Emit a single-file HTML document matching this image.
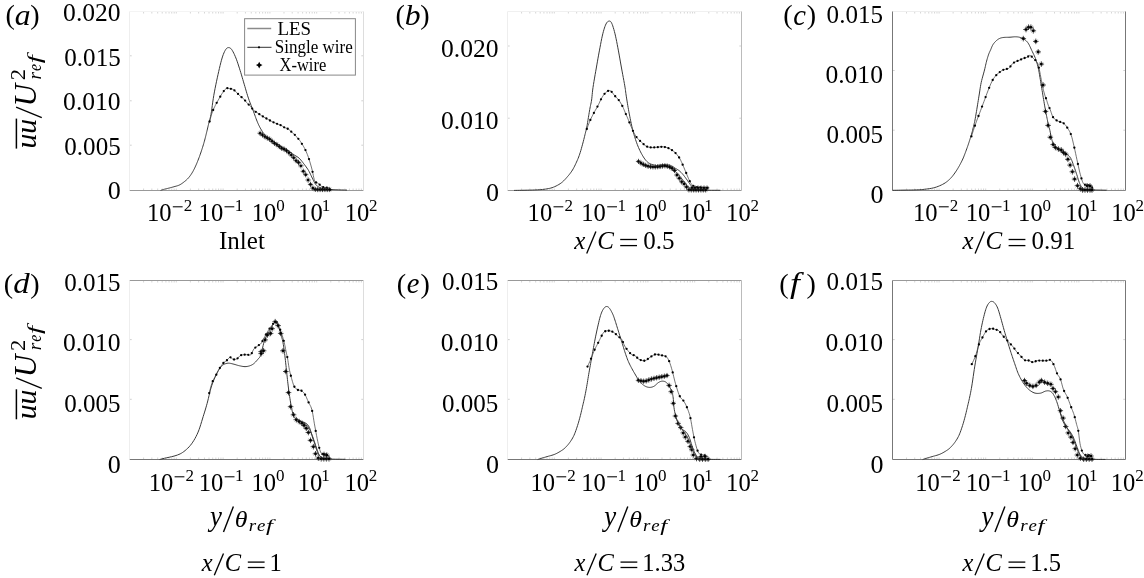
<!DOCTYPE html>
<html><head><meta charset="utf-8"><style>
html,body{margin:0;padding:0;background:#fff;width:1144px;height:578px;overflow:hidden}
svg{display:block;will-change:transform}
text{font-family:"Liberation Serif",serif;fill:#000}
</style></head><body>
<svg width="1144" height="578" viewBox="0 0 1144 578">
<line x1="129.50" y1="11.50" x2="363.50" y2="11.50" stroke="#f4f4f4" stroke-width="1.0" />
<line x1="129.50" y1="190.50" x2="363.50" y2="190.50" stroke="#999" stroke-width="1.0" />
<line x1="129.50" y1="11.50" x2="129.50" y2="190.50" stroke="#eee" stroke-width="1.0" />
<line x1="363.50" y1="11.50" x2="363.50" y2="190.50" stroke="#ddd" stroke-width="1.0" />
<line x1="143.59" y1="12.00" x2="143.59" y2="13.50" stroke="#ccc" stroke-width="0.8" />
<line x1="143.59" y1="190.00" x2="143.59" y2="188.50" stroke="#ccc" stroke-width="0.8" />
<line x1="151.83" y1="12.00" x2="151.83" y2="13.50" stroke="#ccc" stroke-width="0.8" />
<line x1="151.83" y1="190.00" x2="151.83" y2="188.50" stroke="#ccc" stroke-width="0.8" />
<line x1="157.68" y1="12.00" x2="157.68" y2="13.50" stroke="#ccc" stroke-width="0.8" />
<line x1="157.68" y1="190.00" x2="157.68" y2="188.50" stroke="#ccc" stroke-width="0.8" />
<line x1="162.21" y1="12.00" x2="162.21" y2="13.50" stroke="#ccc" stroke-width="0.8" />
<line x1="162.21" y1="190.00" x2="162.21" y2="188.50" stroke="#ccc" stroke-width="0.8" />
<line x1="165.92" y1="12.00" x2="165.92" y2="13.50" stroke="#ccc" stroke-width="0.8" />
<line x1="165.92" y1="190.00" x2="165.92" y2="188.50" stroke="#ccc" stroke-width="0.8" />
<line x1="169.05" y1="12.00" x2="169.05" y2="13.50" stroke="#ccc" stroke-width="0.8" />
<line x1="169.05" y1="190.00" x2="169.05" y2="188.50" stroke="#ccc" stroke-width="0.8" />
<line x1="171.76" y1="12.00" x2="171.76" y2="13.50" stroke="#ccc" stroke-width="0.8" />
<line x1="171.76" y1="190.00" x2="171.76" y2="188.50" stroke="#ccc" stroke-width="0.8" />
<line x1="174.16" y1="12.00" x2="174.16" y2="13.50" stroke="#ccc" stroke-width="0.8" />
<line x1="174.16" y1="190.00" x2="174.16" y2="188.50" stroke="#ccc" stroke-width="0.8" />
<line x1="176.30" y1="12.00" x2="176.30" y2="13.50" stroke="#ccc" stroke-width="0.8" />
<line x1="176.30" y1="190.00" x2="176.30" y2="188.50" stroke="#ccc" stroke-width="0.8" />
<line x1="190.39" y1="12.00" x2="190.39" y2="13.50" stroke="#ccc" stroke-width="0.8" />
<line x1="190.39" y1="190.00" x2="190.39" y2="188.50" stroke="#ccc" stroke-width="0.8" />
<line x1="198.63" y1="12.00" x2="198.63" y2="13.50" stroke="#ccc" stroke-width="0.8" />
<line x1="198.63" y1="190.00" x2="198.63" y2="188.50" stroke="#ccc" stroke-width="0.8" />
<line x1="204.48" y1="12.00" x2="204.48" y2="13.50" stroke="#ccc" stroke-width="0.8" />
<line x1="204.48" y1="190.00" x2="204.48" y2="188.50" stroke="#ccc" stroke-width="0.8" />
<line x1="209.01" y1="12.00" x2="209.01" y2="13.50" stroke="#ccc" stroke-width="0.8" />
<line x1="209.01" y1="190.00" x2="209.01" y2="188.50" stroke="#ccc" stroke-width="0.8" />
<line x1="212.72" y1="12.00" x2="212.72" y2="13.50" stroke="#ccc" stroke-width="0.8" />
<line x1="212.72" y1="190.00" x2="212.72" y2="188.50" stroke="#ccc" stroke-width="0.8" />
<line x1="215.85" y1="12.00" x2="215.85" y2="13.50" stroke="#ccc" stroke-width="0.8" />
<line x1="215.85" y1="190.00" x2="215.85" y2="188.50" stroke="#ccc" stroke-width="0.8" />
<line x1="218.56" y1="12.00" x2="218.56" y2="13.50" stroke="#ccc" stroke-width="0.8" />
<line x1="218.56" y1="190.00" x2="218.56" y2="188.50" stroke="#ccc" stroke-width="0.8" />
<line x1="220.96" y1="12.00" x2="220.96" y2="13.50" stroke="#ccc" stroke-width="0.8" />
<line x1="220.96" y1="190.00" x2="220.96" y2="188.50" stroke="#ccc" stroke-width="0.8" />
<line x1="223.10" y1="12.00" x2="223.10" y2="13.50" stroke="#ccc" stroke-width="0.8" />
<line x1="223.10" y1="190.00" x2="223.10" y2="188.50" stroke="#ccc" stroke-width="0.8" />
<line x1="237.19" y1="12.00" x2="237.19" y2="13.50" stroke="#ccc" stroke-width="0.8" />
<line x1="237.19" y1="190.00" x2="237.19" y2="188.50" stroke="#ccc" stroke-width="0.8" />
<line x1="245.43" y1="12.00" x2="245.43" y2="13.50" stroke="#ccc" stroke-width="0.8" />
<line x1="245.43" y1="190.00" x2="245.43" y2="188.50" stroke="#ccc" stroke-width="0.8" />
<line x1="251.28" y1="12.00" x2="251.28" y2="13.50" stroke="#ccc" stroke-width="0.8" />
<line x1="251.28" y1="190.00" x2="251.28" y2="188.50" stroke="#ccc" stroke-width="0.8" />
<line x1="255.81" y1="12.00" x2="255.81" y2="13.50" stroke="#ccc" stroke-width="0.8" />
<line x1="255.81" y1="190.00" x2="255.81" y2="188.50" stroke="#ccc" stroke-width="0.8" />
<line x1="259.52" y1="12.00" x2="259.52" y2="13.50" stroke="#ccc" stroke-width="0.8" />
<line x1="259.52" y1="190.00" x2="259.52" y2="188.50" stroke="#ccc" stroke-width="0.8" />
<line x1="262.65" y1="12.00" x2="262.65" y2="13.50" stroke="#ccc" stroke-width="0.8" />
<line x1="262.65" y1="190.00" x2="262.65" y2="188.50" stroke="#ccc" stroke-width="0.8" />
<line x1="265.36" y1="12.00" x2="265.36" y2="13.50" stroke="#ccc" stroke-width="0.8" />
<line x1="265.36" y1="190.00" x2="265.36" y2="188.50" stroke="#ccc" stroke-width="0.8" />
<line x1="267.76" y1="12.00" x2="267.76" y2="13.50" stroke="#ccc" stroke-width="0.8" />
<line x1="267.76" y1="190.00" x2="267.76" y2="188.50" stroke="#ccc" stroke-width="0.8" />
<line x1="269.90" y1="12.00" x2="269.90" y2="13.50" stroke="#ccc" stroke-width="0.8" />
<line x1="269.90" y1="190.00" x2="269.90" y2="188.50" stroke="#ccc" stroke-width="0.8" />
<line x1="283.99" y1="12.00" x2="283.99" y2="13.50" stroke="#ccc" stroke-width="0.8" />
<line x1="283.99" y1="190.00" x2="283.99" y2="188.50" stroke="#ccc" stroke-width="0.8" />
<line x1="292.23" y1="12.00" x2="292.23" y2="13.50" stroke="#ccc" stroke-width="0.8" />
<line x1="292.23" y1="190.00" x2="292.23" y2="188.50" stroke="#ccc" stroke-width="0.8" />
<line x1="298.08" y1="12.00" x2="298.08" y2="13.50" stroke="#ccc" stroke-width="0.8" />
<line x1="298.08" y1="190.00" x2="298.08" y2="188.50" stroke="#ccc" stroke-width="0.8" />
<line x1="302.61" y1="12.00" x2="302.61" y2="13.50" stroke="#ccc" stroke-width="0.8" />
<line x1="302.61" y1="190.00" x2="302.61" y2="188.50" stroke="#ccc" stroke-width="0.8" />
<line x1="306.32" y1="12.00" x2="306.32" y2="13.50" stroke="#ccc" stroke-width="0.8" />
<line x1="306.32" y1="190.00" x2="306.32" y2="188.50" stroke="#ccc" stroke-width="0.8" />
<line x1="309.45" y1="12.00" x2="309.45" y2="13.50" stroke="#ccc" stroke-width="0.8" />
<line x1="309.45" y1="190.00" x2="309.45" y2="188.50" stroke="#ccc" stroke-width="0.8" />
<line x1="312.16" y1="12.00" x2="312.16" y2="13.50" stroke="#ccc" stroke-width="0.8" />
<line x1="312.16" y1="190.00" x2="312.16" y2="188.50" stroke="#ccc" stroke-width="0.8" />
<line x1="314.56" y1="12.00" x2="314.56" y2="13.50" stroke="#ccc" stroke-width="0.8" />
<line x1="314.56" y1="190.00" x2="314.56" y2="188.50" stroke="#ccc" stroke-width="0.8" />
<line x1="316.70" y1="12.00" x2="316.70" y2="13.50" stroke="#ccc" stroke-width="0.8" />
<line x1="316.70" y1="190.00" x2="316.70" y2="188.50" stroke="#ccc" stroke-width="0.8" />
<line x1="330.79" y1="12.00" x2="330.79" y2="13.50" stroke="#ccc" stroke-width="0.8" />
<line x1="330.79" y1="190.00" x2="330.79" y2="188.50" stroke="#ccc" stroke-width="0.8" />
<line x1="339.03" y1="12.00" x2="339.03" y2="13.50" stroke="#ccc" stroke-width="0.8" />
<line x1="339.03" y1="190.00" x2="339.03" y2="188.50" stroke="#ccc" stroke-width="0.8" />
<line x1="344.88" y1="12.00" x2="344.88" y2="13.50" stroke="#ccc" stroke-width="0.8" />
<line x1="344.88" y1="190.00" x2="344.88" y2="188.50" stroke="#ccc" stroke-width="0.8" />
<line x1="349.41" y1="12.00" x2="349.41" y2="13.50" stroke="#ccc" stroke-width="0.8" />
<line x1="349.41" y1="190.00" x2="349.41" y2="188.50" stroke="#ccc" stroke-width="0.8" />
<line x1="353.12" y1="12.00" x2="353.12" y2="13.50" stroke="#ccc" stroke-width="0.8" />
<line x1="353.12" y1="190.00" x2="353.12" y2="188.50" stroke="#ccc" stroke-width="0.8" />
<line x1="356.25" y1="12.00" x2="356.25" y2="13.50" stroke="#ccc" stroke-width="0.8" />
<line x1="356.25" y1="190.00" x2="356.25" y2="188.50" stroke="#ccc" stroke-width="0.8" />
<line x1="358.96" y1="12.00" x2="358.96" y2="13.50" stroke="#ccc" stroke-width="0.8" />
<line x1="358.96" y1="190.00" x2="358.96" y2="188.50" stroke="#ccc" stroke-width="0.8" />
<line x1="361.36" y1="12.00" x2="361.36" y2="13.50" stroke="#ccc" stroke-width="0.8" />
<line x1="361.36" y1="190.00" x2="361.36" y2="188.50" stroke="#ccc" stroke-width="0.8" />
<line x1="130.00" y1="145.20" x2="131.70" y2="145.20" stroke="#ccc" stroke-width="0.9" />
<line x1="363.00" y1="145.20" x2="361.30" y2="145.20" stroke="#ccc" stroke-width="0.9" />
<line x1="130.00" y1="100.80" x2="131.70" y2="100.80" stroke="#ccc" stroke-width="0.9" />
<line x1="363.00" y1="100.80" x2="361.30" y2="100.80" stroke="#ccc" stroke-width="0.9" />
<line x1="130.00" y1="55.80" x2="131.70" y2="55.80" stroke="#ccc" stroke-width="0.9" />
<line x1="363.00" y1="55.80" x2="361.30" y2="55.80" stroke="#ccc" stroke-width="0.9" />
<line x1="507.50" y1="11.50" x2="741.50" y2="11.50" stroke="#f0f0f0" stroke-width="1.0" />
<line x1="507.50" y1="190.50" x2="741.50" y2="190.50" stroke="#999" stroke-width="1.0" />
<line x1="507.50" y1="11.50" x2="507.50" y2="190.50" stroke="#eee" stroke-width="1.0" />
<line x1="741.50" y1="11.50" x2="741.50" y2="190.50" stroke="#bbb" stroke-width="1.0" />
<line x1="521.59" y1="12.00" x2="521.59" y2="13.50" stroke="#ccc" stroke-width="0.8" />
<line x1="521.59" y1="190.00" x2="521.59" y2="188.50" stroke="#ccc" stroke-width="0.8" />
<line x1="529.83" y1="12.00" x2="529.83" y2="13.50" stroke="#ccc" stroke-width="0.8" />
<line x1="529.83" y1="190.00" x2="529.83" y2="188.50" stroke="#ccc" stroke-width="0.8" />
<line x1="535.68" y1="12.00" x2="535.68" y2="13.50" stroke="#ccc" stroke-width="0.8" />
<line x1="535.68" y1="190.00" x2="535.68" y2="188.50" stroke="#ccc" stroke-width="0.8" />
<line x1="540.21" y1="12.00" x2="540.21" y2="13.50" stroke="#ccc" stroke-width="0.8" />
<line x1="540.21" y1="190.00" x2="540.21" y2="188.50" stroke="#ccc" stroke-width="0.8" />
<line x1="543.92" y1="12.00" x2="543.92" y2="13.50" stroke="#ccc" stroke-width="0.8" />
<line x1="543.92" y1="190.00" x2="543.92" y2="188.50" stroke="#ccc" stroke-width="0.8" />
<line x1="547.05" y1="12.00" x2="547.05" y2="13.50" stroke="#ccc" stroke-width="0.8" />
<line x1="547.05" y1="190.00" x2="547.05" y2="188.50" stroke="#ccc" stroke-width="0.8" />
<line x1="549.76" y1="12.00" x2="549.76" y2="13.50" stroke="#ccc" stroke-width="0.8" />
<line x1="549.76" y1="190.00" x2="549.76" y2="188.50" stroke="#ccc" stroke-width="0.8" />
<line x1="552.16" y1="12.00" x2="552.16" y2="13.50" stroke="#ccc" stroke-width="0.8" />
<line x1="552.16" y1="190.00" x2="552.16" y2="188.50" stroke="#ccc" stroke-width="0.8" />
<line x1="554.30" y1="12.00" x2="554.30" y2="13.50" stroke="#ccc" stroke-width="0.8" />
<line x1="554.30" y1="190.00" x2="554.30" y2="188.50" stroke="#ccc" stroke-width="0.8" />
<line x1="568.39" y1="12.00" x2="568.39" y2="13.50" stroke="#ccc" stroke-width="0.8" />
<line x1="568.39" y1="190.00" x2="568.39" y2="188.50" stroke="#ccc" stroke-width="0.8" />
<line x1="576.63" y1="12.00" x2="576.63" y2="13.50" stroke="#ccc" stroke-width="0.8" />
<line x1="576.63" y1="190.00" x2="576.63" y2="188.50" stroke="#ccc" stroke-width="0.8" />
<line x1="582.48" y1="12.00" x2="582.48" y2="13.50" stroke="#ccc" stroke-width="0.8" />
<line x1="582.48" y1="190.00" x2="582.48" y2="188.50" stroke="#ccc" stroke-width="0.8" />
<line x1="587.01" y1="12.00" x2="587.01" y2="13.50" stroke="#ccc" stroke-width="0.8" />
<line x1="587.01" y1="190.00" x2="587.01" y2="188.50" stroke="#ccc" stroke-width="0.8" />
<line x1="590.72" y1="12.00" x2="590.72" y2="13.50" stroke="#ccc" stroke-width="0.8" />
<line x1="590.72" y1="190.00" x2="590.72" y2="188.50" stroke="#ccc" stroke-width="0.8" />
<line x1="593.85" y1="12.00" x2="593.85" y2="13.50" stroke="#ccc" stroke-width="0.8" />
<line x1="593.85" y1="190.00" x2="593.85" y2="188.50" stroke="#ccc" stroke-width="0.8" />
<line x1="596.56" y1="12.00" x2="596.56" y2="13.50" stroke="#ccc" stroke-width="0.8" />
<line x1="596.56" y1="190.00" x2="596.56" y2="188.50" stroke="#ccc" stroke-width="0.8" />
<line x1="598.96" y1="12.00" x2="598.96" y2="13.50" stroke="#ccc" stroke-width="0.8" />
<line x1="598.96" y1="190.00" x2="598.96" y2="188.50" stroke="#ccc" stroke-width="0.8" />
<line x1="601.10" y1="12.00" x2="601.10" y2="13.50" stroke="#ccc" stroke-width="0.8" />
<line x1="601.10" y1="190.00" x2="601.10" y2="188.50" stroke="#ccc" stroke-width="0.8" />
<line x1="615.19" y1="12.00" x2="615.19" y2="13.50" stroke="#ccc" stroke-width="0.8" />
<line x1="615.19" y1="190.00" x2="615.19" y2="188.50" stroke="#ccc" stroke-width="0.8" />
<line x1="623.43" y1="12.00" x2="623.43" y2="13.50" stroke="#ccc" stroke-width="0.8" />
<line x1="623.43" y1="190.00" x2="623.43" y2="188.50" stroke="#ccc" stroke-width="0.8" />
<line x1="629.28" y1="12.00" x2="629.28" y2="13.50" stroke="#ccc" stroke-width="0.8" />
<line x1="629.28" y1="190.00" x2="629.28" y2="188.50" stroke="#ccc" stroke-width="0.8" />
<line x1="633.81" y1="12.00" x2="633.81" y2="13.50" stroke="#ccc" stroke-width="0.8" />
<line x1="633.81" y1="190.00" x2="633.81" y2="188.50" stroke="#ccc" stroke-width="0.8" />
<line x1="637.52" y1="12.00" x2="637.52" y2="13.50" stroke="#ccc" stroke-width="0.8" />
<line x1="637.52" y1="190.00" x2="637.52" y2="188.50" stroke="#ccc" stroke-width="0.8" />
<line x1="640.65" y1="12.00" x2="640.65" y2="13.50" stroke="#ccc" stroke-width="0.8" />
<line x1="640.65" y1="190.00" x2="640.65" y2="188.50" stroke="#ccc" stroke-width="0.8" />
<line x1="643.36" y1="12.00" x2="643.36" y2="13.50" stroke="#ccc" stroke-width="0.8" />
<line x1="643.36" y1="190.00" x2="643.36" y2="188.50" stroke="#ccc" stroke-width="0.8" />
<line x1="645.76" y1="12.00" x2="645.76" y2="13.50" stroke="#ccc" stroke-width="0.8" />
<line x1="645.76" y1="190.00" x2="645.76" y2="188.50" stroke="#ccc" stroke-width="0.8" />
<line x1="647.90" y1="12.00" x2="647.90" y2="13.50" stroke="#ccc" stroke-width="0.8" />
<line x1="647.90" y1="190.00" x2="647.90" y2="188.50" stroke="#ccc" stroke-width="0.8" />
<line x1="661.99" y1="12.00" x2="661.99" y2="13.50" stroke="#ccc" stroke-width="0.8" />
<line x1="661.99" y1="190.00" x2="661.99" y2="188.50" stroke="#ccc" stroke-width="0.8" />
<line x1="670.23" y1="12.00" x2="670.23" y2="13.50" stroke="#ccc" stroke-width="0.8" />
<line x1="670.23" y1="190.00" x2="670.23" y2="188.50" stroke="#ccc" stroke-width="0.8" />
<line x1="676.08" y1="12.00" x2="676.08" y2="13.50" stroke="#ccc" stroke-width="0.8" />
<line x1="676.08" y1="190.00" x2="676.08" y2="188.50" stroke="#ccc" stroke-width="0.8" />
<line x1="680.61" y1="12.00" x2="680.61" y2="13.50" stroke="#ccc" stroke-width="0.8" />
<line x1="680.61" y1="190.00" x2="680.61" y2="188.50" stroke="#ccc" stroke-width="0.8" />
<line x1="684.32" y1="12.00" x2="684.32" y2="13.50" stroke="#ccc" stroke-width="0.8" />
<line x1="684.32" y1="190.00" x2="684.32" y2="188.50" stroke="#ccc" stroke-width="0.8" />
<line x1="687.45" y1="12.00" x2="687.45" y2="13.50" stroke="#ccc" stroke-width="0.8" />
<line x1="687.45" y1="190.00" x2="687.45" y2="188.50" stroke="#ccc" stroke-width="0.8" />
<line x1="690.16" y1="12.00" x2="690.16" y2="13.50" stroke="#ccc" stroke-width="0.8" />
<line x1="690.16" y1="190.00" x2="690.16" y2="188.50" stroke="#ccc" stroke-width="0.8" />
<line x1="692.56" y1="12.00" x2="692.56" y2="13.50" stroke="#ccc" stroke-width="0.8" />
<line x1="692.56" y1="190.00" x2="692.56" y2="188.50" stroke="#ccc" stroke-width="0.8" />
<line x1="694.70" y1="12.00" x2="694.70" y2="13.50" stroke="#ccc" stroke-width="0.8" />
<line x1="694.70" y1="190.00" x2="694.70" y2="188.50" stroke="#ccc" stroke-width="0.8" />
<line x1="708.79" y1="12.00" x2="708.79" y2="13.50" stroke="#ccc" stroke-width="0.8" />
<line x1="708.79" y1="190.00" x2="708.79" y2="188.50" stroke="#ccc" stroke-width="0.8" />
<line x1="717.03" y1="12.00" x2="717.03" y2="13.50" stroke="#ccc" stroke-width="0.8" />
<line x1="717.03" y1="190.00" x2="717.03" y2="188.50" stroke="#ccc" stroke-width="0.8" />
<line x1="722.88" y1="12.00" x2="722.88" y2="13.50" stroke="#ccc" stroke-width="0.8" />
<line x1="722.88" y1="190.00" x2="722.88" y2="188.50" stroke="#ccc" stroke-width="0.8" />
<line x1="727.41" y1="12.00" x2="727.41" y2="13.50" stroke="#ccc" stroke-width="0.8" />
<line x1="727.41" y1="190.00" x2="727.41" y2="188.50" stroke="#ccc" stroke-width="0.8" />
<line x1="731.12" y1="12.00" x2="731.12" y2="13.50" stroke="#ccc" stroke-width="0.8" />
<line x1="731.12" y1="190.00" x2="731.12" y2="188.50" stroke="#ccc" stroke-width="0.8" />
<line x1="734.25" y1="12.00" x2="734.25" y2="13.50" stroke="#ccc" stroke-width="0.8" />
<line x1="734.25" y1="190.00" x2="734.25" y2="188.50" stroke="#ccc" stroke-width="0.8" />
<line x1="736.96" y1="12.00" x2="736.96" y2="13.50" stroke="#ccc" stroke-width="0.8" />
<line x1="736.96" y1="190.00" x2="736.96" y2="188.50" stroke="#ccc" stroke-width="0.8" />
<line x1="739.36" y1="12.00" x2="739.36" y2="13.50" stroke="#ccc" stroke-width="0.8" />
<line x1="739.36" y1="190.00" x2="739.36" y2="188.50" stroke="#ccc" stroke-width="0.8" />
<line x1="508.00" y1="118.20" x2="509.70" y2="118.20" stroke="#ccc" stroke-width="0.9" />
<line x1="741.00" y1="118.20" x2="739.30" y2="118.20" stroke="#ccc" stroke-width="0.9" />
<line x1="508.00" y1="46.00" x2="509.70" y2="46.00" stroke="#ccc" stroke-width="0.9" />
<line x1="741.00" y1="46.00" x2="739.30" y2="46.00" stroke="#ccc" stroke-width="0.9" />
<line x1="892.50" y1="11.50" x2="1125.50" y2="11.50" stroke="#eee" stroke-width="1.0" />
<line x1="892.50" y1="190.50" x2="1125.50" y2="190.50" stroke="#888" stroke-width="1.0" />
<line x1="892.50" y1="11.50" x2="892.50" y2="190.50" stroke="#777" stroke-width="1.0" />
<line x1="1125.50" y1="11.50" x2="1125.50" y2="190.50" stroke="#777" stroke-width="1.0" />
<line x1="906.53" y1="12.00" x2="906.53" y2="13.50" stroke="#ccc" stroke-width="0.8" />
<line x1="906.53" y1="190.00" x2="906.53" y2="188.50" stroke="#ccc" stroke-width="0.8" />
<line x1="914.73" y1="12.00" x2="914.73" y2="13.50" stroke="#ccc" stroke-width="0.8" />
<line x1="914.73" y1="190.00" x2="914.73" y2="188.50" stroke="#ccc" stroke-width="0.8" />
<line x1="920.56" y1="12.00" x2="920.56" y2="13.50" stroke="#ccc" stroke-width="0.8" />
<line x1="920.56" y1="190.00" x2="920.56" y2="188.50" stroke="#ccc" stroke-width="0.8" />
<line x1="925.07" y1="12.00" x2="925.07" y2="13.50" stroke="#ccc" stroke-width="0.8" />
<line x1="925.07" y1="190.00" x2="925.07" y2="188.50" stroke="#ccc" stroke-width="0.8" />
<line x1="928.76" y1="12.00" x2="928.76" y2="13.50" stroke="#ccc" stroke-width="0.8" />
<line x1="928.76" y1="190.00" x2="928.76" y2="188.50" stroke="#ccc" stroke-width="0.8" />
<line x1="931.88" y1="12.00" x2="931.88" y2="13.50" stroke="#ccc" stroke-width="0.8" />
<line x1="931.88" y1="190.00" x2="931.88" y2="188.50" stroke="#ccc" stroke-width="0.8" />
<line x1="934.58" y1="12.00" x2="934.58" y2="13.50" stroke="#ccc" stroke-width="0.8" />
<line x1="934.58" y1="190.00" x2="934.58" y2="188.50" stroke="#ccc" stroke-width="0.8" />
<line x1="936.97" y1="12.00" x2="936.97" y2="13.50" stroke="#ccc" stroke-width="0.8" />
<line x1="936.97" y1="190.00" x2="936.97" y2="188.50" stroke="#ccc" stroke-width="0.8" />
<line x1="939.10" y1="12.00" x2="939.10" y2="13.50" stroke="#ccc" stroke-width="0.8" />
<line x1="939.10" y1="190.00" x2="939.10" y2="188.50" stroke="#ccc" stroke-width="0.8" />
<line x1="953.13" y1="12.00" x2="953.13" y2="13.50" stroke="#ccc" stroke-width="0.8" />
<line x1="953.13" y1="190.00" x2="953.13" y2="188.50" stroke="#ccc" stroke-width="0.8" />
<line x1="961.33" y1="12.00" x2="961.33" y2="13.50" stroke="#ccc" stroke-width="0.8" />
<line x1="961.33" y1="190.00" x2="961.33" y2="188.50" stroke="#ccc" stroke-width="0.8" />
<line x1="967.16" y1="12.00" x2="967.16" y2="13.50" stroke="#ccc" stroke-width="0.8" />
<line x1="967.16" y1="190.00" x2="967.16" y2="188.50" stroke="#ccc" stroke-width="0.8" />
<line x1="971.67" y1="12.00" x2="971.67" y2="13.50" stroke="#ccc" stroke-width="0.8" />
<line x1="971.67" y1="190.00" x2="971.67" y2="188.50" stroke="#ccc" stroke-width="0.8" />
<line x1="975.36" y1="12.00" x2="975.36" y2="13.50" stroke="#ccc" stroke-width="0.8" />
<line x1="975.36" y1="190.00" x2="975.36" y2="188.50" stroke="#ccc" stroke-width="0.8" />
<line x1="978.48" y1="12.00" x2="978.48" y2="13.50" stroke="#ccc" stroke-width="0.8" />
<line x1="978.48" y1="190.00" x2="978.48" y2="188.50" stroke="#ccc" stroke-width="0.8" />
<line x1="981.18" y1="12.00" x2="981.18" y2="13.50" stroke="#ccc" stroke-width="0.8" />
<line x1="981.18" y1="190.00" x2="981.18" y2="188.50" stroke="#ccc" stroke-width="0.8" />
<line x1="983.57" y1="12.00" x2="983.57" y2="13.50" stroke="#ccc" stroke-width="0.8" />
<line x1="983.57" y1="190.00" x2="983.57" y2="188.50" stroke="#ccc" stroke-width="0.8" />
<line x1="985.70" y1="12.00" x2="985.70" y2="13.50" stroke="#ccc" stroke-width="0.8" />
<line x1="985.70" y1="190.00" x2="985.70" y2="188.50" stroke="#ccc" stroke-width="0.8" />
<line x1="999.73" y1="12.00" x2="999.73" y2="13.50" stroke="#ccc" stroke-width="0.8" />
<line x1="999.73" y1="190.00" x2="999.73" y2="188.50" stroke="#ccc" stroke-width="0.8" />
<line x1="1007.93" y1="12.00" x2="1007.93" y2="13.50" stroke="#ccc" stroke-width="0.8" />
<line x1="1007.93" y1="190.00" x2="1007.93" y2="188.50" stroke="#ccc" stroke-width="0.8" />
<line x1="1013.76" y1="12.00" x2="1013.76" y2="13.50" stroke="#ccc" stroke-width="0.8" />
<line x1="1013.76" y1="190.00" x2="1013.76" y2="188.50" stroke="#ccc" stroke-width="0.8" />
<line x1="1018.27" y1="12.00" x2="1018.27" y2="13.50" stroke="#ccc" stroke-width="0.8" />
<line x1="1018.27" y1="190.00" x2="1018.27" y2="188.50" stroke="#ccc" stroke-width="0.8" />
<line x1="1021.96" y1="12.00" x2="1021.96" y2="13.50" stroke="#ccc" stroke-width="0.8" />
<line x1="1021.96" y1="190.00" x2="1021.96" y2="188.50" stroke="#ccc" stroke-width="0.8" />
<line x1="1025.08" y1="12.00" x2="1025.08" y2="13.50" stroke="#ccc" stroke-width="0.8" />
<line x1="1025.08" y1="190.00" x2="1025.08" y2="188.50" stroke="#ccc" stroke-width="0.8" />
<line x1="1027.78" y1="12.00" x2="1027.78" y2="13.50" stroke="#ccc" stroke-width="0.8" />
<line x1="1027.78" y1="190.00" x2="1027.78" y2="188.50" stroke="#ccc" stroke-width="0.8" />
<line x1="1030.17" y1="12.00" x2="1030.17" y2="13.50" stroke="#ccc" stroke-width="0.8" />
<line x1="1030.17" y1="190.00" x2="1030.17" y2="188.50" stroke="#ccc" stroke-width="0.8" />
<line x1="1032.30" y1="12.00" x2="1032.30" y2="13.50" stroke="#ccc" stroke-width="0.8" />
<line x1="1032.30" y1="190.00" x2="1032.30" y2="188.50" stroke="#ccc" stroke-width="0.8" />
<line x1="1046.33" y1="12.00" x2="1046.33" y2="13.50" stroke="#ccc" stroke-width="0.8" />
<line x1="1046.33" y1="190.00" x2="1046.33" y2="188.50" stroke="#ccc" stroke-width="0.8" />
<line x1="1054.53" y1="12.00" x2="1054.53" y2="13.50" stroke="#ccc" stroke-width="0.8" />
<line x1="1054.53" y1="190.00" x2="1054.53" y2="188.50" stroke="#ccc" stroke-width="0.8" />
<line x1="1060.36" y1="12.00" x2="1060.36" y2="13.50" stroke="#ccc" stroke-width="0.8" />
<line x1="1060.36" y1="190.00" x2="1060.36" y2="188.50" stroke="#ccc" stroke-width="0.8" />
<line x1="1064.87" y1="12.00" x2="1064.87" y2="13.50" stroke="#ccc" stroke-width="0.8" />
<line x1="1064.87" y1="190.00" x2="1064.87" y2="188.50" stroke="#ccc" stroke-width="0.8" />
<line x1="1068.56" y1="12.00" x2="1068.56" y2="13.50" stroke="#ccc" stroke-width="0.8" />
<line x1="1068.56" y1="190.00" x2="1068.56" y2="188.50" stroke="#ccc" stroke-width="0.8" />
<line x1="1071.68" y1="12.00" x2="1071.68" y2="13.50" stroke="#ccc" stroke-width="0.8" />
<line x1="1071.68" y1="190.00" x2="1071.68" y2="188.50" stroke="#ccc" stroke-width="0.8" />
<line x1="1074.38" y1="12.00" x2="1074.38" y2="13.50" stroke="#ccc" stroke-width="0.8" />
<line x1="1074.38" y1="190.00" x2="1074.38" y2="188.50" stroke="#ccc" stroke-width="0.8" />
<line x1="1076.77" y1="12.00" x2="1076.77" y2="13.50" stroke="#ccc" stroke-width="0.8" />
<line x1="1076.77" y1="190.00" x2="1076.77" y2="188.50" stroke="#ccc" stroke-width="0.8" />
<line x1="1078.90" y1="12.00" x2="1078.90" y2="13.50" stroke="#ccc" stroke-width="0.8" />
<line x1="1078.90" y1="190.00" x2="1078.90" y2="188.50" stroke="#ccc" stroke-width="0.8" />
<line x1="1092.93" y1="12.00" x2="1092.93" y2="13.50" stroke="#ccc" stroke-width="0.8" />
<line x1="1092.93" y1="190.00" x2="1092.93" y2="188.50" stroke="#ccc" stroke-width="0.8" />
<line x1="1101.13" y1="12.00" x2="1101.13" y2="13.50" stroke="#ccc" stroke-width="0.8" />
<line x1="1101.13" y1="190.00" x2="1101.13" y2="188.50" stroke="#ccc" stroke-width="0.8" />
<line x1="1106.96" y1="12.00" x2="1106.96" y2="13.50" stroke="#ccc" stroke-width="0.8" />
<line x1="1106.96" y1="190.00" x2="1106.96" y2="188.50" stroke="#ccc" stroke-width="0.8" />
<line x1="1111.47" y1="12.00" x2="1111.47" y2="13.50" stroke="#ccc" stroke-width="0.8" />
<line x1="1111.47" y1="190.00" x2="1111.47" y2="188.50" stroke="#ccc" stroke-width="0.8" />
<line x1="1115.16" y1="12.00" x2="1115.16" y2="13.50" stroke="#ccc" stroke-width="0.8" />
<line x1="1115.16" y1="190.00" x2="1115.16" y2="188.50" stroke="#ccc" stroke-width="0.8" />
<line x1="1118.28" y1="12.00" x2="1118.28" y2="13.50" stroke="#ccc" stroke-width="0.8" />
<line x1="1118.28" y1="190.00" x2="1118.28" y2="188.50" stroke="#ccc" stroke-width="0.8" />
<line x1="1120.98" y1="12.00" x2="1120.98" y2="13.50" stroke="#ccc" stroke-width="0.8" />
<line x1="1120.98" y1="190.00" x2="1120.98" y2="188.50" stroke="#ccc" stroke-width="0.8" />
<line x1="1123.37" y1="12.00" x2="1123.37" y2="13.50" stroke="#ccc" stroke-width="0.8" />
<line x1="1123.37" y1="190.00" x2="1123.37" y2="188.50" stroke="#ccc" stroke-width="0.8" />
<line x1="893.00" y1="130.20" x2="894.70" y2="130.20" stroke="#ccc" stroke-width="0.9" />
<line x1="1125.00" y1="130.20" x2="1123.30" y2="130.20" stroke="#ccc" stroke-width="0.9" />
<line x1="893.00" y1="70.50" x2="894.70" y2="70.50" stroke="#ccc" stroke-width="0.9" />
<line x1="1125.00" y1="70.50" x2="1123.30" y2="70.50" stroke="#ccc" stroke-width="0.9" />
<line x1="129.50" y1="280.50" x2="363.50" y2="280.50" stroke="#999" stroke-width="1.0" />
<line x1="129.50" y1="459.50" x2="363.50" y2="459.50" stroke="#777" stroke-width="1.0" />
<line x1="129.50" y1="280.50" x2="129.50" y2="459.50" stroke="#eee" stroke-width="1.0" />
<line x1="363.50" y1="280.50" x2="363.50" y2="459.50" stroke="#ddd" stroke-width="1.0" />
<line x1="143.59" y1="281.00" x2="143.59" y2="282.50" stroke="#ccc" stroke-width="0.8" />
<line x1="143.59" y1="459.00" x2="143.59" y2="457.50" stroke="#ccc" stroke-width="0.8" />
<line x1="151.83" y1="281.00" x2="151.83" y2="282.50" stroke="#ccc" stroke-width="0.8" />
<line x1="151.83" y1="459.00" x2="151.83" y2="457.50" stroke="#ccc" stroke-width="0.8" />
<line x1="157.68" y1="281.00" x2="157.68" y2="282.50" stroke="#ccc" stroke-width="0.8" />
<line x1="157.68" y1="459.00" x2="157.68" y2="457.50" stroke="#ccc" stroke-width="0.8" />
<line x1="162.21" y1="281.00" x2="162.21" y2="282.50" stroke="#ccc" stroke-width="0.8" />
<line x1="162.21" y1="459.00" x2="162.21" y2="457.50" stroke="#ccc" stroke-width="0.8" />
<line x1="165.92" y1="281.00" x2="165.92" y2="282.50" stroke="#ccc" stroke-width="0.8" />
<line x1="165.92" y1="459.00" x2="165.92" y2="457.50" stroke="#ccc" stroke-width="0.8" />
<line x1="169.05" y1="281.00" x2="169.05" y2="282.50" stroke="#ccc" stroke-width="0.8" />
<line x1="169.05" y1="459.00" x2="169.05" y2="457.50" stroke="#ccc" stroke-width="0.8" />
<line x1="171.76" y1="281.00" x2="171.76" y2="282.50" stroke="#ccc" stroke-width="0.8" />
<line x1="171.76" y1="459.00" x2="171.76" y2="457.50" stroke="#ccc" stroke-width="0.8" />
<line x1="174.16" y1="281.00" x2="174.16" y2="282.50" stroke="#ccc" stroke-width="0.8" />
<line x1="174.16" y1="459.00" x2="174.16" y2="457.50" stroke="#ccc" stroke-width="0.8" />
<line x1="176.30" y1="281.00" x2="176.30" y2="282.50" stroke="#ccc" stroke-width="0.8" />
<line x1="176.30" y1="459.00" x2="176.30" y2="457.50" stroke="#ccc" stroke-width="0.8" />
<line x1="190.39" y1="281.00" x2="190.39" y2="282.50" stroke="#ccc" stroke-width="0.8" />
<line x1="190.39" y1="459.00" x2="190.39" y2="457.50" stroke="#ccc" stroke-width="0.8" />
<line x1="198.63" y1="281.00" x2="198.63" y2="282.50" stroke="#ccc" stroke-width="0.8" />
<line x1="198.63" y1="459.00" x2="198.63" y2="457.50" stroke="#ccc" stroke-width="0.8" />
<line x1="204.48" y1="281.00" x2="204.48" y2="282.50" stroke="#ccc" stroke-width="0.8" />
<line x1="204.48" y1="459.00" x2="204.48" y2="457.50" stroke="#ccc" stroke-width="0.8" />
<line x1="209.01" y1="281.00" x2="209.01" y2="282.50" stroke="#ccc" stroke-width="0.8" />
<line x1="209.01" y1="459.00" x2="209.01" y2="457.50" stroke="#ccc" stroke-width="0.8" />
<line x1="212.72" y1="281.00" x2="212.72" y2="282.50" stroke="#ccc" stroke-width="0.8" />
<line x1="212.72" y1="459.00" x2="212.72" y2="457.50" stroke="#ccc" stroke-width="0.8" />
<line x1="215.85" y1="281.00" x2="215.85" y2="282.50" stroke="#ccc" stroke-width="0.8" />
<line x1="215.85" y1="459.00" x2="215.85" y2="457.50" stroke="#ccc" stroke-width="0.8" />
<line x1="218.56" y1="281.00" x2="218.56" y2="282.50" stroke="#ccc" stroke-width="0.8" />
<line x1="218.56" y1="459.00" x2="218.56" y2="457.50" stroke="#ccc" stroke-width="0.8" />
<line x1="220.96" y1="281.00" x2="220.96" y2="282.50" stroke="#ccc" stroke-width="0.8" />
<line x1="220.96" y1="459.00" x2="220.96" y2="457.50" stroke="#ccc" stroke-width="0.8" />
<line x1="223.10" y1="281.00" x2="223.10" y2="282.50" stroke="#ccc" stroke-width="0.8" />
<line x1="223.10" y1="459.00" x2="223.10" y2="457.50" stroke="#ccc" stroke-width="0.8" />
<line x1="237.19" y1="281.00" x2="237.19" y2="282.50" stroke="#ccc" stroke-width="0.8" />
<line x1="237.19" y1="459.00" x2="237.19" y2="457.50" stroke="#ccc" stroke-width="0.8" />
<line x1="245.43" y1="281.00" x2="245.43" y2="282.50" stroke="#ccc" stroke-width="0.8" />
<line x1="245.43" y1="459.00" x2="245.43" y2="457.50" stroke="#ccc" stroke-width="0.8" />
<line x1="251.28" y1="281.00" x2="251.28" y2="282.50" stroke="#ccc" stroke-width="0.8" />
<line x1="251.28" y1="459.00" x2="251.28" y2="457.50" stroke="#ccc" stroke-width="0.8" />
<line x1="255.81" y1="281.00" x2="255.81" y2="282.50" stroke="#ccc" stroke-width="0.8" />
<line x1="255.81" y1="459.00" x2="255.81" y2="457.50" stroke="#ccc" stroke-width="0.8" />
<line x1="259.52" y1="281.00" x2="259.52" y2="282.50" stroke="#ccc" stroke-width="0.8" />
<line x1="259.52" y1="459.00" x2="259.52" y2="457.50" stroke="#ccc" stroke-width="0.8" />
<line x1="262.65" y1="281.00" x2="262.65" y2="282.50" stroke="#ccc" stroke-width="0.8" />
<line x1="262.65" y1="459.00" x2="262.65" y2="457.50" stroke="#ccc" stroke-width="0.8" />
<line x1="265.36" y1="281.00" x2="265.36" y2="282.50" stroke="#ccc" stroke-width="0.8" />
<line x1="265.36" y1="459.00" x2="265.36" y2="457.50" stroke="#ccc" stroke-width="0.8" />
<line x1="267.76" y1="281.00" x2="267.76" y2="282.50" stroke="#ccc" stroke-width="0.8" />
<line x1="267.76" y1="459.00" x2="267.76" y2="457.50" stroke="#ccc" stroke-width="0.8" />
<line x1="269.90" y1="281.00" x2="269.90" y2="282.50" stroke="#ccc" stroke-width="0.8" />
<line x1="269.90" y1="459.00" x2="269.90" y2="457.50" stroke="#ccc" stroke-width="0.8" />
<line x1="283.99" y1="281.00" x2="283.99" y2="282.50" stroke="#ccc" stroke-width="0.8" />
<line x1="283.99" y1="459.00" x2="283.99" y2="457.50" stroke="#ccc" stroke-width="0.8" />
<line x1="292.23" y1="281.00" x2="292.23" y2="282.50" stroke="#ccc" stroke-width="0.8" />
<line x1="292.23" y1="459.00" x2="292.23" y2="457.50" stroke="#ccc" stroke-width="0.8" />
<line x1="298.08" y1="281.00" x2="298.08" y2="282.50" stroke="#ccc" stroke-width="0.8" />
<line x1="298.08" y1="459.00" x2="298.08" y2="457.50" stroke="#ccc" stroke-width="0.8" />
<line x1="302.61" y1="281.00" x2="302.61" y2="282.50" stroke="#ccc" stroke-width="0.8" />
<line x1="302.61" y1="459.00" x2="302.61" y2="457.50" stroke="#ccc" stroke-width="0.8" />
<line x1="306.32" y1="281.00" x2="306.32" y2="282.50" stroke="#ccc" stroke-width="0.8" />
<line x1="306.32" y1="459.00" x2="306.32" y2="457.50" stroke="#ccc" stroke-width="0.8" />
<line x1="309.45" y1="281.00" x2="309.45" y2="282.50" stroke="#ccc" stroke-width="0.8" />
<line x1="309.45" y1="459.00" x2="309.45" y2="457.50" stroke="#ccc" stroke-width="0.8" />
<line x1="312.16" y1="281.00" x2="312.16" y2="282.50" stroke="#ccc" stroke-width="0.8" />
<line x1="312.16" y1="459.00" x2="312.16" y2="457.50" stroke="#ccc" stroke-width="0.8" />
<line x1="314.56" y1="281.00" x2="314.56" y2="282.50" stroke="#ccc" stroke-width="0.8" />
<line x1="314.56" y1="459.00" x2="314.56" y2="457.50" stroke="#ccc" stroke-width="0.8" />
<line x1="316.70" y1="281.00" x2="316.70" y2="282.50" stroke="#ccc" stroke-width="0.8" />
<line x1="316.70" y1="459.00" x2="316.70" y2="457.50" stroke="#ccc" stroke-width="0.8" />
<line x1="330.79" y1="281.00" x2="330.79" y2="282.50" stroke="#ccc" stroke-width="0.8" />
<line x1="330.79" y1="459.00" x2="330.79" y2="457.50" stroke="#ccc" stroke-width="0.8" />
<line x1="339.03" y1="281.00" x2="339.03" y2="282.50" stroke="#ccc" stroke-width="0.8" />
<line x1="339.03" y1="459.00" x2="339.03" y2="457.50" stroke="#ccc" stroke-width="0.8" />
<line x1="344.88" y1="281.00" x2="344.88" y2="282.50" stroke="#ccc" stroke-width="0.8" />
<line x1="344.88" y1="459.00" x2="344.88" y2="457.50" stroke="#ccc" stroke-width="0.8" />
<line x1="349.41" y1="281.00" x2="349.41" y2="282.50" stroke="#ccc" stroke-width="0.8" />
<line x1="349.41" y1="459.00" x2="349.41" y2="457.50" stroke="#ccc" stroke-width="0.8" />
<line x1="353.12" y1="281.00" x2="353.12" y2="282.50" stroke="#ccc" stroke-width="0.8" />
<line x1="353.12" y1="459.00" x2="353.12" y2="457.50" stroke="#ccc" stroke-width="0.8" />
<line x1="356.25" y1="281.00" x2="356.25" y2="282.50" stroke="#ccc" stroke-width="0.8" />
<line x1="356.25" y1="459.00" x2="356.25" y2="457.50" stroke="#ccc" stroke-width="0.8" />
<line x1="358.96" y1="281.00" x2="358.96" y2="282.50" stroke="#ccc" stroke-width="0.8" />
<line x1="358.96" y1="459.00" x2="358.96" y2="457.50" stroke="#ccc" stroke-width="0.8" />
<line x1="361.36" y1="281.00" x2="361.36" y2="282.50" stroke="#ccc" stroke-width="0.8" />
<line x1="361.36" y1="459.00" x2="361.36" y2="457.50" stroke="#ccc" stroke-width="0.8" />
<line x1="130.00" y1="399.30" x2="131.70" y2="399.30" stroke="#ccc" stroke-width="0.9" />
<line x1="363.00" y1="399.30" x2="361.30" y2="399.30" stroke="#ccc" stroke-width="0.9" />
<line x1="130.00" y1="339.60" x2="131.70" y2="339.60" stroke="#ccc" stroke-width="0.9" />
<line x1="363.00" y1="339.60" x2="361.30" y2="339.60" stroke="#ccc" stroke-width="0.9" />
<line x1="507.50" y1="280.50" x2="741.50" y2="280.50" stroke="#999" stroke-width="1.0" />
<line x1="507.50" y1="459.50" x2="741.50" y2="459.50" stroke="#777" stroke-width="1.0" />
<line x1="507.50" y1="280.50" x2="507.50" y2="459.50" stroke="#eee" stroke-width="1.0" />
<line x1="741.50" y1="280.50" x2="741.50" y2="459.50" stroke="#bbb" stroke-width="1.0" />
<line x1="521.59" y1="281.00" x2="521.59" y2="282.50" stroke="#ccc" stroke-width="0.8" />
<line x1="521.59" y1="459.00" x2="521.59" y2="457.50" stroke="#ccc" stroke-width="0.8" />
<line x1="529.83" y1="281.00" x2="529.83" y2="282.50" stroke="#ccc" stroke-width="0.8" />
<line x1="529.83" y1="459.00" x2="529.83" y2="457.50" stroke="#ccc" stroke-width="0.8" />
<line x1="535.68" y1="281.00" x2="535.68" y2="282.50" stroke="#ccc" stroke-width="0.8" />
<line x1="535.68" y1="459.00" x2="535.68" y2="457.50" stroke="#ccc" stroke-width="0.8" />
<line x1="540.21" y1="281.00" x2="540.21" y2="282.50" stroke="#ccc" stroke-width="0.8" />
<line x1="540.21" y1="459.00" x2="540.21" y2="457.50" stroke="#ccc" stroke-width="0.8" />
<line x1="543.92" y1="281.00" x2="543.92" y2="282.50" stroke="#ccc" stroke-width="0.8" />
<line x1="543.92" y1="459.00" x2="543.92" y2="457.50" stroke="#ccc" stroke-width="0.8" />
<line x1="547.05" y1="281.00" x2="547.05" y2="282.50" stroke="#ccc" stroke-width="0.8" />
<line x1="547.05" y1="459.00" x2="547.05" y2="457.50" stroke="#ccc" stroke-width="0.8" />
<line x1="549.76" y1="281.00" x2="549.76" y2="282.50" stroke="#ccc" stroke-width="0.8" />
<line x1="549.76" y1="459.00" x2="549.76" y2="457.50" stroke="#ccc" stroke-width="0.8" />
<line x1="552.16" y1="281.00" x2="552.16" y2="282.50" stroke="#ccc" stroke-width="0.8" />
<line x1="552.16" y1="459.00" x2="552.16" y2="457.50" stroke="#ccc" stroke-width="0.8" />
<line x1="554.30" y1="281.00" x2="554.30" y2="282.50" stroke="#ccc" stroke-width="0.8" />
<line x1="554.30" y1="459.00" x2="554.30" y2="457.50" stroke="#ccc" stroke-width="0.8" />
<line x1="568.39" y1="281.00" x2="568.39" y2="282.50" stroke="#ccc" stroke-width="0.8" />
<line x1="568.39" y1="459.00" x2="568.39" y2="457.50" stroke="#ccc" stroke-width="0.8" />
<line x1="576.63" y1="281.00" x2="576.63" y2="282.50" stroke="#ccc" stroke-width="0.8" />
<line x1="576.63" y1="459.00" x2="576.63" y2="457.50" stroke="#ccc" stroke-width="0.8" />
<line x1="582.48" y1="281.00" x2="582.48" y2="282.50" stroke="#ccc" stroke-width="0.8" />
<line x1="582.48" y1="459.00" x2="582.48" y2="457.50" stroke="#ccc" stroke-width="0.8" />
<line x1="587.01" y1="281.00" x2="587.01" y2="282.50" stroke="#ccc" stroke-width="0.8" />
<line x1="587.01" y1="459.00" x2="587.01" y2="457.50" stroke="#ccc" stroke-width="0.8" />
<line x1="590.72" y1="281.00" x2="590.72" y2="282.50" stroke="#ccc" stroke-width="0.8" />
<line x1="590.72" y1="459.00" x2="590.72" y2="457.50" stroke="#ccc" stroke-width="0.8" />
<line x1="593.85" y1="281.00" x2="593.85" y2="282.50" stroke="#ccc" stroke-width="0.8" />
<line x1="593.85" y1="459.00" x2="593.85" y2="457.50" stroke="#ccc" stroke-width="0.8" />
<line x1="596.56" y1="281.00" x2="596.56" y2="282.50" stroke="#ccc" stroke-width="0.8" />
<line x1="596.56" y1="459.00" x2="596.56" y2="457.50" stroke="#ccc" stroke-width="0.8" />
<line x1="598.96" y1="281.00" x2="598.96" y2="282.50" stroke="#ccc" stroke-width="0.8" />
<line x1="598.96" y1="459.00" x2="598.96" y2="457.50" stroke="#ccc" stroke-width="0.8" />
<line x1="601.10" y1="281.00" x2="601.10" y2="282.50" stroke="#ccc" stroke-width="0.8" />
<line x1="601.10" y1="459.00" x2="601.10" y2="457.50" stroke="#ccc" stroke-width="0.8" />
<line x1="615.19" y1="281.00" x2="615.19" y2="282.50" stroke="#ccc" stroke-width="0.8" />
<line x1="615.19" y1="459.00" x2="615.19" y2="457.50" stroke="#ccc" stroke-width="0.8" />
<line x1="623.43" y1="281.00" x2="623.43" y2="282.50" stroke="#ccc" stroke-width="0.8" />
<line x1="623.43" y1="459.00" x2="623.43" y2="457.50" stroke="#ccc" stroke-width="0.8" />
<line x1="629.28" y1="281.00" x2="629.28" y2="282.50" stroke="#ccc" stroke-width="0.8" />
<line x1="629.28" y1="459.00" x2="629.28" y2="457.50" stroke="#ccc" stroke-width="0.8" />
<line x1="633.81" y1="281.00" x2="633.81" y2="282.50" stroke="#ccc" stroke-width="0.8" />
<line x1="633.81" y1="459.00" x2="633.81" y2="457.50" stroke="#ccc" stroke-width="0.8" />
<line x1="637.52" y1="281.00" x2="637.52" y2="282.50" stroke="#ccc" stroke-width="0.8" />
<line x1="637.52" y1="459.00" x2="637.52" y2="457.50" stroke="#ccc" stroke-width="0.8" />
<line x1="640.65" y1="281.00" x2="640.65" y2="282.50" stroke="#ccc" stroke-width="0.8" />
<line x1="640.65" y1="459.00" x2="640.65" y2="457.50" stroke="#ccc" stroke-width="0.8" />
<line x1="643.36" y1="281.00" x2="643.36" y2="282.50" stroke="#ccc" stroke-width="0.8" />
<line x1="643.36" y1="459.00" x2="643.36" y2="457.50" stroke="#ccc" stroke-width="0.8" />
<line x1="645.76" y1="281.00" x2="645.76" y2="282.50" stroke="#ccc" stroke-width="0.8" />
<line x1="645.76" y1="459.00" x2="645.76" y2="457.50" stroke="#ccc" stroke-width="0.8" />
<line x1="647.90" y1="281.00" x2="647.90" y2="282.50" stroke="#ccc" stroke-width="0.8" />
<line x1="647.90" y1="459.00" x2="647.90" y2="457.50" stroke="#ccc" stroke-width="0.8" />
<line x1="661.99" y1="281.00" x2="661.99" y2="282.50" stroke="#ccc" stroke-width="0.8" />
<line x1="661.99" y1="459.00" x2="661.99" y2="457.50" stroke="#ccc" stroke-width="0.8" />
<line x1="670.23" y1="281.00" x2="670.23" y2="282.50" stroke="#ccc" stroke-width="0.8" />
<line x1="670.23" y1="459.00" x2="670.23" y2="457.50" stroke="#ccc" stroke-width="0.8" />
<line x1="676.08" y1="281.00" x2="676.08" y2="282.50" stroke="#ccc" stroke-width="0.8" />
<line x1="676.08" y1="459.00" x2="676.08" y2="457.50" stroke="#ccc" stroke-width="0.8" />
<line x1="680.61" y1="281.00" x2="680.61" y2="282.50" stroke="#ccc" stroke-width="0.8" />
<line x1="680.61" y1="459.00" x2="680.61" y2="457.50" stroke="#ccc" stroke-width="0.8" />
<line x1="684.32" y1="281.00" x2="684.32" y2="282.50" stroke="#ccc" stroke-width="0.8" />
<line x1="684.32" y1="459.00" x2="684.32" y2="457.50" stroke="#ccc" stroke-width="0.8" />
<line x1="687.45" y1="281.00" x2="687.45" y2="282.50" stroke="#ccc" stroke-width="0.8" />
<line x1="687.45" y1="459.00" x2="687.45" y2="457.50" stroke="#ccc" stroke-width="0.8" />
<line x1="690.16" y1="281.00" x2="690.16" y2="282.50" stroke="#ccc" stroke-width="0.8" />
<line x1="690.16" y1="459.00" x2="690.16" y2="457.50" stroke="#ccc" stroke-width="0.8" />
<line x1="692.56" y1="281.00" x2="692.56" y2="282.50" stroke="#ccc" stroke-width="0.8" />
<line x1="692.56" y1="459.00" x2="692.56" y2="457.50" stroke="#ccc" stroke-width="0.8" />
<line x1="694.70" y1="281.00" x2="694.70" y2="282.50" stroke="#ccc" stroke-width="0.8" />
<line x1="694.70" y1="459.00" x2="694.70" y2="457.50" stroke="#ccc" stroke-width="0.8" />
<line x1="708.79" y1="281.00" x2="708.79" y2="282.50" stroke="#ccc" stroke-width="0.8" />
<line x1="708.79" y1="459.00" x2="708.79" y2="457.50" stroke="#ccc" stroke-width="0.8" />
<line x1="717.03" y1="281.00" x2="717.03" y2="282.50" stroke="#ccc" stroke-width="0.8" />
<line x1="717.03" y1="459.00" x2="717.03" y2="457.50" stroke="#ccc" stroke-width="0.8" />
<line x1="722.88" y1="281.00" x2="722.88" y2="282.50" stroke="#ccc" stroke-width="0.8" />
<line x1="722.88" y1="459.00" x2="722.88" y2="457.50" stroke="#ccc" stroke-width="0.8" />
<line x1="727.41" y1="281.00" x2="727.41" y2="282.50" stroke="#ccc" stroke-width="0.8" />
<line x1="727.41" y1="459.00" x2="727.41" y2="457.50" stroke="#ccc" stroke-width="0.8" />
<line x1="731.12" y1="281.00" x2="731.12" y2="282.50" stroke="#ccc" stroke-width="0.8" />
<line x1="731.12" y1="459.00" x2="731.12" y2="457.50" stroke="#ccc" stroke-width="0.8" />
<line x1="734.25" y1="281.00" x2="734.25" y2="282.50" stroke="#ccc" stroke-width="0.8" />
<line x1="734.25" y1="459.00" x2="734.25" y2="457.50" stroke="#ccc" stroke-width="0.8" />
<line x1="736.96" y1="281.00" x2="736.96" y2="282.50" stroke="#ccc" stroke-width="0.8" />
<line x1="736.96" y1="459.00" x2="736.96" y2="457.50" stroke="#ccc" stroke-width="0.8" />
<line x1="739.36" y1="281.00" x2="739.36" y2="282.50" stroke="#ccc" stroke-width="0.8" />
<line x1="739.36" y1="459.00" x2="739.36" y2="457.50" stroke="#ccc" stroke-width="0.8" />
<line x1="508.00" y1="399.30" x2="509.70" y2="399.30" stroke="#ccc" stroke-width="0.9" />
<line x1="741.00" y1="399.30" x2="739.30" y2="399.30" stroke="#ccc" stroke-width="0.9" />
<line x1="508.00" y1="339.60" x2="509.70" y2="339.60" stroke="#ccc" stroke-width="0.9" />
<line x1="741.00" y1="339.60" x2="739.30" y2="339.60" stroke="#ccc" stroke-width="0.9" />
<line x1="892.50" y1="280.50" x2="1125.50" y2="280.50" stroke="#999" stroke-width="1.0" />
<line x1="892.50" y1="459.50" x2="1125.50" y2="459.50" stroke="#777" stroke-width="1.0" />
<line x1="892.50" y1="280.50" x2="892.50" y2="459.50" stroke="#777" stroke-width="1.0" />
<line x1="1125.50" y1="280.50" x2="1125.50" y2="459.50" stroke="#777" stroke-width="1.0" />
<line x1="906.53" y1="281.00" x2="906.53" y2="282.50" stroke="#ccc" stroke-width="0.8" />
<line x1="906.53" y1="459.00" x2="906.53" y2="457.50" stroke="#ccc" stroke-width="0.8" />
<line x1="914.73" y1="281.00" x2="914.73" y2="282.50" stroke="#ccc" stroke-width="0.8" />
<line x1="914.73" y1="459.00" x2="914.73" y2="457.50" stroke="#ccc" stroke-width="0.8" />
<line x1="920.56" y1="281.00" x2="920.56" y2="282.50" stroke="#ccc" stroke-width="0.8" />
<line x1="920.56" y1="459.00" x2="920.56" y2="457.50" stroke="#ccc" stroke-width="0.8" />
<line x1="925.07" y1="281.00" x2="925.07" y2="282.50" stroke="#ccc" stroke-width="0.8" />
<line x1="925.07" y1="459.00" x2="925.07" y2="457.50" stroke="#ccc" stroke-width="0.8" />
<line x1="928.76" y1="281.00" x2="928.76" y2="282.50" stroke="#ccc" stroke-width="0.8" />
<line x1="928.76" y1="459.00" x2="928.76" y2="457.50" stroke="#ccc" stroke-width="0.8" />
<line x1="931.88" y1="281.00" x2="931.88" y2="282.50" stroke="#ccc" stroke-width="0.8" />
<line x1="931.88" y1="459.00" x2="931.88" y2="457.50" stroke="#ccc" stroke-width="0.8" />
<line x1="934.58" y1="281.00" x2="934.58" y2="282.50" stroke="#ccc" stroke-width="0.8" />
<line x1="934.58" y1="459.00" x2="934.58" y2="457.50" stroke="#ccc" stroke-width="0.8" />
<line x1="936.97" y1="281.00" x2="936.97" y2="282.50" stroke="#ccc" stroke-width="0.8" />
<line x1="936.97" y1="459.00" x2="936.97" y2="457.50" stroke="#ccc" stroke-width="0.8" />
<line x1="939.10" y1="281.00" x2="939.10" y2="282.50" stroke="#ccc" stroke-width="0.8" />
<line x1="939.10" y1="459.00" x2="939.10" y2="457.50" stroke="#ccc" stroke-width="0.8" />
<line x1="953.13" y1="281.00" x2="953.13" y2="282.50" stroke="#ccc" stroke-width="0.8" />
<line x1="953.13" y1="459.00" x2="953.13" y2="457.50" stroke="#ccc" stroke-width="0.8" />
<line x1="961.33" y1="281.00" x2="961.33" y2="282.50" stroke="#ccc" stroke-width="0.8" />
<line x1="961.33" y1="459.00" x2="961.33" y2="457.50" stroke="#ccc" stroke-width="0.8" />
<line x1="967.16" y1="281.00" x2="967.16" y2="282.50" stroke="#ccc" stroke-width="0.8" />
<line x1="967.16" y1="459.00" x2="967.16" y2="457.50" stroke="#ccc" stroke-width="0.8" />
<line x1="971.67" y1="281.00" x2="971.67" y2="282.50" stroke="#ccc" stroke-width="0.8" />
<line x1="971.67" y1="459.00" x2="971.67" y2="457.50" stroke="#ccc" stroke-width="0.8" />
<line x1="975.36" y1="281.00" x2="975.36" y2="282.50" stroke="#ccc" stroke-width="0.8" />
<line x1="975.36" y1="459.00" x2="975.36" y2="457.50" stroke="#ccc" stroke-width="0.8" />
<line x1="978.48" y1="281.00" x2="978.48" y2="282.50" stroke="#ccc" stroke-width="0.8" />
<line x1="978.48" y1="459.00" x2="978.48" y2="457.50" stroke="#ccc" stroke-width="0.8" />
<line x1="981.18" y1="281.00" x2="981.18" y2="282.50" stroke="#ccc" stroke-width="0.8" />
<line x1="981.18" y1="459.00" x2="981.18" y2="457.50" stroke="#ccc" stroke-width="0.8" />
<line x1="983.57" y1="281.00" x2="983.57" y2="282.50" stroke="#ccc" stroke-width="0.8" />
<line x1="983.57" y1="459.00" x2="983.57" y2="457.50" stroke="#ccc" stroke-width="0.8" />
<line x1="985.70" y1="281.00" x2="985.70" y2="282.50" stroke="#ccc" stroke-width="0.8" />
<line x1="985.70" y1="459.00" x2="985.70" y2="457.50" stroke="#ccc" stroke-width="0.8" />
<line x1="999.73" y1="281.00" x2="999.73" y2="282.50" stroke="#ccc" stroke-width="0.8" />
<line x1="999.73" y1="459.00" x2="999.73" y2="457.50" stroke="#ccc" stroke-width="0.8" />
<line x1="1007.93" y1="281.00" x2="1007.93" y2="282.50" stroke="#ccc" stroke-width="0.8" />
<line x1="1007.93" y1="459.00" x2="1007.93" y2="457.50" stroke="#ccc" stroke-width="0.8" />
<line x1="1013.76" y1="281.00" x2="1013.76" y2="282.50" stroke="#ccc" stroke-width="0.8" />
<line x1="1013.76" y1="459.00" x2="1013.76" y2="457.50" stroke="#ccc" stroke-width="0.8" />
<line x1="1018.27" y1="281.00" x2="1018.27" y2="282.50" stroke="#ccc" stroke-width="0.8" />
<line x1="1018.27" y1="459.00" x2="1018.27" y2="457.50" stroke="#ccc" stroke-width="0.8" />
<line x1="1021.96" y1="281.00" x2="1021.96" y2="282.50" stroke="#ccc" stroke-width="0.8" />
<line x1="1021.96" y1="459.00" x2="1021.96" y2="457.50" stroke="#ccc" stroke-width="0.8" />
<line x1="1025.08" y1="281.00" x2="1025.08" y2="282.50" stroke="#ccc" stroke-width="0.8" />
<line x1="1025.08" y1="459.00" x2="1025.08" y2="457.50" stroke="#ccc" stroke-width="0.8" />
<line x1="1027.78" y1="281.00" x2="1027.78" y2="282.50" stroke="#ccc" stroke-width="0.8" />
<line x1="1027.78" y1="459.00" x2="1027.78" y2="457.50" stroke="#ccc" stroke-width="0.8" />
<line x1="1030.17" y1="281.00" x2="1030.17" y2="282.50" stroke="#ccc" stroke-width="0.8" />
<line x1="1030.17" y1="459.00" x2="1030.17" y2="457.50" stroke="#ccc" stroke-width="0.8" />
<line x1="1032.30" y1="281.00" x2="1032.30" y2="282.50" stroke="#ccc" stroke-width="0.8" />
<line x1="1032.30" y1="459.00" x2="1032.30" y2="457.50" stroke="#ccc" stroke-width="0.8" />
<line x1="1046.33" y1="281.00" x2="1046.33" y2="282.50" stroke="#ccc" stroke-width="0.8" />
<line x1="1046.33" y1="459.00" x2="1046.33" y2="457.50" stroke="#ccc" stroke-width="0.8" />
<line x1="1054.53" y1="281.00" x2="1054.53" y2="282.50" stroke="#ccc" stroke-width="0.8" />
<line x1="1054.53" y1="459.00" x2="1054.53" y2="457.50" stroke="#ccc" stroke-width="0.8" />
<line x1="1060.36" y1="281.00" x2="1060.36" y2="282.50" stroke="#ccc" stroke-width="0.8" />
<line x1="1060.36" y1="459.00" x2="1060.36" y2="457.50" stroke="#ccc" stroke-width="0.8" />
<line x1="1064.87" y1="281.00" x2="1064.87" y2="282.50" stroke="#ccc" stroke-width="0.8" />
<line x1="1064.87" y1="459.00" x2="1064.87" y2="457.50" stroke="#ccc" stroke-width="0.8" />
<line x1="1068.56" y1="281.00" x2="1068.56" y2="282.50" stroke="#ccc" stroke-width="0.8" />
<line x1="1068.56" y1="459.00" x2="1068.56" y2="457.50" stroke="#ccc" stroke-width="0.8" />
<line x1="1071.68" y1="281.00" x2="1071.68" y2="282.50" stroke="#ccc" stroke-width="0.8" />
<line x1="1071.68" y1="459.00" x2="1071.68" y2="457.50" stroke="#ccc" stroke-width="0.8" />
<line x1="1074.38" y1="281.00" x2="1074.38" y2="282.50" stroke="#ccc" stroke-width="0.8" />
<line x1="1074.38" y1="459.00" x2="1074.38" y2="457.50" stroke="#ccc" stroke-width="0.8" />
<line x1="1076.77" y1="281.00" x2="1076.77" y2="282.50" stroke="#ccc" stroke-width="0.8" />
<line x1="1076.77" y1="459.00" x2="1076.77" y2="457.50" stroke="#ccc" stroke-width="0.8" />
<line x1="1078.90" y1="281.00" x2="1078.90" y2="282.50" stroke="#ccc" stroke-width="0.8" />
<line x1="1078.90" y1="459.00" x2="1078.90" y2="457.50" stroke="#ccc" stroke-width="0.8" />
<line x1="1092.93" y1="281.00" x2="1092.93" y2="282.50" stroke="#ccc" stroke-width="0.8" />
<line x1="1092.93" y1="459.00" x2="1092.93" y2="457.50" stroke="#ccc" stroke-width="0.8" />
<line x1="1101.13" y1="281.00" x2="1101.13" y2="282.50" stroke="#ccc" stroke-width="0.8" />
<line x1="1101.13" y1="459.00" x2="1101.13" y2="457.50" stroke="#ccc" stroke-width="0.8" />
<line x1="1106.96" y1="281.00" x2="1106.96" y2="282.50" stroke="#ccc" stroke-width="0.8" />
<line x1="1106.96" y1="459.00" x2="1106.96" y2="457.50" stroke="#ccc" stroke-width="0.8" />
<line x1="1111.47" y1="281.00" x2="1111.47" y2="282.50" stroke="#ccc" stroke-width="0.8" />
<line x1="1111.47" y1="459.00" x2="1111.47" y2="457.50" stroke="#ccc" stroke-width="0.8" />
<line x1="1115.16" y1="281.00" x2="1115.16" y2="282.50" stroke="#ccc" stroke-width="0.8" />
<line x1="1115.16" y1="459.00" x2="1115.16" y2="457.50" stroke="#ccc" stroke-width="0.8" />
<line x1="1118.28" y1="281.00" x2="1118.28" y2="282.50" stroke="#ccc" stroke-width="0.8" />
<line x1="1118.28" y1="459.00" x2="1118.28" y2="457.50" stroke="#ccc" stroke-width="0.8" />
<line x1="1120.98" y1="281.00" x2="1120.98" y2="282.50" stroke="#ccc" stroke-width="0.8" />
<line x1="1120.98" y1="459.00" x2="1120.98" y2="457.50" stroke="#ccc" stroke-width="0.8" />
<line x1="1123.37" y1="281.00" x2="1123.37" y2="282.50" stroke="#ccc" stroke-width="0.8" />
<line x1="1123.37" y1="459.00" x2="1123.37" y2="457.50" stroke="#ccc" stroke-width="0.8" />
<line x1="893.00" y1="399.30" x2="894.70" y2="399.30" stroke="#ccc" stroke-width="0.9" />
<line x1="1125.00" y1="399.30" x2="1123.30" y2="399.30" stroke="#ccc" stroke-width="0.9" />
<line x1="893.00" y1="339.60" x2="894.70" y2="339.60" stroke="#ccc" stroke-width="0.9" />
<line x1="1125.00" y1="339.60" x2="1123.30" y2="339.60" stroke="#ccc" stroke-width="0.9" />
<text x="146.92" y="220.60" font-size="26.00" textLength="24.57" lengthAdjust="spacingAndGlyphs" >10</text>
<line x1="172.80" y1="206.80" x2="182.60" y2="206.80" stroke="#000" stroke-width="1.05" />
<text x="183.74" y="211.00" font-size="17.00" >2</text>
<text x="198.62" y="220.60" font-size="26.00" textLength="24.57" lengthAdjust="spacingAndGlyphs" >10</text>
<line x1="224.50" y1="206.80" x2="234.30" y2="206.80" stroke="#000" stroke-width="1.05" />
<text x="234.71" y="211.00" font-size="17.00" >1</text>
<text x="251.72" y="220.60" font-size="26.00" textLength="24.57" lengthAdjust="spacingAndGlyphs" >10</text>
<text x="276.16" y="211.00" font-size="17.00" >0</text>
<text x="298.12" y="220.60" font-size="26.00" textLength="24.57" lengthAdjust="spacingAndGlyphs" >10</text>
<text x="321.71" y="211.00" font-size="17.00" >1</text>
<text x="344.73" y="220.60" font-size="26.00" textLength="24.57" lengthAdjust="spacingAndGlyphs" >10</text>
<text x="369.04" y="211.00" font-size="17.00" >2</text>
<text x="527.62" y="220.60" font-size="26.00" textLength="24.57" lengthAdjust="spacingAndGlyphs" >10</text>
<line x1="553.50" y1="206.80" x2="563.30" y2="206.80" stroke="#000" stroke-width="1.05" />
<text x="564.43" y="211.00" font-size="17.00" >2</text>
<text x="581.33" y="220.60" font-size="26.00" textLength="24.57" lengthAdjust="spacingAndGlyphs" >10</text>
<line x1="607.20" y1="206.80" x2="617.00" y2="206.80" stroke="#000" stroke-width="1.05" />
<text x="617.41" y="211.00" font-size="17.00" >1</text>
<text x="633.62" y="220.60" font-size="26.00" textLength="24.57" lengthAdjust="spacingAndGlyphs" >10</text>
<text x="658.06" y="211.00" font-size="17.00" >0</text>
<text x="680.73" y="220.60" font-size="26.00" textLength="24.57" lengthAdjust="spacingAndGlyphs" >10</text>
<text x="704.31" y="211.00" font-size="17.00" >1</text>
<text x="726.12" y="220.60" font-size="26.00" textLength="24.57" lengthAdjust="spacingAndGlyphs" >10</text>
<text x="750.43" y="211.00" font-size="17.00" >2</text>
<text x="913.02" y="220.60" font-size="26.00" textLength="24.57" lengthAdjust="spacingAndGlyphs" >10</text>
<line x1="938.90" y1="206.80" x2="948.70" y2="206.80" stroke="#000" stroke-width="1.05" />
<text x="949.83" y="211.00" font-size="17.00" >2</text>
<text x="965.83" y="220.60" font-size="26.00" textLength="24.57" lengthAdjust="spacingAndGlyphs" >10</text>
<line x1="991.70" y1="206.80" x2="1001.50" y2="206.80" stroke="#000" stroke-width="1.05" />
<text x="1001.91" y="211.00" font-size="17.00" >1</text>
<text x="1018.12" y="220.60" font-size="26.00" textLength="24.57" lengthAdjust="spacingAndGlyphs" >10</text>
<text x="1042.56" y="211.00" font-size="17.00" >0</text>
<text x="1065.32" y="220.60" font-size="26.00" textLength="24.57" lengthAdjust="spacingAndGlyphs" >10</text>
<text x="1088.91" y="211.00" font-size="17.00" >1</text>
<text x="1111.22" y="220.60" font-size="26.00" textLength="24.57" lengthAdjust="spacingAndGlyphs" >10</text>
<text x="1135.53" y="211.00" font-size="17.00" >2</text>
<text x="148.72" y="490.60" font-size="26.00" textLength="24.57" lengthAdjust="spacingAndGlyphs" >10</text>
<line x1="174.60" y1="476.80" x2="184.40" y2="476.80" stroke="#000" stroke-width="1.05" />
<text x="185.54" y="481.00" font-size="17.00" >2</text>
<text x="198.82" y="490.60" font-size="26.00" textLength="24.57" lengthAdjust="spacingAndGlyphs" >10</text>
<line x1="224.70" y1="476.80" x2="234.50" y2="476.80" stroke="#000" stroke-width="1.05" />
<text x="234.91" y="481.00" font-size="17.00" >1</text>
<text x="251.53" y="490.60" font-size="26.00" textLength="24.57" lengthAdjust="spacingAndGlyphs" >10</text>
<text x="275.96" y="481.00" font-size="17.00" >0</text>
<text x="297.73" y="490.60" font-size="26.00" textLength="24.57" lengthAdjust="spacingAndGlyphs" >10</text>
<text x="321.31" y="481.00" font-size="17.00" >1</text>
<text x="344.43" y="490.60" font-size="26.00" textLength="24.57" lengthAdjust="spacingAndGlyphs" >10</text>
<text x="368.74" y="481.00" font-size="17.00" >2</text>
<text x="530.52" y="490.60" font-size="26.00" textLength="24.57" lengthAdjust="spacingAndGlyphs" >10</text>
<line x1="556.40" y1="476.80" x2="566.20" y2="476.80" stroke="#000" stroke-width="1.05" />
<text x="567.33" y="481.00" font-size="17.00" >2</text>
<text x="581.33" y="490.60" font-size="26.00" textLength="24.57" lengthAdjust="spacingAndGlyphs" >10</text>
<line x1="607.20" y1="476.80" x2="617.00" y2="476.80" stroke="#000" stroke-width="1.05" />
<text x="617.41" y="481.00" font-size="17.00" >1</text>
<text x="633.62" y="490.60" font-size="26.00" textLength="24.57" lengthAdjust="spacingAndGlyphs" >10</text>
<text x="658.06" y="481.00" font-size="17.00" >0</text>
<text x="680.73" y="490.60" font-size="26.00" textLength="24.57" lengthAdjust="spacingAndGlyphs" >10</text>
<text x="704.31" y="481.00" font-size="17.00" >1</text>
<text x="726.12" y="490.60" font-size="26.00" textLength="24.57" lengthAdjust="spacingAndGlyphs" >10</text>
<text x="750.43" y="481.00" font-size="17.00" >2</text>
<text x="915.33" y="490.60" font-size="26.00" textLength="24.57" lengthAdjust="spacingAndGlyphs" >10</text>
<line x1="941.20" y1="476.80" x2="951.00" y2="476.80" stroke="#000" stroke-width="1.05" />
<text x="952.13" y="481.00" font-size="17.00" >2</text>
<text x="965.83" y="490.60" font-size="26.00" textLength="24.57" lengthAdjust="spacingAndGlyphs" >10</text>
<line x1="991.70" y1="476.80" x2="1001.50" y2="476.80" stroke="#000" stroke-width="1.05" />
<text x="1001.91" y="481.00" font-size="17.00" >1</text>
<text x="1018.12" y="490.60" font-size="26.00" textLength="24.57" lengthAdjust="spacingAndGlyphs" >10</text>
<text x="1042.56" y="481.00" font-size="17.00" >0</text>
<text x="1065.32" y="490.60" font-size="26.00" textLength="24.57" lengthAdjust="spacingAndGlyphs" >10</text>
<text x="1088.91" y="481.00" font-size="17.00" >1</text>
<text x="1110.82" y="490.60" font-size="26.00" textLength="24.57" lengthAdjust="spacingAndGlyphs" >10</text>
<text x="1135.13" y="481.00" font-size="17.00" >2</text>
<text x="63.12" y="20.65" font-size="26.00" textLength="57.52" lengthAdjust="spacingAndGlyphs" >0.020</text>
<text x="64.33" y="66.05" font-size="26.00" textLength="56.34" lengthAdjust="spacingAndGlyphs" >0.015</text>
<text x="63.12" y="109.75" font-size="26.00" textLength="57.52" lengthAdjust="spacingAndGlyphs" >0.010</text>
<text x="64.33" y="155.05" font-size="26.00" textLength="56.34" lengthAdjust="spacingAndGlyphs" >0.005</text>
<text x="107.78" y="199.02" font-size="26.00" >0</text>
<text x="441.02" y="56.85" font-size="26.00" textLength="57.52" lengthAdjust="spacingAndGlyphs" >0.020</text>
<text x="441.02" y="129.15" font-size="26.00" textLength="57.52" lengthAdjust="spacingAndGlyphs" >0.010</text>
<text x="486.07" y="200.62" font-size="26.00" >0</text>
<text x="826.62" y="22.85" font-size="26.00" textLength="56.34" lengthAdjust="spacingAndGlyphs" >0.015</text>
<text x="825.42" y="82.95" font-size="26.00" textLength="57.52" lengthAdjust="spacingAndGlyphs" >0.010</text>
<text x="826.62" y="142.75" font-size="26.00" textLength="56.34" lengthAdjust="spacingAndGlyphs" >0.005</text>
<text x="870.58" y="202.62" font-size="26.00" >0</text>
<text x="64.22" y="290.55" font-size="26.00" textLength="56.34" lengthAdjust="spacingAndGlyphs" >0.015</text>
<text x="63.02" y="351.45" font-size="26.00" textLength="57.52" lengthAdjust="spacingAndGlyphs" >0.010</text>
<text x="64.22" y="412.45" font-size="26.00" textLength="56.34" lengthAdjust="spacingAndGlyphs" >0.005</text>
<text x="107.78" y="472.71" font-size="26.00" >0</text>
<text x="442.02" y="290.45" font-size="26.00" textLength="56.34" lengthAdjust="spacingAndGlyphs" >0.015</text>
<text x="440.82" y="351.45" font-size="26.00" textLength="57.52" lengthAdjust="spacingAndGlyphs" >0.010</text>
<text x="442.02" y="412.45" font-size="26.00" textLength="56.34" lengthAdjust="spacingAndGlyphs" >0.005</text>
<text x="485.97" y="472.71" font-size="26.00" >0</text>
<text x="826.62" y="290.45" font-size="26.00" textLength="56.34" lengthAdjust="spacingAndGlyphs" >0.015</text>
<text x="825.42" y="351.45" font-size="26.00" textLength="57.52" lengthAdjust="spacingAndGlyphs" >0.010</text>
<text x="826.62" y="412.45" font-size="26.00" textLength="56.34" lengthAdjust="spacingAndGlyphs" >0.005</text>
<text x="870.58" y="472.71" font-size="26.00" >0</text>
<text x="5.44" y="24.30" font-size="28.10" >(</text>
<text x="14.81" y="24.60" font-size="29.50" font-style="italic" textLength="15.84" lengthAdjust="spacingAndGlyphs" >a</text>
<text x="30.29" y="24.30" font-size="28.10" >)</text>
<text x="395.44" y="24.30" font-size="28.10" >(</text>
<text x="404.89" y="24.60" font-size="29.50" font-style="italic" textLength="15.84" lengthAdjust="spacingAndGlyphs" >b</text>
<text x="420.29" y="24.30" font-size="28.10" >)</text>
<text x="783.14" y="24.30" font-size="28.10" >(</text>
<text x="793.22" y="24.60" font-size="29.50" font-style="italic" textLength="12.68" lengthAdjust="spacingAndGlyphs" >c</text>
<text x="806.79" y="24.30" font-size="28.10" >)</text>
<text x="3.84" y="292.60" font-size="28.10" >(</text>
<text x="13.31" y="292.90" font-size="29.50" font-style="italic" textLength="16.40" lengthAdjust="spacingAndGlyphs" >d</text>
<text x="30.29" y="292.60" font-size="28.10" >)</text>
<text x="396.74" y="292.60" font-size="28.10" >(</text>
<text x="406.81" y="292.90" font-size="29.50" font-style="italic" textLength="12.67" lengthAdjust="spacingAndGlyphs" >e</text>
<text x="420.39" y="292.60" font-size="28.10" >)</text>
<text x="779.34" y="292.60" font-size="28.10" >(</text>
<text x="790.13" y="292.90" font-size="29.50" font-style="italic" textLength="9.87" lengthAdjust="spacingAndGlyphs" >f</text>
<text x="806.59" y="292.60" font-size="28.10" >)</text>
<g transform="translate(36.10,149.00) rotate(-90)">
<text x="0.47" y="0.00" font-size="28.60" font-style="italic" textLength="29.70" lengthAdjust="spacingAndGlyphs">uu</text>
<line x1="0.4" y1="-19.7" x2="30.4" y2="-19.7" stroke="#000" stroke-width="1.5"/>
<line x1="31.4" y1="5.7" x2="41.9" y2="-20" stroke="#000" stroke-width="1.3"/>
<text x="42.53" y="0.00" font-size="31.00" font-style="italic" textLength="22.64" lengthAdjust="spacingAndGlyphs">U</text>
<text x="68.78" y="-11.20" font-size="20.40" textLength="11.25" lengthAdjust="spacingAndGlyphs">2</text>
<text x="69.42" y="4.60" font-size="19.50" font-style="italic" textLength="7.51" lengthAdjust="spacingAndGlyphs">r</text>
<text x="77.92" y="4.60" font-size="19.50" font-style="italic" textLength="7.01" lengthAdjust="spacingAndGlyphs">e</text>
<text x="85.76" y="4.60" font-size="19.50" font-style="italic" textLength="8.04" lengthAdjust="spacingAndGlyphs">f</text>
</g>
<g transform="translate(36.10,419.70) rotate(-90)">
<text x="0.47" y="0.00" font-size="28.60" font-style="italic" textLength="29.70" lengthAdjust="spacingAndGlyphs">uu</text>
<line x1="0.4" y1="-19.7" x2="30.4" y2="-19.7" stroke="#000" stroke-width="1.5"/>
<line x1="31.4" y1="5.7" x2="41.9" y2="-20" stroke="#000" stroke-width="1.3"/>
<text x="42.53" y="0.00" font-size="31.00" font-style="italic" textLength="22.64" lengthAdjust="spacingAndGlyphs">U</text>
<text x="68.78" y="-11.20" font-size="20.40" textLength="11.25" lengthAdjust="spacingAndGlyphs">2</text>
<text x="69.42" y="4.60" font-size="19.50" font-style="italic" textLength="7.51" lengthAdjust="spacingAndGlyphs">r</text>
<text x="77.92" y="4.60" font-size="19.50" font-style="italic" textLength="7.01" lengthAdjust="spacingAndGlyphs">e</text>
<text x="85.76" y="4.60" font-size="19.50" font-style="italic" textLength="8.04" lengthAdjust="spacingAndGlyphs">f</text>
</g>
<text x="219.03" y="248.50" font-size="25.00" >Inlet</text>
<text x="574.21" y="248.80" font-size="25.00" font-style="italic" >x</text>
<line x1="586.70" y1="253.40" x2="595.90" y2="231.60" stroke="#000" stroke-width="1.35" />
<text x="597.22" y="248.80" font-size="25.00" font-style="italic" >C</text>
<line x1="620.20" y1="239.50" x2="637.00" y2="239.50" stroke="#000" stroke-width="1.3" />
<line x1="620.20" y1="245.60" x2="637.00" y2="245.60" stroke="#000" stroke-width="1.3" />
<text x="643.16" y="248.80" font-size="25.00" >0.5</text>
<text x="962.61" y="248.80" font-size="25.00" font-style="italic" >x</text>
<line x1="975.10" y1="253.40" x2="984.30" y2="231.60" stroke="#000" stroke-width="1.35" />
<text x="985.62" y="248.80" font-size="25.00" font-style="italic" >C</text>
<line x1="1008.60" y1="239.50" x2="1025.40" y2="239.50" stroke="#000" stroke-width="1.3" />
<line x1="1008.60" y1="245.60" x2="1025.40" y2="245.60" stroke="#000" stroke-width="1.3" />
<text x="1031.56" y="248.80" font-size="25.00" >0.91</text>
<text x="201.81" y="570.70" font-size="24.50" font-style="italic" >x</text>
<line x1="214.30" y1="575.30" x2="223.50" y2="553.50" stroke="#000" stroke-width="1.35" />
<text x="224.85" y="570.70" font-size="24.50" font-style="italic" >C</text>
<line x1="247.80" y1="562.10" x2="264.60" y2="562.10" stroke="#000" stroke-width="1.3" />
<line x1="247.80" y1="567.50" x2="264.60" y2="567.50" stroke="#000" stroke-width="1.3" />
<text x="269.56" y="570.70" font-size="24.50" >1</text>
<text x="574.51" y="570.70" font-size="24.50" font-style="italic" >x</text>
<line x1="587.00" y1="575.30" x2="596.20" y2="553.50" stroke="#000" stroke-width="1.35" />
<text x="597.55" y="570.70" font-size="24.50" font-style="italic" >C</text>
<line x1="620.50" y1="562.10" x2="637.30" y2="562.10" stroke="#000" stroke-width="1.3" />
<line x1="620.50" y1="567.50" x2="637.30" y2="567.50" stroke="#000" stroke-width="1.3" />
<text x="642.26" y="570.70" font-size="24.50" >1.33</text>
<text x="962.51" y="570.70" font-size="24.50" font-style="italic" >x</text>
<line x1="975.00" y1="575.30" x2="984.20" y2="553.50" stroke="#000" stroke-width="1.35" />
<text x="985.55" y="570.70" font-size="24.50" font-style="italic" >C</text>
<line x1="1008.50" y1="562.10" x2="1025.30" y2="562.10" stroke="#000" stroke-width="1.3" />
<line x1="1008.50" y1="567.50" x2="1025.30" y2="567.50" stroke="#000" stroke-width="1.3" />
<text x="1030.26" y="570.70" font-size="24.50" >1.5</text>
<text x="209.89" y="526.30" font-size="29.00" font-style="italic" textLength="11.95" lengthAdjust="spacingAndGlyphs" >y</text>
<line x1="223.50" y1="532.10" x2="233.40" y2="506.50" stroke="#000" stroke-width="1.4" />
<text x="234.76" y="526.90" font-size="22.80" font-style="italic" textLength="12.71" lengthAdjust="spacingAndGlyphs" >θ</text>
<text x="248.70" y="530.80" font-size="17.50" font-style="italic" textLength="7.40" lengthAdjust="spacingAndGlyphs" >r</text>
<text x="256.98" y="530.80" font-size="17.50" font-style="italic" textLength="8.37" lengthAdjust="spacingAndGlyphs" >e</text>
<text x="265.98" y="530.80" font-size="17.50" font-style="italic" textLength="6.95" lengthAdjust="spacingAndGlyphs" >f</text>
<text x="604.29" y="526.30" font-size="29.00" font-style="italic" textLength="11.95" lengthAdjust="spacingAndGlyphs" >y</text>
<line x1="617.90" y1="532.10" x2="627.80" y2="506.50" stroke="#000" stroke-width="1.4" />
<text x="629.16" y="526.90" font-size="22.80" font-style="italic" textLength="12.71" lengthAdjust="spacingAndGlyphs" >θ</text>
<text x="643.10" y="530.80" font-size="17.50" font-style="italic" textLength="7.40" lengthAdjust="spacingAndGlyphs" >r</text>
<text x="651.38" y="530.80" font-size="17.50" font-style="italic" textLength="8.37" lengthAdjust="spacingAndGlyphs" >e</text>
<text x="660.38" y="530.80" font-size="17.50" font-style="italic" textLength="6.95" lengthAdjust="spacingAndGlyphs" >f</text>
<text x="981.39" y="526.30" font-size="29.00" font-style="italic" textLength="11.95" lengthAdjust="spacingAndGlyphs" >y</text>
<line x1="995.00" y1="532.10" x2="1004.90" y2="506.50" stroke="#000" stroke-width="1.4" />
<text x="1006.26" y="526.90" font-size="22.80" font-style="italic" textLength="12.71" lengthAdjust="spacingAndGlyphs" >θ</text>
<text x="1020.20" y="530.80" font-size="17.50" font-style="italic" textLength="7.40" lengthAdjust="spacingAndGlyphs" >r</text>
<text x="1028.47" y="530.80" font-size="17.50" font-style="italic" textLength="8.37" lengthAdjust="spacingAndGlyphs" >e</text>
<text x="1037.48" y="530.80" font-size="17.50" font-style="italic" textLength="6.95" lengthAdjust="spacingAndGlyphs" >f</text>
<rect x="244.60" y="18.70" width="110.80" height="56.40" fill="none"/>
<rect x="244.6" y="18.7" width="110.8" height="56.4" fill="#fff" stroke="#888" stroke-width="1"/>
<line x1="247.30" y1="28.50" x2="271.20" y2="28.50" stroke="#8a8a8a" stroke-width="1.5" />
<text x="277.53" y="34.80" font-size="19.00" textLength="33.61" lengthAdjust="spacingAndGlyphs" >LES</text>
<line x1="247.30" y1="47.30" x2="271.50" y2="47.30" stroke="#333" stroke-width="1.0" />
<circle cx="259" cy="47.3" r="1.1" fill="#000"/>
<text x="274.72" y="52.60" font-size="19.00" textLength="78.00" lengthAdjust="spacingAndGlyphs" >Single wire</text>
<text x="279.57" y="70.50" font-size="19.00" textLength="46.64" lengthAdjust="spacingAndGlyphs" >X-wire</text>
<polyline points="161.00,190.30 161.16,190.23 161.36,190.14 161.60,190.04 161.92,189.91 162.35,189.77 162.90,189.60 163.62,189.41 164.49,189.19 165.47,188.95 166.50,188.70 167.52,188.45 168.50,188.20 169.44,187.96 170.39,187.71 171.33,187.46 172.27,187.21 173.20,186.96 174.10,186.70 174.99,186.45 175.86,186.22 176.72,185.99 177.56,185.73 178.39,185.44 179.20,185.10 179.99,184.70 180.75,184.27 181.49,183.79 182.23,183.29 182.96,182.76 183.70,182.20 184.45,181.61 185.21,181.00 185.97,180.35 186.71,179.68 187.43,179.00 188.10,178.30 188.73,177.59 189.33,176.86 189.90,176.12 190.45,175.36 190.98,174.59 191.50,173.80 192.00,173.01 192.48,172.21 192.94,171.41 193.39,170.57 193.84,169.71 194.30,168.80 194.77,167.85 195.23,166.86 195.70,165.84 196.17,164.79 196.63,163.71 197.10,162.60 197.57,161.44 198.05,160.23 198.53,158.99 199.00,157.74 199.46,156.50 199.90,155.30 200.31,154.14 200.71,153.01 201.09,151.90 201.46,150.79 201.83,149.66 202.20,148.50 202.58,147.31 202.96,146.08 203.34,144.84 203.71,143.61 204.06,142.39 204.40,141.20 204.72,140.02 205.03,138.84 205.32,137.67 205.60,136.55 205.86,135.48 206.10,134.50 206.31,133.65 206.49,132.92 206.66,132.26 206.82,131.59 206.99,130.86 207.20,130.00 207.43,129.02 207.67,127.98 207.93,126.87 208.20,125.70 208.49,124.48 208.80,123.20 209.12,121.97 209.47,120.80 209.82,119.57 210.20,118.17 210.59,116.49 211.00,114.40 211.42,111.83 211.84,108.86 212.28,105.59 212.74,102.17 213.25,98.70 213.80,95.30 214.42,91.90 215.10,88.37 215.82,84.79 216.56,81.26 217.29,77.83 218.00,74.60 218.70,71.50 219.40,68.46 220.09,65.52 220.78,62.77 221.45,60.24 222.10,58.00 222.72,56.06 223.33,54.39 223.92,52.94 224.49,51.70 225.05,50.63 225.60,49.70 226.13,48.94 226.63,48.39 227.12,48.00 227.60,47.76 228.09,47.64 228.60,47.60 229.11,47.64 229.62,47.76 230.13,48.00 230.66,48.39 231.21,48.94 231.80,49.70 232.43,50.68 233.10,51.86 233.79,53.21 234.49,54.70 235.20,56.31 235.90,58.00 236.60,59.81 237.30,61.78 238.00,63.86 238.70,66.01 239.40,68.20 240.10,70.40 240.79,72.62 241.47,74.89 242.15,77.21 242.83,79.54 243.51,81.88 244.20,84.20 244.88,86.51 245.56,88.83 246.23,91.16 246.92,93.48 247.64,95.79 248.40,98.10 249.23,100.46 250.14,102.89 251.07,105.31 251.99,107.65 252.85,109.84 253.60,111.80 254.23,113.51 254.77,115.01 255.26,116.37 255.70,117.62 256.14,118.81 256.60,120.00 257.06,121.16 257.50,122.24 257.94,123.27 258.37,124.26 258.82,125.23 259.30,126.20 259.81,127.18 260.33,128.14 260.88,129.09 261.42,130.01 261.97,130.88 262.50,131.70 263.01,132.45 263.49,133.14 263.96,133.78 264.46,134.40 265.00,135.00 265.60,135.60 266.25,136.18 266.93,136.71 267.65,137.23 268.43,137.77 269.27,138.35 270.20,139.00 271.23,139.75 272.36,140.56 273.56,141.42 274.80,142.30 276.05,143.17 277.30,144.00 278.55,144.78 279.83,145.54 281.13,146.29 282.43,147.04 283.73,147.80 285.00,148.60 286.26,149.44 287.52,150.32 288.77,151.22 290.00,152.11 291.22,152.98 292.40,153.80 293.57,154.55 294.73,155.25 295.86,155.92 296.96,156.60 298.01,157.31 299.00,158.10 299.91,158.96 300.74,159.86 301.52,160.81 302.27,161.78 303.03,162.78 303.80,163.80 304.60,164.84 305.41,165.89 306.21,166.97 307.00,168.09 307.77,169.23 308.50,170.40 309.20,171.64 309.87,172.96 310.51,174.31 311.13,175.64 311.73,176.92 312.30,178.10 312.84,179.20 313.33,180.26 313.81,181.26 314.27,182.19 314.73,183.04 315.20,183.80 315.66,184.44 316.10,184.98 316.54,185.44 317.00,185.84 317.51,186.22 318.10,186.60 318.76,186.98 319.46,187.33 320.21,187.66 321.02,187.97 321.88,188.25 322.80,188.50 323.68,188.72 324.50,188.91 325.38,189.08 326.42,189.23 327.76,189.37 329.50,189.50 331.95,189.63 335.06,189.75 338.47,189.86 341.78,189.96 344.62,190.04 346.60,190.10" fill="none" stroke="#383838" stroke-width="1.0" stroke-linejoin="round" stroke-linecap="round"/>
<polyline points="209.60,121.50 209.90,120.43 210.30,118.94 210.78,117.17 211.31,115.31 211.86,113.50 212.40,111.90 212.94,110.50 213.51,109.17 214.11,107.89 214.71,106.66 215.31,105.46 215.90,104.30 216.48,103.18 217.07,102.11 217.66,101.08 218.24,100.07 218.82,99.08 219.40,98.10 219.97,97.11 220.54,96.13 221.10,95.17 221.66,94.23 222.23,93.34 222.80,92.50 223.38,91.68 223.96,90.86 224.55,90.08 225.14,89.39 225.72,88.81 226.30,88.40 226.87,88.19 227.44,88.16 228.00,88.24 228.56,88.40 229.13,88.57 229.70,88.70 230.28,88.78 230.86,88.85 231.45,88.93 232.04,89.05 232.62,89.23 233.20,89.50 233.77,89.87 234.34,90.32 234.90,90.83 235.46,91.38 236.03,91.95 236.60,92.50 237.18,93.06 237.76,93.66 238.34,94.26 238.93,94.87 239.52,95.45 240.10,96.00 240.68,96.49 241.27,96.94 241.86,97.36 242.44,97.80 243.02,98.27 243.60,98.80 244.17,99.42 244.74,100.09 245.30,100.81 245.86,101.53 246.43,102.24 247.00,102.90 247.58,103.51 248.16,104.09 248.75,104.65 249.34,105.21 249.92,105.79 250.50,106.40 251.06,107.06 251.61,107.77 252.16,108.49 252.71,109.21 253.29,109.88 253.90,110.50 254.56,111.04 255.25,111.53 255.96,111.99 256.69,112.42 257.40,112.85 258.10,113.30 258.75,113.75 259.37,114.18 259.98,114.61 260.62,115.04 261.31,115.50 262.10,116.00 263.01,116.55 264.01,117.13 265.07,117.74 266.16,118.36 267.21,118.95 268.20,119.50 269.13,120.02 270.05,120.53 270.94,121.02 271.80,121.48 272.62,121.91 273.40,122.30 274.13,122.64 274.80,122.92 275.43,123.18 276.05,123.41 276.67,123.65 277.30,123.90 277.96,124.16 278.63,124.42 279.30,124.68 279.96,124.94 280.60,125.22 281.20,125.50 281.75,125.80 282.26,126.12 282.75,126.45 283.24,126.78 283.75,127.10 284.30,127.40 284.91,127.67 285.57,127.91 286.25,128.15 286.93,128.40 287.59,128.67 288.20,129.00 288.76,129.39 289.29,129.82 289.80,130.28 290.30,130.76 290.79,131.24 291.30,131.70 291.82,132.14 292.33,132.57 292.85,133.00 293.37,133.44 293.88,133.90 294.40,134.40 294.93,134.95 295.46,135.54 296.00,136.15 296.53,136.76 297.03,137.35 297.50,137.90 297.93,138.39 298.33,138.84 298.71,139.27 299.08,139.69 299.44,140.13 299.80,140.60 300.15,141.08 300.47,141.54 300.79,142.01 301.12,142.53 301.48,143.12 301.90,143.80 302.38,144.58 302.91,145.43 303.48,146.34 304.06,147.33 304.64,148.38 305.20,149.50 305.75,150.67 306.30,151.90 306.84,153.19 307.39,154.57 307.94,156.03 308.50,157.60 309.07,159.30 309.65,161.14 310.23,163.06 310.81,165.04 311.37,167.03 311.90,169.00 312.39,171.06 312.86,173.28 313.30,175.51 313.74,177.62 314.21,179.46 314.70,180.90 315.23,181.84 315.77,182.37 316.34,182.64 316.91,182.79 317.50,182.96 318.10,183.30 318.71,183.82 319.34,184.42 319.98,185.04 320.62,185.64 321.26,186.17 321.90,186.60 322.54,186.91 323.20,187.14 323.86,187.31 324.51,187.43 325.12,187.52 325.70,187.60 326.23,187.63 326.74,187.59 327.22,187.51 327.67,187.46 328.10,187.47 328.50,187.60 328.89,187.89 329.27,188.31 329.62,188.80 329.94,189.29 330.20,189.71 330.40,190.00" fill="none" stroke="#444" stroke-width="0.75" stroke-linejoin="round" stroke-linecap="round"/>
<circle cx="209.60" cy="121.50" r="1.15" fill="#000"/>
<circle cx="213.15" cy="110.02" r="1.15" fill="#000"/>
<circle cx="216.70" cy="102.78" r="1.15" fill="#000"/>
<circle cx="220.25" cy="96.63" r="1.15" fill="#000"/>
<circle cx="223.80" cy="91.09" r="1.15" fill="#000"/>
<circle cx="227.35" cy="88.16" r="1.15" fill="#000"/>
<circle cx="230.90" cy="88.85" r="1.15" fill="#000"/>
<circle cx="234.45" cy="90.42" r="1.15" fill="#000"/>
<circle cx="238.00" cy="93.91" r="1.15" fill="#000"/>
<circle cx="241.55" cy="97.14" r="1.15" fill="#000"/>
<circle cx="245.10" cy="100.55" r="1.15" fill="#000"/>
<circle cx="248.65" cy="104.55" r="1.15" fill="#000"/>
<circle cx="252.20" cy="108.55" r="1.15" fill="#000"/>
<circle cx="255.75" cy="111.85" r="1.15" fill="#000"/>
<circle cx="259.30" cy="114.13" r="1.15" fill="#000"/>
<circle cx="262.85" cy="116.45" r="1.15" fill="#000"/>
<circle cx="266.40" cy="118.49" r="1.15" fill="#000"/>
<circle cx="269.95" cy="120.48" r="1.15" fill="#000"/>
<circle cx="273.50" cy="122.35" r="1.15" fill="#000"/>
<circle cx="277.05" cy="123.80" r="1.15" fill="#000"/>
<circle cx="280.60" cy="125.22" r="1.15" fill="#000"/>
<circle cx="284.15" cy="127.32" r="1.15" fill="#000"/>
<circle cx="287.70" cy="128.73" r="1.15" fill="#000"/>
<circle cx="291.25" cy="131.65" r="1.15" fill="#000"/>
<circle cx="294.80" cy="134.82" r="1.15" fill="#000"/>
<circle cx="298.35" cy="138.86" r="1.15" fill="#000"/>
<circle cx="301.90" cy="143.80" r="1.15" fill="#000"/>
<circle cx="305.45" cy="150.03" r="1.15" fill="#000"/>
<circle cx="309.00" cy="159.10" r="1.15" fill="#000"/>
<circle cx="312.55" cy="171.81" r="1.15" fill="#000"/>
<circle cx="316.10" cy="182.52" r="1.15" fill="#000"/>
<circle cx="319.65" cy="184.72" r="1.15" fill="#000"/>
<circle cx="323.20" cy="187.14" r="1.15" fill="#000"/>
<circle cx="326.75" cy="187.58" r="1.15" fill="#000"/>
<circle cx="330.30" cy="189.85" r="1.15" fill="#000"/>
<path d="M257.50 133.20H262.70M260.10 130.60V135.80" stroke="#222" stroke-width="0.8" fill="none"/>
<path d="M258.54 131.64L261.66 134.76M258.54 134.76L261.66 131.64" stroke="#444" stroke-width="0.6" fill="none"/>
<circle cx="260.10" cy="133.20" r="1.22" fill="#000"/>
<path d="M259.90 134.95H265.10M262.50 132.35V137.55" stroke="#222" stroke-width="0.8" fill="none"/>
<path d="M260.94 133.39L264.06 136.51M260.94 136.51L264.06 133.39" stroke="#444" stroke-width="0.6" fill="none"/>
<circle cx="262.50" cy="134.95" r="1.22" fill="#000"/>
<path d="M262.30 136.64H267.50M264.90 134.04V139.24" stroke="#222" stroke-width="0.8" fill="none"/>
<path d="M263.34 135.08L266.46 138.20M263.34 138.20L266.46 135.08" stroke="#444" stroke-width="0.6" fill="none"/>
<circle cx="264.90" cy="136.64" r="1.22" fill="#000"/>
<path d="M264.70 138.01H269.90M267.30 135.41V140.61" stroke="#222" stroke-width="0.8" fill="none"/>
<path d="M265.74 136.45L268.86 139.57M265.74 139.57L268.86 136.45" stroke="#444" stroke-width="0.6" fill="none"/>
<circle cx="267.30" cy="138.01" r="1.22" fill="#000"/>
<path d="M267.10 139.19H272.30M269.70 136.59V141.79" stroke="#222" stroke-width="0.8" fill="none"/>
<path d="M268.14 137.63L271.26 140.75M268.14 140.75L271.26 137.63" stroke="#444" stroke-width="0.6" fill="none"/>
<circle cx="269.70" cy="139.19" r="1.22" fill="#000"/>
<path d="M269.50 141.34H274.70M272.10 138.74V143.94" stroke="#222" stroke-width="0.8" fill="none"/>
<path d="M270.54 139.78L273.66 142.90M270.54 142.90L273.66 139.78" stroke="#444" stroke-width="0.6" fill="none"/>
<circle cx="272.10" cy="141.34" r="1.22" fill="#000"/>
<path d="M271.90 143.31H277.10M274.50 140.71V145.91" stroke="#222" stroke-width="0.8" fill="none"/>
<path d="M272.94 141.75L276.06 144.87M272.94 144.87L276.06 141.75" stroke="#444" stroke-width="0.6" fill="none"/>
<circle cx="274.50" cy="143.31" r="1.22" fill="#000"/>
<path d="M274.30 144.64H279.50M276.90 142.04V147.24" stroke="#222" stroke-width="0.8" fill="none"/>
<path d="M275.34 143.08L278.46 146.20M275.34 146.20L278.46 143.08" stroke="#444" stroke-width="0.6" fill="none"/>
<circle cx="276.90" cy="144.64" r="1.22" fill="#000"/>
<path d="M276.70 146.53H281.90M279.30 143.93V149.13" stroke="#222" stroke-width="0.8" fill="none"/>
<path d="M277.74 144.97L280.86 148.09M277.74 148.09L280.86 144.97" stroke="#444" stroke-width="0.6" fill="none"/>
<circle cx="279.30" cy="146.53" r="1.22" fill="#000"/>
<path d="M279.10 148.26H284.30M281.70 145.66V150.86" stroke="#222" stroke-width="0.8" fill="none"/>
<path d="M280.14 146.70L283.26 149.82M280.14 149.82L283.26 146.70" stroke="#444" stroke-width="0.6" fill="none"/>
<circle cx="281.70" cy="148.26" r="1.22" fill="#000"/>
<path d="M281.50 149.16H286.70M284.10 146.56V151.76" stroke="#222" stroke-width="0.8" fill="none"/>
<path d="M282.54 147.60L285.66 150.72M282.54 150.72L285.66 147.60" stroke="#444" stroke-width="0.6" fill="none"/>
<circle cx="284.10" cy="149.16" r="1.22" fill="#000"/>
<path d="M283.90 150.66H289.10M286.50 148.06V153.26" stroke="#222" stroke-width="0.8" fill="none"/>
<path d="M284.94 149.10L288.06 152.22M284.94 152.22L288.06 149.10" stroke="#444" stroke-width="0.6" fill="none"/>
<circle cx="286.50" cy="150.66" r="1.22" fill="#000"/>
<path d="M286.30 152.70H291.50M288.90 150.10V155.30" stroke="#222" stroke-width="0.8" fill="none"/>
<path d="M287.34 151.14L290.46 154.26M287.34 154.26L290.46 151.14" stroke="#444" stroke-width="0.6" fill="none"/>
<circle cx="288.90" cy="152.70" r="1.22" fill="#000"/>
<path d="M288.70 155.01H293.90M291.30 152.41V157.61" stroke="#222" stroke-width="0.8" fill="none"/>
<path d="M289.74 153.45L292.86 156.57M289.74 156.57L292.86 153.45" stroke="#444" stroke-width="0.6" fill="none"/>
<circle cx="291.30" cy="155.01" r="1.22" fill="#000"/>
<path d="M291.10 157.66H296.30M293.70 155.06V160.26" stroke="#222" stroke-width="0.8" fill="none"/>
<path d="M292.14 156.10L295.26 159.22M292.14 159.22L295.26 156.10" stroke="#444" stroke-width="0.6" fill="none"/>
<circle cx="293.70" cy="157.66" r="1.22" fill="#000"/>
<path d="M293.50 160.65H298.70M296.10 158.05V163.25" stroke="#222" stroke-width="0.8" fill="none"/>
<path d="M294.54 159.09L297.66 162.21M294.54 162.21L297.66 159.09" stroke="#444" stroke-width="0.6" fill="none"/>
<circle cx="296.10" cy="160.65" r="1.22" fill="#000"/>
<path d="M295.90 162.42H301.10M298.50 159.82V165.02" stroke="#222" stroke-width="0.8" fill="none"/>
<path d="M296.94 160.86L300.06 163.98M296.94 163.98L300.06 160.86" stroke="#444" stroke-width="0.6" fill="none"/>
<circle cx="298.50" cy="162.42" r="1.22" fill="#000"/>
<path d="M298.30 165.85H303.50M300.90 163.25V168.45" stroke="#222" stroke-width="0.8" fill="none"/>
<path d="M299.34 164.29L302.46 167.41M299.34 167.41L302.46 164.29" stroke="#444" stroke-width="0.6" fill="none"/>
<circle cx="300.90" cy="165.85" r="1.22" fill="#000"/>
<path d="M300.70 171.26H305.90M303.30 168.66V173.86" stroke="#222" stroke-width="0.8" fill="none"/>
<path d="M301.74 169.70L304.86 172.82M301.74 172.82L304.86 169.70" stroke="#444" stroke-width="0.6" fill="none"/>
<circle cx="303.30" cy="171.26" r="1.22" fill="#000"/>
<path d="M303.10 174.70H308.30M305.70 172.10V177.30" stroke="#222" stroke-width="0.8" fill="none"/>
<path d="M304.14 173.14L307.26 176.26M304.14 176.26L307.26 173.14" stroke="#444" stroke-width="0.6" fill="none"/>
<circle cx="305.70" cy="174.70" r="1.22" fill="#000"/>
<path d="M305.50 180.00H310.70M308.10 177.40V182.60" stroke="#222" stroke-width="0.8" fill="none"/>
<path d="M306.54 178.44L309.66 181.56M306.54 181.56L309.66 178.44" stroke="#444" stroke-width="0.6" fill="none"/>
<circle cx="308.10" cy="180.00" r="1.22" fill="#000"/>
<path d="M307.90 184.37H313.10M310.50 181.77V186.97" stroke="#222" stroke-width="0.8" fill="none"/>
<path d="M308.94 182.81L312.06 185.93M308.94 185.93L312.06 182.81" stroke="#444" stroke-width="0.6" fill="none"/>
<circle cx="310.50" cy="184.37" r="1.22" fill="#000"/>
<path d="M310.30 188.06H315.50M312.90 185.46V190.66" stroke="#222" stroke-width="0.8" fill="none"/>
<path d="M311.34 186.50L314.46 189.62M311.34 189.62L314.46 186.50" stroke="#444" stroke-width="0.6" fill="none"/>
<circle cx="312.90" cy="188.06" r="1.22" fill="#000"/>
<path d="M312.70 189.39H317.90M315.30 186.79V191.99" stroke="#222" stroke-width="0.8" fill="none"/>
<path d="M313.74 187.83L316.86 190.95M313.74 190.95L316.86 187.83" stroke="#444" stroke-width="0.6" fill="none"/>
<circle cx="315.30" cy="189.39" r="1.22" fill="#000"/>
<path d="M315.10 189.55H320.30M317.70 186.95V192.15" stroke="#222" stroke-width="0.8" fill="none"/>
<path d="M316.14 187.99L319.26 191.11M316.14 191.11L319.26 187.99" stroke="#444" stroke-width="0.6" fill="none"/>
<circle cx="317.70" cy="189.55" r="1.22" fill="#000"/>
<path d="M317.50 189.50H322.70M320.10 186.90V192.10" stroke="#222" stroke-width="0.8" fill="none"/>
<path d="M318.54 187.94L321.66 191.06M318.54 191.06L321.66 187.94" stroke="#444" stroke-width="0.6" fill="none"/>
<circle cx="320.10" cy="189.50" r="1.22" fill="#000"/>
<path d="M319.90 189.50H325.10M322.50 186.90V192.10" stroke="#222" stroke-width="0.8" fill="none"/>
<path d="M320.94 187.94L324.06 191.06M320.94 191.06L324.06 187.94" stroke="#444" stroke-width="0.6" fill="none"/>
<circle cx="322.50" cy="189.50" r="1.22" fill="#000"/>
<path d="M322.30 189.50H327.50M324.90 186.90V192.10" stroke="#222" stroke-width="0.8" fill="none"/>
<path d="M323.34 187.94L326.46 191.06M323.34 191.06L326.46 187.94" stroke="#444" stroke-width="0.6" fill="none"/>
<circle cx="324.90" cy="189.50" r="1.22" fill="#000"/>
<path d="M324.70 189.50H329.90M327.30 186.90V192.10" stroke="#222" stroke-width="0.8" fill="none"/>
<path d="M325.74 187.94L328.86 191.06M325.74 191.06L328.86 187.94" stroke="#444" stroke-width="0.6" fill="none"/>
<circle cx="327.30" cy="189.50" r="1.22" fill="#000"/>
<path d="M327.10 189.50H332.30M329.70 186.90V192.10" stroke="#222" stroke-width="0.8" fill="none"/>
<path d="M328.14 187.94L331.26 191.06M328.14 191.06L331.26 187.94" stroke="#444" stroke-width="0.6" fill="none"/>
<circle cx="329.70" cy="189.50" r="1.22" fill="#000"/>
<polyline points="514.50,190.40 515.77,190.38 517.54,190.35 519.63,190.32 521.86,190.28 524.04,190.24 526.00,190.20 527.75,190.16 529.43,190.13 531.07,190.09 532.68,190.04 534.29,189.98 535.90,189.90 537.54,189.81 539.19,189.71 540.83,189.60 542.44,189.47 544.00,189.30 545.50,189.10 546.91,188.88 548.26,188.64 549.55,188.37 550.82,188.06 552.10,187.67 553.40,187.20 554.75,186.63 556.12,185.99 557.50,185.28 558.86,184.51 560.16,183.68 561.40,182.80 562.57,181.85 563.68,180.81 564.75,179.73 565.77,178.61 566.76,177.49 567.70,176.40 568.60,175.35 569.44,174.32 570.24,173.29 571.01,172.24 571.76,171.15 572.50,170.00 573.22,168.77 573.92,167.48 574.60,166.15 575.26,164.80 575.89,163.44 576.50,162.10 577.08,160.81 577.63,159.56 578.15,158.30 578.66,157.00 579.18,155.61 579.70,154.10 580.24,152.41 580.80,150.57 581.35,148.65 581.89,146.70 582.41,144.80 582.90,143.00 583.36,141.28 583.79,139.57 584.21,137.90 584.60,136.30 584.96,134.79 585.30,133.40 585.60,132.20 585.86,131.18 586.10,130.25 586.33,129.32 586.55,128.30 586.80,127.10 587.06,125.69 587.33,124.14 587.59,122.50 587.86,120.81 588.13,119.13 588.40,117.50 588.67,115.89 588.93,114.27 589.20,112.65 589.47,111.05 589.73,109.50 590.00,108.00 590.27,106.63 590.54,105.39 590.81,104.19 591.08,102.94 591.34,101.58 591.60,100.00 591.82,98.26 592.01,96.43 592.19,94.47 592.40,92.35 592.66,90.04 593.00,87.50 593.44,84.64 593.96,81.46 594.54,78.09 595.14,74.64 595.73,71.24 596.30,68.00 596.84,64.91 597.37,61.86 597.90,58.85 598.43,55.89 598.96,52.97 599.50,50.10 600.05,47.22 600.60,44.31 601.15,41.44 601.70,38.69 602.25,36.12 602.80,33.80 603.34,31.71 603.88,29.80 604.42,28.06 604.95,26.51 605.48,25.16 606.00,24.00 606.52,23.06 607.03,22.34 607.53,21.81 608.03,21.44 608.52,21.21 609.00,21.10 609.46,21.06 609.90,21.11 610.33,21.31 610.77,21.69 611.22,22.30 611.70,23.20 612.22,24.41 612.76,25.89 613.31,27.61 613.88,29.53 614.44,31.61 615.00,33.80 615.55,36.17 616.10,38.75 616.66,41.49 617.21,44.34 617.76,47.22 618.30,50.10 618.84,52.99 619.37,55.95 619.90,58.95 620.43,61.97 620.96,65.00 621.50,68.00 622.07,71.09 622.67,74.29 623.27,77.50 623.84,80.59 624.36,83.43 624.80,85.90 625.12,87.89 625.36,89.46 625.53,90.79 625.69,92.05 625.87,93.39 626.10,95.00 626.39,96.89 626.71,98.94 627.05,101.08 627.40,103.24 627.75,105.37 628.10,107.40 628.44,109.34 628.79,111.25 629.14,113.12 629.50,114.95 629.85,116.75 630.20,118.50 630.54,120.20 630.88,121.84 631.21,123.44 631.56,125.02 631.92,126.60 632.30,128.20 632.71,129.82 633.13,131.44 633.56,133.06 634.02,134.67 634.50,136.29 635.00,137.90 635.53,139.52 636.08,141.16 636.66,142.79 637.25,144.40 637.87,145.98 638.50,147.50 639.16,148.99 639.85,150.46 640.56,151.90 641.28,153.28 642.00,154.59 642.70,155.80 643.39,156.92 644.07,157.97 644.75,158.95 645.43,159.85 646.11,160.67 646.80,161.40 647.48,162.03 648.14,162.56 648.81,163.01 649.50,163.40 650.22,163.76 651.00,164.10 651.84,164.43 652.74,164.74 653.67,165.01 654.62,165.24 655.57,165.40 656.50,165.50 657.42,165.50 658.33,165.40 659.25,165.24 660.17,165.06 661.08,164.90 662.00,164.80 662.93,164.74 663.88,164.70 664.83,164.67 665.76,164.67 666.66,164.71 667.50,164.80 668.29,164.95 669.03,165.14 669.74,165.38 670.41,165.64 671.07,165.92 671.70,166.20 672.29,166.48 672.83,166.77 673.35,167.07 673.87,167.40 674.41,167.74 675.00,168.10 675.65,168.48 676.36,168.88 677.08,169.29 677.81,169.73 678.52,170.20 679.20,170.70 679.83,171.23 680.44,171.79 681.04,172.37 681.62,172.98 682.21,173.62 682.80,174.30 683.40,175.01 684.00,175.77 684.60,176.55 685.20,177.36 685.80,178.18 686.40,179.00 687.01,179.86 687.64,180.77 688.26,181.70 688.87,182.60 689.46,183.45 690.00,184.20 690.48,184.85 690.91,185.42 691.31,185.93 691.71,186.40 692.13,186.85 692.60,187.30 693.09,187.75 693.58,188.19 694.09,188.61 694.64,188.99 695.27,189.32 696.00,189.60 696.71,189.80 697.36,189.94 698.09,190.04 699.01,190.10 700.28,190.15 702.00,190.20 704.51,190.25 707.78,190.27 711.38,190.29 714.89,190.29 717.90,190.29 720.00,190.30" fill="none" stroke="#383838" stroke-width="1.0" stroke-linejoin="round" stroke-linecap="round"/>
<polyline points="666.00,166.50 666.56,166.70 667.33,166.96 668.25,167.28 669.22,167.63 670.17,168.01 671.00,168.40 671.72,168.80 672.41,169.22 673.06,169.66 673.70,170.14 674.34,170.65 675.00,171.20 675.67,171.81 676.35,172.46 677.03,173.16 677.70,173.87 678.36,174.59 679.00,175.30 679.61,176.00 680.20,176.70 680.78,177.41 681.35,178.13 681.92,178.86 682.50,179.60 683.09,180.38 683.69,181.19 684.28,182.01 684.87,182.82 685.45,183.59 686.00,184.30 686.53,184.95 687.04,185.55 687.53,186.12 688.02,186.65 688.51,187.14 689.00,187.60 689.49,188.02 689.96,188.41 690.44,188.77 690.93,189.09 691.44,189.36 692.00,189.60 692.66,189.79 693.41,189.93 694.19,190.03 694.93,190.10 695.55,190.15 696.00,190.20" fill="none" stroke="#383838" stroke-width="1.0" stroke-linejoin="round" stroke-linecap="round"/>
<polyline points="586.80,129.00 587.14,128.09 587.60,126.84 588.15,125.35 588.76,123.75 589.38,122.16 590.00,120.70 590.62,119.34 591.27,117.98 591.95,116.62 592.64,115.29 593.32,113.98 594.00,112.70 594.68,111.46 595.36,110.25 596.05,109.07 596.73,107.90 597.38,106.75 598.00,105.60 598.58,104.44 599.13,103.27 599.65,102.11 600.16,100.99 600.68,99.91 601.20,98.90 601.73,97.96 602.26,97.06 602.79,96.21 603.33,95.42 603.86,94.68 604.40,94.00 604.95,93.37 605.50,92.78 606.05,92.24 606.60,91.78 607.15,91.39 607.70,91.10 608.23,90.88 608.76,90.72 609.28,90.64 609.80,90.66 610.34,90.81 610.90,91.10 611.48,91.59 612.08,92.27 612.69,93.07 613.32,93.94 613.95,94.80 614.60,95.60 615.26,96.32 615.95,97.00 616.64,97.69 617.34,98.40 618.03,99.16 618.70,100.00 619.36,100.94 620.02,101.94 620.68,103.01 621.31,104.10 621.92,105.20 622.50,106.30 623.04,107.40 623.54,108.52 624.02,109.66 624.48,110.79 624.94,111.91 625.40,113.00 625.86,114.05 626.31,115.08 626.76,116.09 627.20,117.10 627.65,118.13 628.10,119.20 628.56,120.32 629.03,121.47 629.49,122.65 629.96,123.83 630.43,124.98 630.90,126.10 631.36,127.18 631.81,128.24 632.26,129.28 632.72,130.30 633.20,131.31 633.70,132.30 634.22,133.29 634.76,134.27 635.31,135.23 635.89,136.17 636.48,137.06 637.10,137.90 637.75,138.67 638.42,139.37 639.11,140.04 639.83,140.68 640.56,141.33 641.30,142.00 642.06,142.73 642.85,143.50 643.66,144.27 644.47,145.01 645.29,145.67 646.10,146.20 646.90,146.60 647.70,146.90 648.51,147.12 649.32,147.29 650.15,147.40 651.00,147.50 651.88,147.56 652.79,147.56 653.71,147.51 654.64,147.44 655.58,147.37 656.50,147.30 657.42,147.22 658.36,147.11 659.29,146.99 660.22,146.89 661.12,146.82 662.00,146.80 662.85,146.83 663.67,146.89 664.48,146.99 665.27,147.12 666.04,147.29 666.80,147.50 667.54,147.76 668.25,148.07 668.95,148.41 669.64,148.79 670.32,149.19 671.00,149.60 671.67,150.01 672.33,150.41 672.98,150.83 673.64,151.30 674.31,151.85 675.00,152.50 675.73,153.26 676.51,154.12 677.29,155.05 678.07,156.04 678.81,157.06 679.50,158.10 680.12,159.16 680.69,160.26 681.22,161.40 681.74,162.57 682.26,163.77 682.80,165.00 683.37,166.30 683.97,167.68 684.56,169.09 685.14,170.48 685.70,171.80 686.20,173.00 686.66,174.09 687.08,175.11 687.47,176.06 687.83,176.94 688.18,177.75 688.50,178.50 688.80,179.16 689.06,179.73 689.29,180.23 689.52,180.69 689.75,181.14 690.00,181.60 690.26,182.07 690.52,182.53 690.78,182.98 691.05,183.41 691.32,183.82 691.60,184.20 691.88,184.56 692.14,184.89 692.42,185.20 692.71,185.49 693.03,185.76 693.40,186.00 693.81,186.22 694.26,186.42 694.74,186.59 695.24,186.75 695.76,186.88 696.30,187.00 696.86,187.09 697.45,187.14 698.06,187.18 698.67,187.21 699.29,187.25 699.90,187.30 700.49,187.38 701.08,187.47 701.67,187.56 702.26,187.66 702.87,187.74 703.50,187.80 704.20,187.84 704.98,187.87 705.77,187.88 706.52,187.89 707.15,187.89 707.60,187.90" fill="none" stroke="#444" stroke-width="0.75" stroke-linejoin="round" stroke-linecap="round"/>
<circle cx="586.80" cy="129.00" r="1.15" fill="#000"/>
<circle cx="590.35" cy="119.93" r="1.15" fill="#000"/>
<circle cx="593.90" cy="112.89" r="1.15" fill="#000"/>
<circle cx="597.45" cy="106.62" r="1.15" fill="#000"/>
<circle cx="601.00" cy="99.28" r="1.15" fill="#000"/>
<circle cx="604.55" cy="93.83" r="1.15" fill="#000"/>
<circle cx="608.10" cy="90.94" r="1.15" fill="#000"/>
<circle cx="611.65" cy="91.78" r="1.15" fill="#000"/>
<circle cx="615.20" cy="96.25" r="1.15" fill="#000"/>
<circle cx="618.75" cy="100.07" r="1.15" fill="#000"/>
<circle cx="622.30" cy="105.92" r="1.15" fill="#000"/>
<circle cx="625.85" cy="114.03" r="1.15" fill="#000"/>
<circle cx="629.40" cy="122.41" r="1.15" fill="#000"/>
<circle cx="632.95" cy="130.78" r="1.15" fill="#000"/>
<circle cx="636.50" cy="137.09" r="1.15" fill="#000"/>
<circle cx="640.05" cy="140.88" r="1.15" fill="#000"/>
<circle cx="643.60" cy="144.22" r="1.15" fill="#000"/>
<circle cx="647.15" cy="146.69" r="1.15" fill="#000"/>
<circle cx="650.70" cy="147.47" r="1.15" fill="#000"/>
<circle cx="654.25" cy="147.47" r="1.15" fill="#000"/>
<circle cx="657.80" cy="147.18" r="1.15" fill="#000"/>
<circle cx="661.35" cy="146.81" r="1.15" fill="#000"/>
<circle cx="664.90" cy="147.06" r="1.15" fill="#000"/>
<circle cx="668.45" cy="148.16" r="1.15" fill="#000"/>
<circle cx="672.00" cy="150.21" r="1.15" fill="#000"/>
<circle cx="675.55" cy="153.07" r="1.15" fill="#000"/>
<circle cx="679.10" cy="157.49" r="1.15" fill="#000"/>
<circle cx="682.65" cy="164.66" r="1.15" fill="#000"/>
<circle cx="686.20" cy="173.00" r="1.15" fill="#000"/>
<circle cx="689.75" cy="181.13" r="1.15" fill="#000"/>
<circle cx="693.30" cy="185.93" r="1.15" fill="#000"/>
<circle cx="696.85" cy="187.09" r="1.15" fill="#000"/>
<circle cx="700.40" cy="187.36" r="1.15" fill="#000"/>
<circle cx="703.95" cy="187.83" r="1.15" fill="#000"/>
<circle cx="707.50" cy="187.90" r="1.15" fill="#000"/>
<path d="M635.90 161.40H641.10M638.50 158.80V164.00" stroke="#222" stroke-width="0.8" fill="none"/>
<path d="M636.94 159.84L640.06 162.96M636.94 162.96L640.06 159.84" stroke="#444" stroke-width="0.6" fill="none"/>
<circle cx="638.50" cy="161.40" r="1.22" fill="#000"/>
<path d="M638.30 163.05H643.50M640.90 160.45V165.65" stroke="#222" stroke-width="0.8" fill="none"/>
<path d="M639.34 161.49L642.46 164.61M639.34 164.61L642.46 161.49" stroke="#444" stroke-width="0.6" fill="none"/>
<circle cx="640.90" cy="163.05" r="1.22" fill="#000"/>
<path d="M640.70 164.39H645.90M643.30 161.79V166.99" stroke="#222" stroke-width="0.8" fill="none"/>
<path d="M641.74 162.83L644.86 165.95M641.74 165.95L644.86 162.83" stroke="#444" stroke-width="0.6" fill="none"/>
<circle cx="643.30" cy="164.39" r="1.22" fill="#000"/>
<path d="M643.10 165.40H648.30M645.70 162.80V168.00" stroke="#222" stroke-width="0.8" fill="none"/>
<path d="M644.14 163.84L647.26 166.96M644.14 166.96L647.26 163.84" stroke="#444" stroke-width="0.6" fill="none"/>
<circle cx="645.70" cy="165.40" r="1.22" fill="#000"/>
<path d="M645.50 166.17H650.70M648.10 163.57V168.77" stroke="#222" stroke-width="0.8" fill="none"/>
<path d="M646.54 164.61L649.66 167.73M646.54 167.73L649.66 164.61" stroke="#444" stroke-width="0.6" fill="none"/>
<circle cx="648.10" cy="166.17" r="1.22" fill="#000"/>
<path d="M647.90 166.64H653.10M650.50 164.04V169.24" stroke="#222" stroke-width="0.8" fill="none"/>
<path d="M648.94 165.08L652.06 168.20M648.94 168.20L652.06 165.08" stroke="#444" stroke-width="0.6" fill="none"/>
<circle cx="650.50" cy="166.64" r="1.22" fill="#000"/>
<path d="M650.30 166.86H655.50M652.90 164.26V169.46" stroke="#222" stroke-width="0.8" fill="none"/>
<path d="M651.34 165.30L654.46 168.42M651.34 168.42L654.46 165.30" stroke="#444" stroke-width="0.6" fill="none"/>
<circle cx="652.90" cy="166.86" r="1.22" fill="#000"/>
<path d="M652.70 166.90H657.90M655.30 164.30V169.50" stroke="#222" stroke-width="0.8" fill="none"/>
<path d="M653.74 165.34L656.86 168.46M653.74 168.46L656.86 165.34" stroke="#444" stroke-width="0.6" fill="none"/>
<circle cx="655.30" cy="166.90" r="1.22" fill="#000"/>
<path d="M655.10 166.74H660.30M657.70 164.14V169.34" stroke="#222" stroke-width="0.8" fill="none"/>
<path d="M656.14 165.18L659.26 168.30M656.14 168.30L659.26 165.18" stroke="#444" stroke-width="0.6" fill="none"/>
<circle cx="657.70" cy="166.74" r="1.22" fill="#000"/>
<path d="M657.50 166.47H662.70M660.10 163.87V169.07" stroke="#222" stroke-width="0.8" fill="none"/>
<path d="M658.54 164.91L661.66 168.03M658.54 168.03L661.66 164.91" stroke="#444" stroke-width="0.6" fill="none"/>
<circle cx="660.10" cy="166.47" r="1.22" fill="#000"/>
<path d="M659.90 166.00H665.10M662.50 163.40V168.60" stroke="#222" stroke-width="0.8" fill="none"/>
<path d="M660.94 164.44L664.06 167.56M660.94 167.56L664.06 164.44" stroke="#444" stroke-width="0.6" fill="none"/>
<circle cx="662.50" cy="166.00" r="1.22" fill="#000"/>
<path d="M662.30 165.81H667.50M664.90 163.21V168.41" stroke="#222" stroke-width="0.8" fill="none"/>
<path d="M663.34 164.25L666.46 167.37M663.34 167.37L666.46 164.25" stroke="#444" stroke-width="0.6" fill="none"/>
<circle cx="664.90" cy="165.81" r="1.22" fill="#000"/>
<path d="M664.70 166.15H669.90M667.30 163.55V168.75" stroke="#222" stroke-width="0.8" fill="none"/>
<path d="M665.74 164.59L668.86 167.71M665.74 167.71L668.86 164.59" stroke="#444" stroke-width="0.6" fill="none"/>
<circle cx="667.30" cy="166.15" r="1.22" fill="#000"/>
<path d="M667.10 166.93H672.30M669.70 164.33V169.53" stroke="#222" stroke-width="0.8" fill="none"/>
<path d="M668.14 165.37L671.26 168.49M668.14 168.49L671.26 165.37" stroke="#444" stroke-width="0.6" fill="none"/>
<circle cx="669.70" cy="166.93" r="1.22" fill="#000"/>
<path d="M669.50 168.33H674.70M672.10 165.73V170.93" stroke="#222" stroke-width="0.8" fill="none"/>
<path d="M670.54 166.77L673.66 169.89M670.54 169.89L673.66 166.77" stroke="#444" stroke-width="0.6" fill="none"/>
<circle cx="672.10" cy="168.33" r="1.22" fill="#000"/>
<path d="M671.90 170.44H677.10M674.50 167.84V173.04" stroke="#222" stroke-width="0.8" fill="none"/>
<path d="M672.94 168.88L676.06 172.00M672.94 172.00L676.06 168.88" stroke="#444" stroke-width="0.6" fill="none"/>
<circle cx="674.50" cy="170.44" r="1.22" fill="#000"/>
<path d="M674.30 174.99H679.50M676.90 172.39V177.59" stroke="#222" stroke-width="0.8" fill="none"/>
<path d="M675.34 173.43L678.46 176.55M675.34 176.55L678.46 173.43" stroke="#444" stroke-width="0.6" fill="none"/>
<circle cx="676.90" cy="174.99" r="1.22" fill="#000"/>
<path d="M676.70 178.30H681.90M679.30 175.70V180.90" stroke="#222" stroke-width="0.8" fill="none"/>
<path d="M677.74 176.74L680.86 179.86M677.74 179.86L680.86 176.74" stroke="#444" stroke-width="0.6" fill="none"/>
<circle cx="679.30" cy="178.30" r="1.22" fill="#000"/>
<path d="M679.10 181.81H684.30M681.70 179.21V184.41" stroke="#222" stroke-width="0.8" fill="none"/>
<path d="M680.14 180.25L683.26 183.37M680.14 183.37L683.26 180.25" stroke="#444" stroke-width="0.6" fill="none"/>
<circle cx="681.70" cy="181.81" r="1.22" fill="#000"/>
<path d="M681.50 183.90H686.70M684.10 181.30V186.50" stroke="#222" stroke-width="0.8" fill="none"/>
<path d="M682.54 182.34L685.66 185.46M682.54 185.46L685.66 182.34" stroke="#444" stroke-width="0.6" fill="none"/>
<circle cx="684.10" cy="183.90" r="1.22" fill="#000"/>
<path d="M683.90 186.93H689.10M686.50 184.33V189.53" stroke="#222" stroke-width="0.8" fill="none"/>
<path d="M684.94 185.37L688.06 188.49M684.94 188.49L688.06 185.37" stroke="#444" stroke-width="0.6" fill="none"/>
<circle cx="686.50" cy="186.93" r="1.22" fill="#000"/>
<path d="M686.30 189.81H691.50M688.90 187.21V192.41" stroke="#222" stroke-width="0.8" fill="none"/>
<path d="M687.34 188.25L690.46 191.37M687.34 191.37L690.46 188.25" stroke="#444" stroke-width="0.6" fill="none"/>
<circle cx="688.90" cy="189.81" r="1.22" fill="#000"/>
<path d="M688.70 189.90H693.90M691.30 187.30V192.50" stroke="#222" stroke-width="0.8" fill="none"/>
<path d="M689.74 188.34L692.86 191.46M689.74 191.46L692.86 188.34" stroke="#444" stroke-width="0.6" fill="none"/>
<circle cx="691.30" cy="189.90" r="1.22" fill="#000"/>
<path d="M691.10 189.93H696.30M693.70 187.33V192.53" stroke="#222" stroke-width="0.8" fill="none"/>
<path d="M692.14 188.37L695.26 191.49M692.14 191.49L695.26 188.37" stroke="#444" stroke-width="0.6" fill="none"/>
<circle cx="693.70" cy="189.93" r="1.22" fill="#000"/>
<path d="M693.50 189.94H698.70M696.10 187.34V192.54" stroke="#222" stroke-width="0.8" fill="none"/>
<path d="M694.54 188.38L697.66 191.50M694.54 191.50L697.66 188.38" stroke="#444" stroke-width="0.6" fill="none"/>
<circle cx="696.10" cy="189.94" r="1.22" fill="#000"/>
<path d="M695.90 189.93H701.10M698.50 187.33V192.53" stroke="#222" stroke-width="0.8" fill="none"/>
<path d="M696.94 188.37L700.06 191.49M696.94 191.49L700.06 188.37" stroke="#444" stroke-width="0.6" fill="none"/>
<circle cx="698.50" cy="189.93" r="1.22" fill="#000"/>
<path d="M698.30 189.93H703.50M700.90 187.33V192.53" stroke="#222" stroke-width="0.8" fill="none"/>
<path d="M699.34 188.37L702.46 191.49M699.34 191.49L702.46 188.37" stroke="#444" stroke-width="0.6" fill="none"/>
<circle cx="700.90" cy="189.93" r="1.22" fill="#000"/>
<path d="M700.70 189.92H705.90M703.30 187.32V192.52" stroke="#222" stroke-width="0.8" fill="none"/>
<path d="M701.74 188.36L704.86 191.48M701.74 191.48L704.86 188.36" stroke="#444" stroke-width="0.6" fill="none"/>
<circle cx="703.30" cy="189.92" r="1.22" fill="#000"/>
<path d="M703.10 189.91H708.30M705.70 187.31V192.51" stroke="#222" stroke-width="0.8" fill="none"/>
<path d="M704.14 188.35L707.26 191.47M704.14 191.47L707.26 188.35" stroke="#444" stroke-width="0.6" fill="none"/>
<circle cx="705.70" cy="189.91" r="1.22" fill="#000"/>
<path d="M689.70 187.80H694.30M692.00 185.50V190.10" stroke="#222" stroke-width="0.8" fill="none"/>
<path d="M690.62 186.42L693.38 189.18M690.62 189.18L693.38 186.42" stroke="#444" stroke-width="0.6" fill="none"/>
<circle cx="692.00" cy="187.80" r="1.08" fill="#000"/>
<path d="M692.70 187.80H697.30M695.00 185.50V190.10" stroke="#222" stroke-width="0.8" fill="none"/>
<path d="M693.62 186.42L696.38 189.18M693.62 189.18L696.38 186.42" stroke="#444" stroke-width="0.6" fill="none"/>
<circle cx="695.00" cy="187.80" r="1.08" fill="#000"/>
<path d="M695.70 187.80H700.30M698.00 185.50V190.10" stroke="#222" stroke-width="0.8" fill="none"/>
<path d="M696.62 186.42L699.38 189.18M696.62 189.18L699.38 186.42" stroke="#444" stroke-width="0.6" fill="none"/>
<circle cx="698.00" cy="187.80" r="1.08" fill="#000"/>
<path d="M698.70 187.80H703.30M701.00 185.50V190.10" stroke="#222" stroke-width="0.8" fill="none"/>
<path d="M699.62 186.42L702.38 189.18M699.62 189.18L702.38 186.42" stroke="#444" stroke-width="0.6" fill="none"/>
<circle cx="701.00" cy="187.80" r="1.08" fill="#000"/>
<path d="M701.70 187.80H706.30M704.00 185.50V190.10" stroke="#222" stroke-width="0.8" fill="none"/>
<path d="M702.62 186.42L705.38 189.18M702.62 189.18L705.38 186.42" stroke="#444" stroke-width="0.6" fill="none"/>
<circle cx="704.00" cy="187.80" r="1.08" fill="#000"/>
<path d="M704.70 187.80H709.30M707.00 185.50V190.10" stroke="#222" stroke-width="0.8" fill="none"/>
<path d="M705.62 186.42L708.38 189.18M705.62 189.18L708.38 186.42" stroke="#444" stroke-width="0.6" fill="none"/>
<circle cx="707.00" cy="187.80" r="1.08" fill="#000"/>
<polyline points="893.00,190.30 894.33,190.28 896.19,190.25 898.38,190.21 900.70,190.17 902.98,190.14 905.00,190.10 906.79,190.07 908.50,190.05 910.16,190.03 911.78,190.00 913.39,189.96 915.00,189.90 916.60,189.84 918.17,189.77 919.73,189.70 921.29,189.60 922.87,189.47 924.50,189.30 926.20,189.09 927.95,188.87 929.72,188.61 931.50,188.30 933.23,187.94 934.90,187.50 936.52,186.99 938.13,186.40 939.69,185.76 941.21,185.07 942.65,184.35 944.00,183.60 945.25,182.82 946.41,182.01 947.50,181.16 948.53,180.28 949.53,179.36 950.50,178.40 951.44,177.39 952.35,176.33 953.21,175.23 954.04,174.11 954.84,172.99 955.60,171.90 956.33,170.83 957.01,169.76 957.66,168.70 958.29,167.64 958.90,166.57 959.50,165.50 960.09,164.42 960.67,163.34 961.23,162.26 961.77,161.17 962.30,160.08 962.80,159.00 963.27,157.92 963.72,156.86 964.14,155.79 964.56,154.72 964.97,153.62 965.40,152.50 965.84,151.32 966.29,150.10 966.74,148.86 967.19,147.62 967.61,146.43 968.00,145.30 968.36,144.26 968.68,143.29 968.99,142.36 969.29,141.43 969.59,140.49 969.90,139.50 970.23,138.47 970.56,137.43 970.90,136.38 971.24,135.29 971.57,134.17 971.90,133.00 972.23,131.75 972.57,130.40 972.90,129.02 973.22,127.66 973.52,126.36 973.80,125.20 974.03,124.27 974.21,123.56 974.38,122.93 974.55,122.21 974.75,121.29 975.00,120.00 975.31,118.28 975.66,116.24 976.04,113.99 976.44,111.62 976.83,109.26 977.20,107.00 977.56,104.82 977.91,102.61 978.27,100.41 978.62,98.22 978.96,96.08 979.30,94.00 979.61,92.01 979.90,90.09 980.17,88.22 980.47,86.35 980.80,84.46 981.20,82.50 981.68,80.43 982.24,78.27 982.84,76.09 983.44,73.94 984.00,71.89 984.50,70.00 984.92,68.29 985.29,66.69 985.62,65.20 985.94,63.79 986.26,62.43 986.60,61.10 986.95,59.81 987.30,58.57 987.65,57.39 988.00,56.27 988.35,55.21 988.70,54.20 989.05,53.27 989.40,52.43 989.76,51.65 990.11,50.90 990.46,50.16 990.80,49.40 991.13,48.62 991.44,47.84 991.76,47.07 992.08,46.31 992.42,45.59 992.80,44.90 993.21,44.25 993.65,43.63 994.11,43.04 994.59,42.47 995.08,41.93 995.60,41.40 996.14,40.89 996.69,40.39 997.27,39.91 997.86,39.46 998.47,39.05 999.10,38.70 999.72,38.40 1000.32,38.16 1000.94,37.95 1001.61,37.78 1002.35,37.63 1003.20,37.50 1004.19,37.40 1005.31,37.34 1006.51,37.30 1007.73,37.27 1008.91,37.25 1010.00,37.20 1011.00,37.13 1011.97,37.04 1012.89,36.94 1013.79,36.86 1014.66,36.81 1015.50,36.80 1016.31,36.82 1017.07,36.87 1017.81,36.94 1018.54,37.05 1019.26,37.20 1020.00,37.40 1020.76,37.64 1021.53,37.93 1022.30,38.26 1023.06,38.63 1023.80,39.04 1024.50,39.50 1025.16,39.98 1025.80,40.48 1026.41,41.03 1027.00,41.64 1027.60,42.36 1028.20,43.20 1028.80,44.20 1029.40,45.34 1030.00,46.58 1030.60,47.87 1031.20,49.20 1031.80,50.50 1032.42,51.79 1033.06,53.10 1033.71,54.44 1034.34,55.80 1034.94,57.18 1035.50,58.60 1036.02,60.05 1036.51,61.53 1036.97,63.03 1037.40,64.56 1037.81,66.12 1038.20,67.70 1038.55,69.30 1038.87,70.93 1039.16,72.59 1039.43,74.27 1039.71,75.97 1040.00,77.70 1040.30,79.46 1040.60,81.27 1040.90,83.09 1041.20,84.93 1041.50,86.77 1041.80,88.60 1042.10,90.42 1042.40,92.23 1042.69,94.04 1042.99,95.86 1043.29,97.68 1043.60,99.50 1043.91,101.35 1044.23,103.23 1044.55,105.12 1044.87,106.98 1045.19,108.78 1045.50,110.50 1045.81,112.14 1046.13,113.74 1046.44,115.28 1046.74,116.76 1047.03,118.17 1047.30,119.50 1047.55,120.77 1047.78,121.98 1048.00,123.12 1048.21,124.18 1048.41,125.14 1048.60,126.00 1048.77,126.63 1048.91,127.02 1049.04,127.31 1049.19,127.66 1049.37,128.21 1049.60,129.10 1049.90,130.45 1050.24,132.16 1050.62,134.07 1051.02,136.03 1051.42,137.85 1051.80,139.40 1052.14,140.66 1052.45,141.75 1052.76,142.72 1053.10,143.61 1053.51,144.45 1054.00,145.30 1054.60,146.14 1055.28,146.93 1056.02,147.69 1056.80,148.40 1057.60,149.07 1058.40,149.70 1059.22,150.28 1060.07,150.80 1060.95,151.28 1061.83,151.73 1062.68,152.17 1063.50,152.60 1064.29,153.00 1065.07,153.36 1065.83,153.71 1066.56,154.06 1067.26,154.45 1067.90,154.90 1068.48,155.38 1069.01,155.86 1069.49,156.38 1069.96,156.97 1070.42,157.67 1070.90,158.50 1071.39,159.50 1071.87,160.63 1072.35,161.88 1072.83,163.19 1073.31,164.54 1073.80,165.90 1074.30,167.29 1074.80,168.73 1075.30,170.21 1075.80,171.71 1076.30,173.22 1076.80,174.70 1077.29,176.22 1077.77,177.80 1078.26,179.37 1078.74,180.89 1079.22,182.29 1079.70,183.50 1080.16,184.52 1080.61,185.39 1081.05,186.14 1081.51,186.79 1082.02,187.37 1082.60,187.90 1083.09,188.37 1083.44,188.74 1083.84,189.04 1084.46,189.29 1085.49,189.51 1087.10,189.70 1089.66,189.86 1093.09,189.98 1096.93,190.06 1100.71,190.12 1103.95,190.16 1106.20,190.20" fill="none" stroke="#383838" stroke-width="1.0" stroke-linejoin="round" stroke-linecap="round"/>
<polyline points="971.40,136.40 971.86,135.01 972.49,133.08 973.24,130.80 974.04,128.36 974.85,125.96 975.60,123.80 976.30,121.85 977.00,119.96 977.70,118.11 978.40,116.28 979.10,114.45 979.80,112.60 980.50,110.73 981.20,108.87 981.90,107.00 982.60,105.13 983.30,103.27 984.00,101.40 984.70,99.52 985.40,97.61 986.10,95.71 986.80,93.82 987.50,91.98 988.20,90.20 988.90,88.45 989.61,86.70 990.31,84.99 991.01,83.37 991.71,81.86 992.40,80.50 993.09,79.30 993.80,78.24 994.49,77.29 995.17,76.45 995.81,75.69 996.40,75.00 996.91,74.42 997.36,73.97 997.77,73.61 998.18,73.29 998.61,72.97 999.10,72.60 999.65,72.17 1000.23,71.72 1000.84,71.27 1001.46,70.83 1002.08,70.44 1002.70,70.10 1003.32,69.83 1003.96,69.62 1004.61,69.45 1005.24,69.30 1005.84,69.16 1006.40,69.00 1006.90,68.88 1007.34,68.82 1007.76,68.77 1008.17,68.67 1008.61,68.46 1009.10,68.10 1009.65,67.52 1010.23,66.75 1010.84,65.88 1011.46,64.99 1012.08,64.16 1012.70,63.50 1013.31,63.00 1013.93,62.59 1014.55,62.26 1015.17,61.96 1015.79,61.69 1016.40,61.40 1017.01,61.12 1017.61,60.86 1018.21,60.62 1018.80,60.39 1019.40,60.15 1020.00,59.90 1020.60,59.63 1021.20,59.36 1021.79,59.08 1022.39,58.80 1022.99,58.54 1023.60,58.30 1024.22,58.10 1024.86,57.92 1025.51,57.76 1026.14,57.60 1026.74,57.42 1027.30,57.20 1027.80,56.88 1028.24,56.47 1028.66,56.03 1029.07,55.66 1029.51,55.42 1030.00,55.40 1030.55,55.64 1031.14,56.08 1031.76,56.66 1032.39,57.31 1033.01,57.98 1033.60,58.60 1034.18,59.16 1034.76,59.70 1035.34,60.26 1035.89,60.86 1036.42,61.53 1036.90,62.30 1037.33,63.17 1037.73,64.10 1038.09,65.11 1038.44,66.20 1038.77,67.36 1039.10,68.60 1039.42,69.95 1039.73,71.43 1040.02,72.97 1040.31,74.56 1040.60,76.15 1040.90,77.70 1041.20,79.24 1041.50,80.80 1041.80,82.36 1042.10,83.90 1042.40,85.39 1042.70,86.80 1043.00,88.14 1043.30,89.44 1043.59,90.68 1043.89,91.87 1044.19,93.01 1044.50,94.10 1044.81,95.11 1045.13,96.04 1045.45,96.91 1045.77,97.76 1046.09,98.62 1046.40,99.50 1046.70,100.42 1047.00,101.34 1047.29,102.28 1047.58,103.20 1047.88,104.11 1048.20,105.00 1048.52,105.83 1048.85,106.61 1049.18,107.38 1049.53,108.17 1049.90,109.03 1050.30,110.00 1050.72,111.14 1051.15,112.43 1051.61,113.79 1052.09,115.13 1052.62,116.36 1053.20,117.40 1053.83,118.24 1054.50,118.93 1055.21,119.53 1055.97,120.04 1056.76,120.53 1057.60,121.00 1058.52,121.42 1059.54,121.76 1060.59,122.05 1061.64,122.36 1062.63,122.72 1063.50,123.20 1064.24,123.78 1064.90,124.42 1065.49,125.12 1066.05,125.88 1066.61,126.71 1067.20,127.60 1067.83,128.53 1068.46,129.50 1069.10,130.54 1069.73,131.66 1070.33,132.91 1070.90,134.30 1071.42,135.82 1071.90,137.43 1072.35,139.16 1072.80,141.04 1073.28,143.08 1073.80,145.30 1074.38,147.83 1075.00,150.66 1075.65,153.66 1076.30,156.67 1076.92,159.57 1077.50,162.20 1078.03,164.58 1078.52,166.83 1078.99,168.96 1079.46,170.97 1079.92,172.88 1080.40,174.70 1080.89,176.47 1081.37,178.18 1081.85,179.79 1082.34,181.24 1082.86,182.50 1083.40,183.50 1083.97,184.18 1084.56,184.57 1085.16,184.76 1085.79,184.83 1086.43,184.88 1087.10,185.00 1087.84,185.12 1088.65,185.16 1089.49,185.17 1090.28,185.22 1090.97,185.38 1091.50,185.70 1091.84,186.27 1092.03,187.06 1092.12,187.94 1092.16,188.82 1092.17,189.58 1092.20,190.10" fill="none" stroke="#444" stroke-width="0.75" stroke-linejoin="round" stroke-linecap="round"/>
<circle cx="971.40" cy="136.40" r="1.15" fill="#000"/>
<circle cx="974.95" cy="125.68" r="1.15" fill="#000"/>
<circle cx="978.50" cy="116.02" r="1.15" fill="#000"/>
<circle cx="982.05" cy="106.60" r="1.15" fill="#000"/>
<circle cx="985.60" cy="97.07" r="1.15" fill="#000"/>
<circle cx="989.15" cy="87.83" r="1.15" fill="#000"/>
<circle cx="992.70" cy="79.98" r="1.15" fill="#000"/>
<circle cx="996.25" cy="75.18" r="1.15" fill="#000"/>
<circle cx="999.80" cy="72.05" r="1.15" fill="#000"/>
<circle cx="1003.35" cy="69.82" r="1.15" fill="#000"/>
<circle cx="1006.90" cy="68.88" r="1.15" fill="#000"/>
<circle cx="1010.45" cy="66.43" r="1.15" fill="#000"/>
<circle cx="1014.00" cy="62.55" r="1.15" fill="#000"/>
<circle cx="1017.55" cy="60.88" r="1.15" fill="#000"/>
<circle cx="1021.10" cy="59.40" r="1.15" fill="#000"/>
<circle cx="1024.65" cy="57.98" r="1.15" fill="#000"/>
<circle cx="1028.20" cy="56.50" r="1.15" fill="#000"/>
<circle cx="1031.75" cy="56.64" r="1.15" fill="#000"/>
<circle cx="1035.30" cy="60.22" r="1.15" fill="#000"/>
<circle cx="1038.85" cy="67.66" r="1.15" fill="#000"/>
<circle cx="1042.40" cy="85.39" r="1.15" fill="#000"/>
<circle cx="1045.95" cy="98.25" r="1.15" fill="#000"/>
<circle cx="1049.50" cy="108.11" r="1.15" fill="#000"/>
<circle cx="1053.05" cy="117.13" r="1.15" fill="#000"/>
<circle cx="1056.60" cy="120.43" r="1.15" fill="#000"/>
<circle cx="1060.15" cy="121.93" r="1.15" fill="#000"/>
<circle cx="1063.70" cy="123.36" r="1.15" fill="#000"/>
<circle cx="1067.25" cy="127.67" r="1.15" fill="#000"/>
<circle cx="1070.80" cy="134.06" r="1.15" fill="#000"/>
<circle cx="1074.35" cy="147.70" r="1.15" fill="#000"/>
<circle cx="1077.90" cy="164.00" r="1.15" fill="#000"/>
<circle cx="1081.45" cy="178.46" r="1.15" fill="#000"/>
<circle cx="1085.00" cy="184.71" r="1.15" fill="#000"/>
<circle cx="1088.55" cy="185.15" r="1.15" fill="#000"/>
<circle cx="1092.10" cy="187.70" r="1.15" fill="#000"/>
<path d="M1023.20 29.50H1028.80M1026.00 26.70V32.30" stroke="#222" stroke-width="0.8" fill="none"/>
<path d="M1024.32 27.82L1027.68 31.18M1024.32 31.18L1027.68 27.82" stroke="#444" stroke-width="0.6" fill="none"/>
<circle cx="1026.00" cy="29.50" r="1.32" fill="#000"/>
<path d="M1025.70 27.20H1031.30M1028.50 24.40V30.00" stroke="#222" stroke-width="0.8" fill="none"/>
<path d="M1026.82 25.52L1030.18 28.88M1026.82 28.88L1030.18 25.52" stroke="#444" stroke-width="0.6" fill="none"/>
<circle cx="1028.50" cy="27.20" r="1.32" fill="#000"/>
<path d="M1028.10 27.20H1033.70M1030.90 24.40V30.00" stroke="#222" stroke-width="0.8" fill="none"/>
<path d="M1029.22 25.52L1032.58 28.88M1029.22 28.88L1032.58 25.52" stroke="#444" stroke-width="0.6" fill="none"/>
<circle cx="1030.90" cy="27.20" r="1.32" fill="#000"/>
<path d="M1030.50 30.80H1036.10M1033.30 28.00V33.60" stroke="#222" stroke-width="0.8" fill="none"/>
<path d="M1031.62 29.12L1034.98 32.48M1031.62 32.48L1034.98 29.12" stroke="#444" stroke-width="0.6" fill="none"/>
<circle cx="1033.30" cy="30.80" r="1.32" fill="#000"/>
<path d="M1020.50 38.60H1026.10M1023.30 35.80V41.40" stroke="#222" stroke-width="0.8" fill="none"/>
<path d="M1021.62 36.92L1024.98 40.28M1021.62 40.28L1024.98 36.92" stroke="#444" stroke-width="0.6" fill="none"/>
<circle cx="1023.30" cy="38.60" r="1.32" fill="#000"/>
<path d="M1033.00 41.40H1038.60M1035.80 38.60V44.20" stroke="#222" stroke-width="0.8" fill="none"/>
<path d="M1034.12 39.72L1037.48 43.08M1034.12 43.08L1037.48 39.72" stroke="#444" stroke-width="0.6" fill="none"/>
<circle cx="1035.80" cy="41.40" r="1.32" fill="#000"/>
<path d="M1035.40 51.90H1041.00M1038.20 49.10V54.70" stroke="#222" stroke-width="0.8" fill="none"/>
<path d="M1036.52 50.22L1039.88 53.58M1036.52 53.58L1039.88 50.22" stroke="#444" stroke-width="0.6" fill="none"/>
<circle cx="1038.20" cy="51.90" r="1.32" fill="#000"/>
<path d="M1038.50 64.10H1044.10M1041.30 61.30V66.90" stroke="#222" stroke-width="0.8" fill="none"/>
<path d="M1039.62 62.42L1042.98 65.78M1039.62 65.78L1042.98 62.42" stroke="#444" stroke-width="0.6" fill="none"/>
<circle cx="1041.30" cy="64.10" r="1.32" fill="#000"/>
<path d="M1040.30 85.00H1045.90M1043.10 82.20V87.80" stroke="#222" stroke-width="0.8" fill="none"/>
<path d="M1041.42 83.32L1044.78 86.68M1041.42 86.68L1044.78 83.32" stroke="#444" stroke-width="0.6" fill="none"/>
<circle cx="1043.10" cy="85.00" r="1.32" fill="#000"/>
<path d="M1042.70 111.40H1048.30M1045.50 108.60V114.20" stroke="#222" stroke-width="0.8" fill="none"/>
<path d="M1043.82 109.72L1047.18 113.08M1043.82 113.08L1047.18 109.72" stroke="#444" stroke-width="0.6" fill="none"/>
<circle cx="1045.50" cy="111.40" r="1.32" fill="#000"/>
<path d="M1045.30 125.40H1050.90M1048.10 122.60V128.20" stroke="#222" stroke-width="0.8" fill="none"/>
<path d="M1046.42 123.72L1049.78 127.08M1046.42 127.08L1049.78 123.72" stroke="#444" stroke-width="0.6" fill="none"/>
<circle cx="1048.10" cy="125.40" r="1.32" fill="#000"/>
<path d="M1047.50 137.20H1053.10M1050.30 134.40V140.00" stroke="#222" stroke-width="0.8" fill="none"/>
<path d="M1048.62 135.52L1051.98 138.88M1048.62 138.88L1051.98 135.52" stroke="#444" stroke-width="0.6" fill="none"/>
<circle cx="1050.30" cy="137.20" r="1.32" fill="#000"/>
<path d="M1050.40 144.60H1056.00M1053.20 141.80V147.40" stroke="#222" stroke-width="0.8" fill="none"/>
<path d="M1051.52 142.92L1054.88 146.28M1051.52 146.28L1054.88 142.92" stroke="#444" stroke-width="0.6" fill="none"/>
<circle cx="1053.20" cy="144.60" r="1.32" fill="#000"/>
<path d="M1052.60 147.50H1058.20M1055.40 144.70V150.30" stroke="#222" stroke-width="0.8" fill="none"/>
<path d="M1053.72 145.82L1057.08 149.18M1053.72 149.18L1057.08 145.82" stroke="#444" stroke-width="0.6" fill="none"/>
<circle cx="1055.40" cy="147.50" r="1.32" fill="#000"/>
<path d="M1055.60 149.00H1061.20M1058.40 146.20V151.80" stroke="#222" stroke-width="0.8" fill="none"/>
<path d="M1056.72 147.32L1060.08 150.68M1056.72 150.68L1060.08 147.32" stroke="#444" stroke-width="0.6" fill="none"/>
<circle cx="1058.40" cy="149.00" r="1.32" fill="#000"/>
<path d="M1058.50 150.00H1064.10M1061.30 147.20V152.80" stroke="#222" stroke-width="0.8" fill="none"/>
<path d="M1059.62 148.32L1062.98 151.68M1059.62 151.68L1062.98 148.32" stroke="#444" stroke-width="0.6" fill="none"/>
<circle cx="1061.30" cy="150.00" r="1.32" fill="#000"/>
<path d="M1060.70 152.60H1066.30M1063.50 149.80V155.40" stroke="#222" stroke-width="0.8" fill="none"/>
<path d="M1061.82 150.92L1065.18 154.28M1061.82 154.28L1065.18 150.92" stroke="#444" stroke-width="0.6" fill="none"/>
<circle cx="1063.50" cy="152.60" r="1.32" fill="#000"/>
<path d="M1062.90 154.10H1068.50M1065.70 151.30V156.90" stroke="#222" stroke-width="0.8" fill="none"/>
<path d="M1064.02 152.42L1067.38 155.78M1064.02 155.78L1067.38 152.42" stroke="#444" stroke-width="0.6" fill="none"/>
<circle cx="1065.70" cy="154.10" r="1.32" fill="#000"/>
<path d="M1065.10 159.30H1070.70M1067.90 156.50V162.10" stroke="#222" stroke-width="0.8" fill="none"/>
<path d="M1066.22 157.62L1069.58 160.98M1066.22 160.98L1069.58 157.62" stroke="#444" stroke-width="0.6" fill="none"/>
<circle cx="1067.90" cy="159.30" r="1.32" fill="#000"/>
<path d="M1067.30 165.10H1072.90M1070.10 162.30V167.90" stroke="#222" stroke-width="0.8" fill="none"/>
<path d="M1068.42 163.42L1071.78 166.78M1068.42 166.78L1071.78 163.42" stroke="#444" stroke-width="0.6" fill="none"/>
<circle cx="1070.10" cy="165.10" r="1.32" fill="#000"/>
<path d="M1069.60 171.80H1075.20M1072.40 169.00V174.60" stroke="#222" stroke-width="0.8" fill="none"/>
<path d="M1070.72 170.12L1074.08 173.48M1070.72 173.48L1074.08 170.12" stroke="#444" stroke-width="0.6" fill="none"/>
<circle cx="1072.40" cy="171.80" r="1.32" fill="#000"/>
<path d="M1071.80 179.10H1077.40M1074.60 176.30V181.90" stroke="#222" stroke-width="0.8" fill="none"/>
<path d="M1072.92 177.42L1076.28 180.78M1072.92 180.78L1076.28 177.42" stroke="#444" stroke-width="0.6" fill="none"/>
<circle cx="1074.60" cy="179.10" r="1.32" fill="#000"/>
<path d="M1074.70 185.70H1080.30M1077.50 182.90V188.50" stroke="#222" stroke-width="0.8" fill="none"/>
<path d="M1075.82 184.02L1079.18 187.38M1075.82 187.38L1079.18 184.02" stroke="#444" stroke-width="0.6" fill="none"/>
<circle cx="1077.50" cy="185.70" r="1.32" fill="#000"/>
<path d="M1077.60 188.70H1083.20M1080.40 185.90V191.50" stroke="#222" stroke-width="0.8" fill="none"/>
<path d="M1078.72 187.02L1082.08 190.38M1078.72 190.38L1082.08 187.02" stroke="#444" stroke-width="0.6" fill="none"/>
<circle cx="1080.40" cy="188.70" r="1.32" fill="#000"/>
<path d="M1079.80 190.00H1085.40M1082.60 187.20V192.80" stroke="#222" stroke-width="0.8" fill="none"/>
<path d="M1080.92 188.32L1084.28 191.68M1080.92 191.68L1084.28 188.32" stroke="#444" stroke-width="0.6" fill="none"/>
<circle cx="1082.60" cy="190.00" r="1.32" fill="#000"/>
<path d="M1082.20 190.00H1087.80M1085.00 187.20V192.80" stroke="#222" stroke-width="0.8" fill="none"/>
<path d="M1083.32 188.32L1086.68 191.68M1083.32 191.68L1086.68 188.32" stroke="#444" stroke-width="0.6" fill="none"/>
<circle cx="1085.00" cy="190.00" r="1.32" fill="#000"/>
<path d="M1084.70 190.00H1090.30M1087.50 187.20V192.80" stroke="#222" stroke-width="0.8" fill="none"/>
<path d="M1085.82 188.32L1089.18 191.68M1085.82 191.68L1089.18 188.32" stroke="#444" stroke-width="0.6" fill="none"/>
<circle cx="1087.50" cy="190.00" r="1.32" fill="#000"/>
<path d="M1087.20 190.00H1092.80M1090.00 187.20V192.80" stroke="#222" stroke-width="0.8" fill="none"/>
<path d="M1088.32 188.32L1091.68 191.68M1088.32 191.68L1091.68 188.32" stroke="#444" stroke-width="0.6" fill="none"/>
<circle cx="1090.00" cy="190.00" r="1.32" fill="#000"/>
<path d="M1089.20 190.00H1094.80M1092.00 187.20V192.80" stroke="#222" stroke-width="0.8" fill="none"/>
<path d="M1090.32 188.32L1093.68 191.68M1090.32 191.68L1093.68 188.32" stroke="#444" stroke-width="0.6" fill="none"/>
<circle cx="1092.00" cy="190.00" r="1.32" fill="#000"/>
<path d="M1084.30 185.80H1089.90M1087.10 183.00V188.60" stroke="#222" stroke-width="0.8" fill="none"/>
<path d="M1085.42 184.12L1088.78 187.48M1085.42 187.48L1088.78 184.12" stroke="#444" stroke-width="0.6" fill="none"/>
<circle cx="1087.10" cy="185.80" r="1.32" fill="#000"/>
<path d="M1087.20 186.00H1092.80M1090.00 183.20V188.80" stroke="#222" stroke-width="0.8" fill="none"/>
<path d="M1088.32 184.32L1091.68 187.68M1088.32 187.68L1091.68 184.32" stroke="#444" stroke-width="0.6" fill="none"/>
<circle cx="1090.00" cy="186.00" r="1.32" fill="#000"/>
<polyline points="160.00,459.40 160.21,459.34 160.41,459.28 160.69,459.19 161.15,459.07 161.89,458.88 163.00,458.60 164.65,458.23 166.79,457.77 169.20,457.24 171.68,456.68 174.02,456.09 176.00,455.50 177.60,454.94 178.99,454.40 180.22,453.84 181.39,453.22 182.56,452.48 183.80,451.60 185.12,450.57 186.45,449.43 187.78,448.19 189.10,446.83 190.38,445.37 191.60,443.80 192.77,442.12 193.91,440.33 195.02,438.44 196.09,436.43 197.11,434.32 198.10,432.10 199.04,429.70 199.95,427.09 200.81,424.38 201.64,421.65 202.44,418.99 203.20,416.50 203.92,414.21 204.59,412.07 205.22,410.00 205.84,407.93 206.46,405.79 207.10,403.50 207.75,400.99 208.40,398.30 209.05,395.54 209.70,392.81 210.35,390.23 211.00,387.90 211.65,385.84 212.30,383.95 212.95,382.21 213.60,380.58 214.25,379.02 214.90,377.50 215.55,376.01 216.20,374.59 216.85,373.24 217.50,371.97 218.15,370.78 218.80,369.70 219.43,368.72 220.05,367.83 220.67,367.03 221.30,366.31 221.97,365.67 222.70,365.10 223.49,364.60 224.34,364.17 225.22,363.81 226.12,363.53 227.02,363.33 227.90,363.20 228.75,363.17 229.59,363.23 230.42,363.37 231.27,363.56 232.16,363.78 233.10,364.00 234.11,364.25 235.17,364.56 236.27,364.90 237.39,365.24 238.50,365.55 239.60,365.80 240.68,366.02 241.77,366.25 242.85,366.44 243.93,366.59 245.02,366.65 246.10,366.60 247.20,366.45 248.31,366.23 249.43,365.92 250.53,365.53 251.59,365.06 252.60,364.50 253.57,363.82 254.50,363.01 255.41,362.12 256.26,361.20 257.06,360.27 257.80,359.40 258.45,358.67 259.01,358.06 259.52,357.46 260.00,356.75 260.48,355.80 261.00,354.50 261.53,352.72 262.04,350.54 262.56,348.13 263.09,345.66 263.67,343.29 264.30,341.20 265.01,339.38 265.79,337.69 266.61,336.11 267.44,334.61 268.25,333.18 269.00,331.80 269.71,330.44 270.42,329.13 271.10,327.88 271.75,326.73 272.35,325.69 272.90,324.80 273.37,324.04 273.78,323.38 274.14,322.84 274.49,322.44 274.83,322.19 275.20,322.10 275.59,322.17 275.97,322.38 276.35,322.74 276.74,323.26 277.16,323.95 277.60,324.80 278.09,325.88 278.61,327.20 279.16,328.69 279.70,330.26 280.22,331.86 280.70,333.40 281.14,334.89 281.55,336.39 281.94,337.91 282.31,339.46 282.67,341.05 283.00,342.70 283.31,344.39 283.59,346.10 283.84,347.86 284.09,349.68 284.34,351.59 284.60,353.60 284.87,355.75 285.14,358.03 285.41,360.40 285.67,362.81 285.94,365.23 286.20,367.60 286.45,369.96 286.70,372.35 286.95,374.74 287.20,377.11 287.45,379.44 287.70,381.70 287.96,383.87 288.21,385.97 288.46,388.03 288.73,390.07 289.00,392.12 289.30,394.20 289.62,396.37 289.96,398.60 290.32,400.85 290.68,403.04 291.04,405.11 291.40,407.00 291.73,408.72 292.05,410.31 292.36,411.79 292.70,413.14 293.07,414.38 293.50,415.50 293.98,416.47 294.48,417.29 295.02,417.99 295.62,418.61 296.27,419.17 297.00,419.70 297.84,420.18 298.79,420.59 299.80,420.93 300.82,421.25 301.81,421.56 302.70,421.90 303.52,422.23 304.29,422.53 305.03,422.82 305.73,423.14 306.39,423.52 307.00,424.00 307.56,424.56 308.07,425.17 308.54,425.84 308.97,426.58 309.39,427.40 309.80,428.30 310.18,429.31 310.52,430.41 310.84,431.59 311.17,432.83 311.51,434.10 311.90,435.40 312.34,436.74 312.81,438.13 313.31,439.56 313.81,441.01 314.31,442.47 314.80,443.90 315.27,445.37 315.74,446.89 316.21,448.42 316.67,449.89 317.13,451.23 317.60,452.40 318.04,453.37 318.45,454.19 318.86,454.89 319.30,455.51 319.81,456.07 320.40,456.60 320.94,457.10 321.36,457.54 321.85,457.93 322.57,458.27 323.70,458.55 325.40,458.80 328.05,458.99 331.58,459.11 335.51,459.19 339.38,459.23 342.70,459.27 345.00,459.30" fill="none" stroke="#383838" stroke-width="1.0" stroke-linejoin="round" stroke-linecap="round"/>
<polyline points="300.00,421.00 300.56,421.25 301.35,421.59 302.28,422.00 303.26,422.46 304.20,422.97 305.00,423.50 305.68,424.06 306.30,424.65 306.88,425.28 307.43,425.96 307.96,426.70 308.50,427.50 309.03,428.37 309.56,429.31 310.06,430.31 310.56,431.35 311.03,432.42 311.50,433.50 311.95,434.60 312.37,435.74 312.78,436.91 313.19,438.09 313.59,439.29 314.00,440.50 314.42,441.73 314.83,443.00 315.25,444.28 315.67,445.56 316.08,446.80 316.50,448.00 316.91,449.18 317.31,450.35 317.72,451.50 318.13,452.59 318.55,453.60 319.00,454.50 319.46,455.28 319.93,455.97 320.41,456.58 320.91,457.11 321.44,457.58 322.00,458.00 322.66,458.35 323.41,458.61 324.19,458.82 324.93,458.97 325.55,459.10 326.00,459.20" fill="none" stroke="#383838" stroke-width="1.0" stroke-linejoin="round" stroke-linecap="round"/>
<polyline points="209.20,393.10 209.53,391.87 209.97,390.14 210.51,388.11 211.09,385.97 211.70,383.93 212.30,382.20 212.91,380.77 213.56,379.47 214.23,378.27 214.91,377.14 215.57,376.03 216.20,374.90 216.79,373.76 217.36,372.63 217.92,371.52 218.47,370.44 219.03,369.40 219.60,368.40 220.19,367.43 220.79,366.47 221.40,365.56 222.01,364.69 222.61,363.90 223.20,363.20 223.78,362.62 224.35,362.17 224.91,361.78 225.47,361.42 226.04,361.04 226.60,360.60 227.17,360.03 227.74,359.35 228.32,358.66 228.89,358.03 229.45,357.55 230.00,357.30 230.52,357.37 231.03,357.70 231.52,358.18 232.02,358.70 232.54,359.14 233.10,359.40 233.71,359.49 234.36,359.50 235.03,359.44 235.71,359.30 236.37,359.09 237.00,358.80 237.59,358.38 238.16,357.81 238.72,357.16 239.27,356.51 239.83,355.94 240.40,355.50 240.99,355.21 241.59,355.02 242.20,354.89 242.81,354.81 243.41,354.76 244.00,354.70 244.58,354.65 245.15,354.64 245.71,354.65 246.27,354.67 246.84,354.69 247.40,354.70 247.97,354.77 248.54,354.91 249.12,355.06 249.69,355.12 250.25,355.03 250.80,354.70 251.32,354.05 251.83,353.13 252.32,352.05 252.82,350.93 253.34,349.87 253.90,349.00 254.51,348.31 255.17,347.71 255.84,347.19 256.52,346.71 257.18,346.25 257.80,345.80 258.38,345.39 258.94,345.06 259.48,344.74 260.00,344.41 260.51,344.01 261.00,343.50 261.45,342.88 261.86,342.20 262.26,341.44 262.66,340.63 263.10,339.74 263.60,338.80 264.18,337.74 264.83,336.55 265.52,335.30 266.21,334.05 266.88,332.86 267.50,331.80 268.06,330.87 268.59,330.03 269.10,329.26 269.60,328.52 270.09,327.81 270.60,327.10 271.13,326.38 271.66,325.65 272.20,324.95 272.73,324.29 273.23,323.70 273.70,323.20 274.12,322.73 274.50,322.27 274.85,321.87 275.20,321.60 275.58,321.52 276.00,321.70 276.47,322.16 276.97,322.87 277.49,323.77 278.03,324.81 278.57,325.93 279.10,327.10 279.64,328.35 280.19,329.73 280.75,331.20 281.30,332.71 281.82,334.23 282.30,335.70 282.74,337.14 283.16,338.60 283.55,340.05 283.92,341.49 284.27,342.91 284.60,344.30 284.91,345.66 285.19,346.99 285.45,348.30 285.70,349.59 285.95,350.86 286.20,352.10 286.45,353.28 286.70,354.38 286.95,355.46 287.20,356.57 287.45,357.76 287.70,359.10 287.95,360.61 288.20,362.27 288.45,364.01 288.71,365.78 288.99,367.53 289.30,369.20 289.64,370.81 290.00,372.41 290.39,373.99 290.79,375.53 291.19,377.04 291.60,378.50 292.01,379.95 292.41,381.40 292.83,382.81 293.26,384.14 293.71,385.35 294.20,386.40 294.73,387.27 295.30,388.00 295.89,388.60 296.49,389.10 297.10,389.53 297.70,389.90 298.30,390.15 298.90,390.23 299.50,390.24 300.10,390.26 300.70,390.35 301.30,390.60 301.89,390.98 302.47,391.43 303.05,391.96 303.63,392.58 304.21,393.32 304.80,394.20 305.40,395.26 306.00,396.49 306.60,397.84 307.20,399.24 307.80,400.65 308.40,402.00 309.00,403.20 309.60,404.29 310.19,405.37 310.78,406.57 311.35,408.01 311.90,409.80 312.41,412.01 312.89,414.55 313.35,417.33 313.81,420.24 314.29,423.20 314.80,426.10 315.36,429.08 315.94,432.24 316.55,435.44 317.16,438.55 317.74,441.41 318.30,443.90 318.80,446.03 319.26,447.92 319.71,449.57 320.16,450.98 320.65,452.16 321.20,453.10 321.83,453.68 322.53,453.89 323.26,453.85 324.00,453.73 324.72,453.66 325.40,453.80 326.07,454.15 326.75,454.60 327.42,455.11 328.04,455.63 328.57,456.14 329.00,456.60 329.29,457.03 329.47,457.46 329.57,457.88 329.63,458.25 329.66,458.57 329.70,458.80" fill="none" stroke="#444" stroke-width="0.75" stroke-linejoin="round" stroke-linecap="round"/>
<circle cx="209.20" cy="393.10" r="1.15" fill="#000"/>
<circle cx="212.75" cy="381.14" r="1.15" fill="#000"/>
<circle cx="216.30" cy="374.71" r="1.15" fill="#000"/>
<circle cx="219.85" cy="367.99" r="1.15" fill="#000"/>
<circle cx="223.40" cy="363.00" r="1.15" fill="#000"/>
<circle cx="226.95" cy="360.25" r="1.15" fill="#000"/>
<circle cx="230.50" cy="357.37" r="1.15" fill="#000"/>
<circle cx="234.05" cy="359.49" r="1.15" fill="#000"/>
<circle cx="237.60" cy="358.37" r="1.15" fill="#000"/>
<circle cx="241.15" cy="355.16" r="1.15" fill="#000"/>
<circle cx="244.70" cy="354.65" r="1.15" fill="#000"/>
<circle cx="248.25" cy="354.84" r="1.15" fill="#000"/>
<circle cx="251.80" cy="353.18" r="1.15" fill="#000"/>
<circle cx="255.35" cy="347.57" r="1.15" fill="#000"/>
<circle cx="258.90" cy="345.08" r="1.15" fill="#000"/>
<circle cx="262.45" cy="341.05" r="1.15" fill="#000"/>
<circle cx="266.00" cy="334.43" r="1.15" fill="#000"/>
<circle cx="269.55" cy="328.59" r="1.15" fill="#000"/>
<circle cx="273.10" cy="323.85" r="1.15" fill="#000"/>
<circle cx="276.65" cy="322.42" r="1.15" fill="#000"/>
<circle cx="280.20" cy="329.75" r="1.15" fill="#000"/>
<circle cx="283.75" cy="340.83" r="1.15" fill="#000"/>
<circle cx="287.30" cy="357.06" r="1.15" fill="#000"/>
<circle cx="290.85" cy="375.77" r="1.15" fill="#000"/>
<circle cx="294.40" cy="386.73" r="1.15" fill="#000"/>
<circle cx="297.95" cy="390.00" r="1.15" fill="#000"/>
<circle cx="301.50" cy="390.73" r="1.15" fill="#000"/>
<circle cx="305.05" cy="394.64" r="1.15" fill="#000"/>
<circle cx="308.60" cy="402.40" r="1.15" fill="#000"/>
<circle cx="312.15" cy="410.88" r="1.15" fill="#000"/>
<circle cx="315.70" cy="430.93" r="1.15" fill="#000"/>
<circle cx="319.25" cy="447.87" r="1.15" fill="#000"/>
<circle cx="322.80" cy="453.87" r="1.15" fill="#000"/>
<circle cx="326.35" cy="454.34" r="1.15" fill="#000"/>
<path d="M258.40 351.60H264.00M261.20 348.80V354.40" stroke="#222" stroke-width="0.8" fill="none"/>
<path d="M259.52 349.92L262.88 353.28M259.52 353.28L262.88 349.92" stroke="#444" stroke-width="0.6" fill="none"/>
<circle cx="261.20" cy="351.60" r="1.32" fill="#000"/>
<path d="M258.40 353.60H264.00M261.20 350.80V356.40" stroke="#222" stroke-width="0.8" fill="none"/>
<path d="M259.52 351.92L262.88 355.28M259.52 355.28L262.88 351.92" stroke="#444" stroke-width="0.6" fill="none"/>
<circle cx="261.20" cy="353.60" r="1.32" fill="#000"/>
<path d="M260.80 350.80H266.40M263.60 348.00V353.60" stroke="#222" stroke-width="0.8" fill="none"/>
<path d="M261.92 349.12L265.28 352.48M261.92 352.48L265.28 349.12" stroke="#444" stroke-width="0.6" fill="none"/>
<circle cx="263.60" cy="350.80" r="1.32" fill="#000"/>
<path d="M262.30 339.90H267.90M265.10 337.10V342.70" stroke="#222" stroke-width="0.8" fill="none"/>
<path d="M263.42 338.22L266.78 341.58M263.42 341.58L266.78 338.22" stroke="#444" stroke-width="0.6" fill="none"/>
<circle cx="265.10" cy="339.90" r="1.32" fill="#000"/>
<path d="M264.70 334.90H270.30M267.50 332.10V337.70" stroke="#222" stroke-width="0.8" fill="none"/>
<path d="M265.82 333.22L269.18 336.58M265.82 336.58L269.18 333.22" stroke="#444" stroke-width="0.6" fill="none"/>
<circle cx="267.50" cy="334.90" r="1.32" fill="#000"/>
<path d="M267.80 333.40H273.40M270.60 330.60V336.20" stroke="#222" stroke-width="0.8" fill="none"/>
<path d="M268.92 331.72L272.28 335.08M268.92 335.08L272.28 331.72" stroke="#444" stroke-width="0.6" fill="none"/>
<circle cx="270.60" cy="333.40" r="1.32" fill="#000"/>
<path d="M269.30 328.70H274.90M272.10 325.90V331.50" stroke="#222" stroke-width="0.8" fill="none"/>
<path d="M270.42 327.02L273.78 330.38M270.42 330.38L273.78 327.02" stroke="#444" stroke-width="0.6" fill="none"/>
<circle cx="272.10" cy="328.70" r="1.32" fill="#000"/>
<path d="M272.40 321.70H278.00M275.20 318.90V324.50" stroke="#222" stroke-width="0.8" fill="none"/>
<path d="M273.52 320.02L276.88 323.38M273.52 323.38L276.88 320.02" stroke="#444" stroke-width="0.6" fill="none"/>
<circle cx="275.20" cy="321.70" r="1.32" fill="#000"/>
<path d="M275.30 325.60H280.90M278.10 322.80V328.40" stroke="#222" stroke-width="0.8" fill="none"/>
<path d="M276.42 323.92L279.78 327.28M276.42 327.28L279.78 323.92" stroke="#444" stroke-width="0.6" fill="none"/>
<circle cx="278.10" cy="325.60" r="1.32" fill="#000"/>
<path d="M277.90 333.40H283.50M280.70 330.60V336.20" stroke="#222" stroke-width="0.8" fill="none"/>
<path d="M279.02 331.72L282.38 335.08M279.02 335.08L282.38 331.72" stroke="#444" stroke-width="0.6" fill="none"/>
<circle cx="280.70" cy="333.40" r="1.32" fill="#000"/>
<path d="M280.20 350.80H285.80M283.00 348.00V353.60" stroke="#222" stroke-width="0.8" fill="none"/>
<path d="M281.32 349.12L284.68 352.48M281.32 352.48L284.68 349.12" stroke="#444" stroke-width="0.6" fill="none"/>
<circle cx="283.00" cy="350.80" r="1.32" fill="#000"/>
<path d="M283.00 371.50H288.60M285.80 368.70V374.30" stroke="#222" stroke-width="0.8" fill="none"/>
<path d="M284.12 369.82L287.48 373.18M284.12 373.18L287.48 369.82" stroke="#444" stroke-width="0.6" fill="none"/>
<circle cx="285.80" cy="371.50" r="1.32" fill="#000"/>
<path d="M285.70 392.60H291.30M288.50 389.80V395.40" stroke="#222" stroke-width="0.8" fill="none"/>
<path d="M286.82 390.92L290.18 394.28M286.82 394.28L290.18 390.92" stroke="#444" stroke-width="0.6" fill="none"/>
<circle cx="288.50" cy="392.60" r="1.32" fill="#000"/>
<path d="M287.80 406.70H293.40M290.60 403.90V409.50" stroke="#222" stroke-width="0.8" fill="none"/>
<path d="M288.92 405.02L292.28 408.38M288.92 408.38L292.28 405.02" stroke="#444" stroke-width="0.6" fill="none"/>
<circle cx="290.60" cy="406.70" r="1.32" fill="#000"/>
<path d="M290.70 414.80H296.30M293.50 412.00V417.60" stroke="#222" stroke-width="0.8" fill="none"/>
<path d="M291.82 413.12L295.18 416.48M291.82 416.48L295.18 413.12" stroke="#444" stroke-width="0.6" fill="none"/>
<circle cx="293.50" cy="414.80" r="1.32" fill="#000"/>
<path d="M293.50 419.70H299.10M296.30 416.90V422.50" stroke="#222" stroke-width="0.8" fill="none"/>
<path d="M294.62 418.02L297.98 421.38M294.62 421.38L297.98 418.02" stroke="#444" stroke-width="0.6" fill="none"/>
<circle cx="296.30" cy="419.70" r="1.32" fill="#000"/>
<path d="M296.40 421.60H302.00M299.20 418.80V424.40" stroke="#222" stroke-width="0.8" fill="none"/>
<path d="M297.52 419.92L300.88 423.28M297.52 423.28L300.88 419.92" stroke="#444" stroke-width="0.6" fill="none"/>
<circle cx="299.20" cy="421.60" r="1.32" fill="#000"/>
<path d="M299.20 423.30H304.80M302.00 420.50V426.10" stroke="#222" stroke-width="0.8" fill="none"/>
<path d="M300.32 421.62L303.68 424.98M300.32 424.98L303.68 421.62" stroke="#444" stroke-width="0.6" fill="none"/>
<circle cx="302.00" cy="423.30" r="1.32" fill="#000"/>
<path d="M301.30 425.40H306.90M304.10 422.60V428.20" stroke="#222" stroke-width="0.8" fill="none"/>
<path d="M302.42 423.72L305.78 427.08M302.42 427.08L305.78 423.72" stroke="#444" stroke-width="0.6" fill="none"/>
<circle cx="304.10" cy="425.40" r="1.32" fill="#000"/>
<path d="M303.50 428.30H309.10M306.30 425.50V431.10" stroke="#222" stroke-width="0.8" fill="none"/>
<path d="M304.62 426.62L307.98 429.98M304.62 429.98L307.98 426.62" stroke="#444" stroke-width="0.6" fill="none"/>
<circle cx="306.30" cy="428.30" r="1.32" fill="#000"/>
<path d="M305.60 432.50H311.20M308.40 429.70V435.30" stroke="#222" stroke-width="0.8" fill="none"/>
<path d="M306.72 430.82L310.08 434.18M306.72 434.18L310.08 430.82" stroke="#444" stroke-width="0.6" fill="none"/>
<circle cx="308.40" cy="432.50" r="1.32" fill="#000"/>
<path d="M307.70 440.30H313.30M310.50 437.50V443.10" stroke="#222" stroke-width="0.8" fill="none"/>
<path d="M308.82 438.62L312.18 441.98M308.82 441.98L312.18 438.62" stroke="#444" stroke-width="0.6" fill="none"/>
<circle cx="310.50" cy="440.30" r="1.32" fill="#000"/>
<path d="M310.60 446.70H316.20M313.40 443.90V449.50" stroke="#222" stroke-width="0.8" fill="none"/>
<path d="M311.72 445.02L315.08 448.38M311.72 448.38L315.08 445.02" stroke="#444" stroke-width="0.6" fill="none"/>
<circle cx="313.40" cy="446.70" r="1.32" fill="#000"/>
<path d="M312.70 453.80H318.30M315.50 451.00V456.60" stroke="#222" stroke-width="0.8" fill="none"/>
<path d="M313.82 452.12L317.18 455.48M313.82 455.48L317.18 452.12" stroke="#444" stroke-width="0.6" fill="none"/>
<circle cx="315.50" cy="453.80" r="1.32" fill="#000"/>
<path d="M315.50 458.10H321.10M318.30 455.30V460.90" stroke="#222" stroke-width="0.8" fill="none"/>
<path d="M316.62 456.42L319.98 459.78M316.62 459.78L319.98 456.42" stroke="#444" stroke-width="0.6" fill="none"/>
<circle cx="318.30" cy="458.10" r="1.32" fill="#000"/>
<path d="M318.40 458.80H324.00M321.20 456.00V461.60" stroke="#222" stroke-width="0.8" fill="none"/>
<path d="M319.52 457.12L322.88 460.48M319.52 460.48L322.88 457.12" stroke="#444" stroke-width="0.6" fill="none"/>
<circle cx="321.20" cy="458.80" r="1.32" fill="#000"/>
<path d="M321.00 458.80H326.60M323.80 456.00V461.60" stroke="#222" stroke-width="0.8" fill="none"/>
<path d="M322.12 457.12L325.48 460.48M322.12 460.48L325.48 457.12" stroke="#444" stroke-width="0.6" fill="none"/>
<circle cx="323.80" cy="458.80" r="1.32" fill="#000"/>
<path d="M323.60 458.80H329.20M326.40 456.00V461.60" stroke="#222" stroke-width="0.8" fill="none"/>
<path d="M324.72 457.12L328.08 460.48M324.72 460.48L328.08 457.12" stroke="#444" stroke-width="0.6" fill="none"/>
<circle cx="326.40" cy="458.80" r="1.32" fill="#000"/>
<path d="M326.20 458.80H331.80M329.00 456.00V461.60" stroke="#222" stroke-width="0.8" fill="none"/>
<path d="M327.32 457.12L330.68 460.48M327.32 460.48L330.68 457.12" stroke="#444" stroke-width="0.6" fill="none"/>
<circle cx="329.00" cy="458.80" r="1.32" fill="#000"/>
<path d="M321.20 454.50H326.80M324.00 451.70V457.30" stroke="#222" stroke-width="0.8" fill="none"/>
<path d="M322.32 452.82L325.68 456.18M322.32 456.18L325.68 452.82" stroke="#444" stroke-width="0.6" fill="none"/>
<circle cx="324.00" cy="454.50" r="1.32" fill="#000"/>
<path d="M324.00 455.20H329.60M326.80 452.40V458.00" stroke="#222" stroke-width="0.8" fill="none"/>
<path d="M325.12 453.52L328.48 456.88M325.12 456.88L328.48 453.52" stroke="#444" stroke-width="0.6" fill="none"/>
<circle cx="326.80" cy="455.20" r="1.32" fill="#000"/>
<polyline points="538.00,459.40 538.16,459.34 538.33,459.27 538.56,459.18 538.88,459.06 539.35,458.91 540.00,458.70 540.89,458.43 541.99,458.10 543.23,457.74 544.54,457.35 545.86,456.97 547.10,456.60 548.30,456.26 549.52,455.93 550.74,455.60 551.94,455.26 553.10,454.90 554.20,454.50 555.24,454.07 556.23,453.61 557.19,453.14 558.11,452.64 559.01,452.13 559.90,451.60 560.76,451.08 561.59,450.56 562.39,450.02 563.19,449.45 563.99,448.82 564.80,448.10 565.64,447.29 566.49,446.41 567.34,445.48 568.19,444.49 569.01,443.46 569.80,442.40 570.55,441.33 571.28,440.24 571.99,439.11 572.67,437.93 573.34,436.66 574.00,435.30 574.64,433.81 575.27,432.21 575.89,430.53 576.48,428.80 577.05,427.08 577.60,425.40 578.12,423.74 578.61,422.08 579.09,420.41 579.54,418.76 579.98,417.12 580.40,415.50 580.80,413.91 581.18,412.35 581.54,410.81 581.90,409.27 582.25,407.74 582.60,406.20 582.96,404.68 583.31,403.17 583.66,401.67 584.01,400.16 584.36,398.61 584.70,397.00 585.04,395.34 585.37,393.66 585.71,391.93 586.04,390.17 586.37,388.36 586.70,386.50 587.03,384.59 587.36,382.62 587.68,380.61 588.01,378.56 588.35,376.49 588.70,374.40 589.07,372.27 589.45,370.10 589.84,367.90 590.23,365.70 590.62,363.52 591.00,361.40 591.37,359.32 591.74,357.27 592.11,355.24 592.48,353.23 592.84,351.25 593.20,349.30 593.55,347.39 593.89,345.53 594.23,343.70 594.57,341.87 594.92,340.01 595.30,338.10 595.70,336.12 596.13,334.07 596.57,332.00 597.01,329.94 597.46,327.93 597.90,326.00 598.33,324.12 598.77,322.25 599.20,320.43 599.63,318.69 600.07,317.06 600.50,315.60 600.93,314.30 601.36,313.13 601.78,312.08 602.21,311.14 602.65,310.28 603.10,309.50 603.56,308.78 604.04,308.14 604.52,307.59 605.01,307.14 605.50,306.81 606.00,306.60 606.50,306.51 607.00,306.52 607.51,306.64 608.03,306.89 608.56,307.27 609.10,307.80 609.67,308.52 610.28,309.44 610.90,310.49 611.51,311.61 612.08,312.73 612.60,313.80 613.05,314.80 613.44,315.77 613.81,316.76 614.16,317.77 614.51,318.84 614.90,320.00 615.32,321.26 615.74,322.61 616.18,324.02 616.62,325.46 617.06,326.89 617.50,328.30 617.93,329.68 618.37,331.07 618.80,332.45 619.23,333.83 619.67,335.22 620.10,336.60 620.53,337.98 620.97,339.37 621.40,340.75 621.83,342.13 622.27,343.52 622.70,344.90 623.13,346.28 623.55,347.66 623.97,349.04 624.40,350.43 624.84,351.81 625.30,353.20 625.78,354.61 626.28,356.04 626.79,357.47 627.31,358.89 627.85,360.27 628.40,361.60 628.96,362.87 629.54,364.09 630.13,365.27 630.74,366.44 631.36,367.61 632.00,368.80 632.68,370.04 633.41,371.33 634.16,372.62 634.89,373.87 635.58,375.04 636.20,376.10 636.73,377.02 637.19,377.84 637.60,378.59 638.00,379.28 638.43,379.94 638.90,380.60 639.42,381.25 639.98,381.88 640.55,382.48 641.13,383.05 641.72,383.59 642.30,384.10 642.87,384.58 643.44,385.04 644.01,385.46 644.59,385.85 645.18,386.20 645.80,386.50 646.45,386.76 647.12,386.99 647.81,387.18 648.50,387.31 649.20,387.39 649.90,387.40 650.60,387.35 651.30,387.24 652.00,387.07 652.70,386.85 653.40,386.56 654.10,386.20 654.80,385.73 655.50,385.13 656.19,384.47 656.88,383.80 657.55,383.19 658.20,382.70 658.82,382.31 659.41,381.98 659.99,381.70 660.56,381.48 661.12,381.31 661.70,381.20 662.29,381.15 662.90,381.15 663.50,381.21 664.09,381.32 664.66,381.48 665.20,381.70 665.70,381.98 666.18,382.32 666.64,382.72 667.07,383.16 667.49,383.62 667.90,384.10 668.28,384.59 668.64,385.10 668.99,385.64 669.32,386.22 669.66,386.83 670.00,387.50 670.36,388.22 670.74,389.00 671.11,389.81 671.47,390.66 671.81,391.53 672.10,392.40 672.34,393.22 672.54,393.99 672.71,394.77 672.87,395.66 673.03,396.71 673.20,398.00 673.36,399.60 673.49,401.45 673.62,403.47 673.78,405.58 674.00,407.69 674.30,409.70 674.70,411.69 675.17,413.73 675.71,415.77 676.28,417.75 676.88,419.61 677.50,421.30 678.14,422.83 678.83,424.24 679.54,425.53 680.26,426.71 680.99,427.76 681.70,428.70 682.41,429.44 683.14,429.97 683.86,430.38 684.57,430.76 685.26,431.21 685.90,431.80 686.49,432.51 687.04,433.25 687.56,434.05 688.07,434.94 688.58,435.95 689.10,437.10 689.63,438.46 690.17,440.03 690.71,441.72 691.24,443.43 691.77,445.09 692.30,446.60 692.81,447.99 693.30,449.34 693.78,450.63 694.28,451.85 694.82,452.98 695.40,454.00 695.98,454.92 696.52,455.75 697.10,456.49 697.78,457.15 698.62,457.72 699.70,458.20 701.07,458.57 702.70,458.83 704.49,459.01 706.37,459.12 708.23,459.21 710.00,459.30 711.80,459.38 713.73,459.41 715.64,459.42 717.42,459.41 718.92,459.40 720.00,459.40" fill="none" stroke="#383838" stroke-width="1.0" stroke-linejoin="round" stroke-linecap="round"/>
<polyline points="587.50,366.60 587.88,365.76 588.41,364.61 589.04,363.24 589.71,361.75 590.38,360.24 591.00,358.80 591.57,357.39 592.14,355.93 592.70,354.44 593.26,352.97 593.83,351.54 594.40,350.20 594.98,348.95 595.56,347.78 596.14,346.65 596.73,345.54 597.32,344.44 597.90,343.30 598.49,342.11 599.10,340.87 599.71,339.64 600.30,338.44 600.87,337.31 601.40,336.30 601.88,335.39 602.30,334.55 602.71,333.79 603.11,333.10 603.53,332.51 604.00,332.00 604.52,331.60 605.07,331.31 605.64,331.11 606.23,330.97 606.82,330.88 607.40,330.80 607.97,330.74 608.54,330.72 609.11,330.74 609.69,330.80 610.29,330.92 610.90,331.10 611.55,331.35 612.23,331.66 612.92,332.03 613.61,332.43 614.28,332.86 614.90,333.30 615.46,333.77 615.98,334.28 616.47,334.81 616.96,335.36 617.46,335.89 618.00,336.40 618.58,336.84 619.18,337.21 619.80,337.57 620.42,337.98 621.02,338.51 621.60,339.20 622.14,340.12 622.65,341.23 623.14,342.45 623.64,343.70 624.15,344.91 624.70,346.00 625.28,346.98 625.89,347.91 626.52,348.80 627.15,349.64 627.78,350.44 628.40,351.20 629.01,351.93 629.63,352.62 630.24,353.27 630.84,353.87 631.43,354.38 632.00,354.80 632.54,355.06 633.04,355.17 633.53,355.19 634.03,355.22 634.54,355.33 635.10,355.60 635.68,356.08 636.27,356.70 636.88,357.41 637.53,358.13 638.23,358.78 639.00,359.30 639.86,359.72 640.81,360.11 641.81,360.44 642.83,360.67 643.84,360.77 644.80,360.70 645.71,360.41 646.61,359.90 647.49,359.27 648.36,358.57 649.23,357.89 650.10,357.30 650.97,356.74 651.84,356.16 652.70,355.59 653.56,355.07 654.43,354.66 655.30,354.40 656.18,354.31 657.06,354.37 657.94,354.54 658.83,354.76 659.72,354.99 660.60,355.20 661.51,355.35 662.44,355.47 663.38,355.61 664.29,355.80 665.14,356.09 665.90,356.50 666.56,357.02 667.13,357.61 667.64,358.29 668.12,359.08 668.60,360.01 669.10,361.10 669.62,362.36 670.14,363.79 670.65,365.34 671.16,367.01 671.68,368.77 672.20,370.60 672.72,372.53 673.22,374.60 673.73,376.76 674.26,378.96 674.81,381.15 675.40,383.30 676.04,385.49 676.73,387.78 677.44,390.06 678.16,392.24 678.89,394.22 679.60,395.90 680.31,397.19 681.04,398.17 681.76,398.94 682.47,399.63 683.16,400.34 683.80,401.20 684.39,402.16 684.94,403.11 685.46,404.09 685.97,405.13 686.48,406.25 687.00,407.50 687.54,408.84 688.09,410.23 688.63,411.72 689.17,413.32 689.70,415.07 690.20,417.00 690.68,419.20 691.14,421.66 691.59,424.27 692.03,426.91 692.47,429.46 692.90,431.80 693.32,433.94 693.72,435.98 694.12,437.93 694.52,439.81 694.95,441.63 695.40,443.40 695.88,445.19 696.38,447.00 696.89,448.74 697.43,450.36 698.00,451.77 698.60,452.90 699.24,453.69 699.93,454.20 700.64,454.50 701.36,454.68 702.09,454.82 702.80,455.00 703.55,455.21 704.36,455.36 705.16,455.48 705.91,455.57 706.54,455.64 707.00,455.70" fill="none" stroke="#444" stroke-width="0.75" stroke-linejoin="round" stroke-linecap="round"/>
<circle cx="587.50" cy="366.60" r="1.15" fill="#000"/>
<circle cx="591.05" cy="358.68" r="1.15" fill="#000"/>
<circle cx="594.60" cy="349.77" r="1.15" fill="#000"/>
<circle cx="598.15" cy="342.80" r="1.15" fill="#000"/>
<circle cx="601.70" cy="335.73" r="1.15" fill="#000"/>
<circle cx="605.25" cy="331.25" r="1.15" fill="#000"/>
<circle cx="608.80" cy="330.73" r="1.15" fill="#000"/>
<circle cx="612.35" cy="331.72" r="1.15" fill="#000"/>
<circle cx="615.90" cy="334.20" r="1.15" fill="#000"/>
<circle cx="619.45" cy="337.36" r="1.15" fill="#000"/>
<circle cx="623.00" cy="342.10" r="1.15" fill="#000"/>
<circle cx="626.55" cy="348.84" r="1.15" fill="#000"/>
<circle cx="630.10" cy="353.13" r="1.15" fill="#000"/>
<circle cx="633.65" cy="355.20" r="1.15" fill="#000"/>
<circle cx="637.20" cy="357.77" r="1.15" fill="#000"/>
<circle cx="640.75" cy="360.09" r="1.15" fill="#000"/>
<circle cx="644.30" cy="360.74" r="1.15" fill="#000"/>
<circle cx="647.85" cy="358.98" r="1.15" fill="#000"/>
<circle cx="651.40" cy="356.45" r="1.15" fill="#000"/>
<circle cx="654.95" cy="354.51" r="1.15" fill="#000"/>
<circle cx="658.50" cy="354.68" r="1.15" fill="#000"/>
<circle cx="662.05" cy="355.42" r="1.15" fill="#000"/>
<circle cx="665.60" cy="356.34" r="1.15" fill="#000"/>
<circle cx="669.15" cy="361.22" r="1.15" fill="#000"/>
<circle cx="672.70" cy="372.47" r="1.15" fill="#000"/>
<circle cx="676.25" cy="386.19" r="1.15" fill="#000"/>
<circle cx="679.80" cy="396.26" r="1.15" fill="#000"/>
<circle cx="683.35" cy="400.60" r="1.15" fill="#000"/>
<circle cx="686.90" cy="407.26" r="1.15" fill="#000"/>
<circle cx="690.45" cy="418.14" r="1.15" fill="#000"/>
<circle cx="694.00" cy="437.35" r="1.15" fill="#000"/>
<circle cx="697.55" cy="450.65" r="1.15" fill="#000"/>
<circle cx="701.10" cy="454.61" r="1.15" fill="#000"/>
<circle cx="704.65" cy="455.41" r="1.15" fill="#000"/>
<path d="M635.80 380.30H641.00M638.40 377.70V382.90" stroke="#222" stroke-width="0.8" fill="none"/>
<path d="M636.84 378.74L639.96 381.86M636.84 381.86L639.96 378.74" stroke="#444" stroke-width="0.6" fill="none"/>
<circle cx="638.40" cy="380.30" r="1.22" fill="#000"/>
<path d="M638.40 380.84H643.60M641.00 378.24V383.44" stroke="#222" stroke-width="0.8" fill="none"/>
<path d="M639.44 379.28L642.56 382.40M639.44 382.40L642.56 379.28" stroke="#444" stroke-width="0.6" fill="none"/>
<circle cx="641.00" cy="380.84" r="1.22" fill="#000"/>
<path d="M641.00 381.21H646.20M643.60 378.61V383.81" stroke="#222" stroke-width="0.8" fill="none"/>
<path d="M642.04 379.65L645.16 382.77M642.04 382.77L645.16 379.65" stroke="#444" stroke-width="0.6" fill="none"/>
<circle cx="643.60" cy="381.21" r="1.22" fill="#000"/>
<path d="M643.60 380.91H648.80M646.20 378.31V383.51" stroke="#222" stroke-width="0.8" fill="none"/>
<path d="M644.64 379.35L647.76 382.47M644.64 382.47L647.76 379.35" stroke="#444" stroke-width="0.6" fill="none"/>
<circle cx="646.20" cy="380.91" r="1.22" fill="#000"/>
<path d="M646.20 379.95H651.40M648.80 377.35V382.55" stroke="#222" stroke-width="0.8" fill="none"/>
<path d="M647.24 378.39L650.36 381.51M647.24 381.51L650.36 378.39" stroke="#444" stroke-width="0.6" fill="none"/>
<circle cx="648.80" cy="379.95" r="1.22" fill="#000"/>
<path d="M648.80 379.02H654.00M651.40 376.42V381.62" stroke="#222" stroke-width="0.8" fill="none"/>
<path d="M649.84 377.46L652.96 380.58M649.84 380.58L652.96 377.46" stroke="#444" stroke-width="0.6" fill="none"/>
<circle cx="651.40" cy="379.02" r="1.22" fill="#000"/>
<path d="M651.40 378.36H656.60M654.00 375.76V380.96" stroke="#222" stroke-width="0.8" fill="none"/>
<path d="M652.44 376.80L655.56 379.92M652.44 379.92L655.56 376.80" stroke="#444" stroke-width="0.6" fill="none"/>
<circle cx="654.00" cy="378.36" r="1.22" fill="#000"/>
<path d="M654.00 377.78H659.20M656.60 375.18V380.38" stroke="#222" stroke-width="0.8" fill="none"/>
<path d="M655.04 376.22L658.16 379.34M655.04 379.34L658.16 376.22" stroke="#444" stroke-width="0.6" fill="none"/>
<circle cx="656.60" cy="377.78" r="1.22" fill="#000"/>
<path d="M656.60 377.22H661.80M659.20 374.62V379.82" stroke="#222" stroke-width="0.8" fill="none"/>
<path d="M657.64 375.66L660.76 378.78M657.64 378.78L660.76 375.66" stroke="#444" stroke-width="0.6" fill="none"/>
<circle cx="659.20" cy="377.22" r="1.22" fill="#000"/>
<path d="M659.20 376.71H664.40M661.80 374.11V379.31" stroke="#222" stroke-width="0.8" fill="none"/>
<path d="M660.24 375.15L663.36 378.27M660.24 378.27L663.36 375.15" stroke="#444" stroke-width="0.6" fill="none"/>
<circle cx="661.80" cy="376.71" r="1.22" fill="#000"/>
<path d="M661.80 376.17H667.00M664.40 373.57V378.77" stroke="#222" stroke-width="0.8" fill="none"/>
<path d="M662.84 374.61L665.96 377.73M662.84 377.73L665.96 374.61" stroke="#444" stroke-width="0.6" fill="none"/>
<circle cx="664.40" cy="376.17" r="1.22" fill="#000"/>
<path d="M664.40 375.55H669.60M667.00 372.95V378.15" stroke="#222" stroke-width="0.8" fill="none"/>
<path d="M665.44 373.99L668.56 377.11M665.44 377.11L668.56 373.99" stroke="#444" stroke-width="0.6" fill="none"/>
<circle cx="667.00" cy="375.55" r="1.22" fill="#000"/>
<path d="M666.40 385.40H671.80M669.10 382.70V388.10" stroke="#222" stroke-width="0.8" fill="none"/>
<path d="M667.48 383.78L670.72 387.02M667.48 387.02L670.72 383.78" stroke="#444" stroke-width="0.6" fill="none"/>
<circle cx="669.10" cy="385.40" r="1.27" fill="#000"/>
<path d="M668.50 391.70H673.90M671.20 389.00V394.40" stroke="#222" stroke-width="0.8" fill="none"/>
<path d="M669.58 390.08L672.82 393.32M669.58 393.32L672.82 390.08" stroke="#444" stroke-width="0.6" fill="none"/>
<circle cx="671.20" cy="391.70" r="1.27" fill="#000"/>
<path d="M670.60 403.30H676.00M673.30 400.60V406.00" stroke="#222" stroke-width="0.8" fill="none"/>
<path d="M671.68 401.68L674.92 404.92M671.68 404.92L674.92 401.68" stroke="#444" stroke-width="0.6" fill="none"/>
<circle cx="673.30" cy="403.30" r="1.27" fill="#000"/>
<path d="M672.70 416.00H678.10M675.40 413.30V418.70" stroke="#222" stroke-width="0.8" fill="none"/>
<path d="M673.78 414.38L677.02 417.62M673.78 417.62L677.02 414.38" stroke="#444" stroke-width="0.6" fill="none"/>
<circle cx="675.40" cy="416.00" r="1.27" fill="#000"/>
<path d="M675.40 423.40H680.80M678.10 420.70V426.10" stroke="#222" stroke-width="0.8" fill="none"/>
<path d="M676.48 421.78L679.72 425.02M676.48 425.02L679.72 421.78" stroke="#444" stroke-width="0.6" fill="none"/>
<circle cx="678.10" cy="423.40" r="1.27" fill="#000"/>
<path d="M678.00 427.60H683.40M680.70 424.90V430.30" stroke="#222" stroke-width="0.8" fill="none"/>
<path d="M679.08 425.98L682.32 429.22M679.08 429.22L682.32 425.98" stroke="#444" stroke-width="0.6" fill="none"/>
<circle cx="680.70" cy="427.60" r="1.27" fill="#000"/>
<path d="M680.50 432.90H685.90M683.20 430.20V435.60" stroke="#222" stroke-width="0.8" fill="none"/>
<path d="M681.58 431.28L684.82 434.52M681.58 434.52L684.82 431.28" stroke="#444" stroke-width="0.6" fill="none"/>
<circle cx="683.20" cy="432.90" r="1.27" fill="#000"/>
<path d="M682.60 437.10H688.00M685.30 434.40V439.80" stroke="#222" stroke-width="0.8" fill="none"/>
<path d="M683.68 435.48L686.92 438.72M683.68 438.72L686.92 435.48" stroke="#444" stroke-width="0.6" fill="none"/>
<circle cx="685.30" cy="437.10" r="1.27" fill="#000"/>
<path d="M685.30 441.30H690.70M688.00 438.60V444.00" stroke="#222" stroke-width="0.8" fill="none"/>
<path d="M686.38 439.68L689.62 442.92M686.38 442.92L689.62 439.68" stroke="#444" stroke-width="0.6" fill="none"/>
<circle cx="688.00" cy="441.30" r="1.27" fill="#000"/>
<path d="M687.50 446.60H692.90M690.20 443.90V449.30" stroke="#222" stroke-width="0.8" fill="none"/>
<path d="M688.58 444.98L691.82 448.22M688.58 448.22L691.82 444.98" stroke="#444" stroke-width="0.6" fill="none"/>
<circle cx="690.20" cy="446.60" r="1.27" fill="#000"/>
<path d="M689.10 449.80H694.50M691.80 447.10V452.50" stroke="#222" stroke-width="0.8" fill="none"/>
<path d="M690.18 448.18L693.42 451.42M690.18 451.42L693.42 448.18" stroke="#444" stroke-width="0.6" fill="none"/>
<circle cx="691.80" cy="449.80" r="1.27" fill="#000"/>
<path d="M690.60 455.00H696.00M693.30 452.30V457.70" stroke="#222" stroke-width="0.8" fill="none"/>
<path d="M691.68 453.38L694.92 456.62M691.68 456.62L694.92 453.38" stroke="#444" stroke-width="0.6" fill="none"/>
<circle cx="693.30" cy="455.00" r="1.27" fill="#000"/>
<path d="M693.80 458.60H699.20M696.50 455.90V461.30" stroke="#222" stroke-width="0.8" fill="none"/>
<path d="M694.88 456.98L698.12 460.22M694.88 460.22L698.12 456.98" stroke="#444" stroke-width="0.6" fill="none"/>
<circle cx="696.50" cy="458.60" r="1.27" fill="#000"/>
<path d="M697.00 459.20H702.40M699.70 456.50V461.90" stroke="#222" stroke-width="0.8" fill="none"/>
<path d="M698.08 457.58L701.32 460.82M698.08 460.82L701.32 457.58" stroke="#444" stroke-width="0.6" fill="none"/>
<circle cx="699.70" cy="459.20" r="1.27" fill="#000"/>
<path d="M699.80 459.20H705.20M702.50 456.50V461.90" stroke="#222" stroke-width="0.8" fill="none"/>
<path d="M700.88 457.58L704.12 460.82M700.88 460.82L704.12 457.58" stroke="#444" stroke-width="0.6" fill="none"/>
<circle cx="702.50" cy="459.20" r="1.27" fill="#000"/>
<path d="M702.60 459.20H708.00M705.30 456.50V461.90" stroke="#222" stroke-width="0.8" fill="none"/>
<path d="M703.68 457.58L706.92 460.82M703.68 460.82L706.92 457.58" stroke="#444" stroke-width="0.6" fill="none"/>
<circle cx="705.30" cy="459.20" r="1.27" fill="#000"/>
<path d="M705.40 459.20H710.80M708.10 456.50V461.90" stroke="#222" stroke-width="0.8" fill="none"/>
<path d="M706.48 457.58L709.72 460.82M706.48 460.82L709.72 457.58" stroke="#444" stroke-width="0.6" fill="none"/>
<circle cx="708.10" cy="459.20" r="1.27" fill="#000"/>
<path d="M698.30 456.50H703.70M701.00 453.80V459.20" stroke="#222" stroke-width="0.8" fill="none"/>
<path d="M699.38 454.88L702.62 458.12M699.38 458.12L702.62 454.88" stroke="#444" stroke-width="0.6" fill="none"/>
<circle cx="701.00" cy="456.50" r="1.27" fill="#000"/>
<path d="M702.30 456.50H707.70M705.00 453.80V459.20" stroke="#222" stroke-width="0.8" fill="none"/>
<path d="M703.38 454.88L706.62 458.12M703.38 458.12L706.62 454.88" stroke="#444" stroke-width="0.6" fill="none"/>
<circle cx="705.00" cy="456.50" r="1.27" fill="#000"/>
<polyline points="676.00,418.00 676.33,418.72 676.78,419.74 677.31,420.94 677.89,422.20 678.47,423.43 679.00,424.50 679.50,425.43 680.00,426.31 680.50,427.16 681.00,427.96 681.50,428.74 682.00,429.50 682.50,430.21 683.00,430.87 683.50,431.50 684.00,432.13 684.50,432.79 685.00,433.50 685.50,434.25 686.00,435.00 686.50,435.78 687.00,436.61 687.50,437.51 688.00,438.50 688.50,439.61 689.00,440.81 689.50,442.09 690.00,443.41 690.50,444.72 691.00,446.00 691.50,447.28 692.00,448.61 692.50,449.94 693.00,451.22 693.50,452.42 694.00,453.50 694.50,454.46 695.00,455.34 695.50,456.14 696.00,456.85 696.50,457.47 697.00,458.00 697.53,458.42 698.11,458.72 698.69,458.93 699.22,459.08 699.67,459.20 700.00,459.30" fill="none" stroke="#383838" stroke-width="1.0" stroke-linejoin="round" stroke-linecap="round"/>
<polyline points="923.00,459.40 923.16,459.34 923.33,459.27 923.56,459.18 923.88,459.06 924.35,458.91 925.00,458.70 925.89,458.43 926.99,458.10 928.23,457.74 929.54,457.35 930.86,456.97 932.10,456.60 933.30,456.26 934.52,455.93 935.74,455.60 936.94,455.26 938.10,454.90 939.20,454.50 940.24,454.07 941.23,453.61 942.19,453.14 943.11,452.64 944.01,452.13 944.90,451.60 945.76,451.08 946.59,450.56 947.39,450.02 948.19,449.45 948.99,448.82 949.80,448.10 950.64,447.29 951.49,446.41 952.34,445.48 953.19,444.49 954.01,443.46 954.80,442.40 955.55,441.33 956.28,440.24 956.99,439.11 957.67,437.93 958.34,436.66 959.00,435.30 959.64,433.81 960.27,432.21 960.89,430.53 961.48,428.80 962.05,427.08 962.60,425.40 963.12,423.74 963.61,422.08 964.09,420.41 964.54,418.76 964.98,417.12 965.40,415.50 965.80,413.91 966.18,412.35 966.54,410.81 966.90,409.27 967.25,407.74 967.60,406.20 967.96,404.68 968.31,403.19 968.66,401.71 969.00,400.20 969.35,398.64 969.70,397.00 970.04,395.37 970.37,393.80 970.69,392.17 971.03,390.39 971.40,388.37 971.80,386.00 972.24,383.19 972.72,379.99 973.22,376.55 973.74,373.00 974.27,369.47 974.80,366.10 975.34,362.86 975.90,359.63 976.46,356.43 977.03,353.26 977.58,350.15 978.10,347.10 978.59,344.10 979.07,341.12 979.52,338.20 979.98,335.36 980.43,332.61 980.90,330.00 981.38,327.51 981.86,325.11 982.35,322.82 982.84,320.64 983.32,318.56 983.80,316.60 984.27,314.74 984.74,312.97 985.20,311.31 985.66,309.77 986.13,308.36 986.60,307.10 987.08,306.00 987.57,305.04 988.07,304.22 988.56,303.51 989.04,302.91 989.50,302.40 989.94,301.99 990.36,301.70 990.77,301.51 991.17,301.41 991.58,301.38 992.00,301.40 992.42,301.46 992.84,301.58 993.26,301.76 993.69,302.03 994.14,302.41 994.60,302.90 995.09,303.49 995.59,304.17 996.11,304.94 996.64,305.84 997.17,306.89 997.70,308.10 998.23,309.53 998.77,311.18 999.31,312.97 999.85,314.83 1000.38,316.70 1000.90,318.50 1001.40,320.26 1001.89,322.03 1002.38,323.81 1002.85,325.57 1003.33,327.31 1003.80,329.00 1004.27,330.64 1004.74,332.24 1005.20,333.81 1005.66,335.37 1006.13,336.93 1006.60,338.50 1007.08,340.09 1007.56,341.70 1008.05,343.31 1008.54,344.90 1009.02,346.47 1009.50,348.00 1009.97,349.49 1010.44,350.94 1010.90,352.36 1011.36,353.77 1011.83,355.18 1012.30,356.60 1012.78,358.02 1013.26,359.44 1013.74,360.86 1014.22,362.28 1014.71,363.69 1015.20,365.10 1015.68,366.51 1016.15,367.92 1016.62,369.33 1017.11,370.73 1017.63,372.12 1018.20,373.50 1018.82,374.87 1019.47,376.23 1020.16,377.59 1020.87,378.92 1021.62,380.23 1022.40,381.50 1023.21,382.76 1024.05,384.01 1024.92,385.23 1025.82,386.40 1026.75,387.50 1027.70,388.50 1028.69,389.42 1029.73,390.28 1030.79,391.06 1031.86,391.76 1032.94,392.34 1034.00,392.80 1035.06,393.12 1036.14,393.31 1037.21,393.40 1038.27,393.40 1039.31,393.32 1040.30,393.20 1041.25,392.97 1042.18,392.61 1043.08,392.17 1043.95,391.74 1044.79,391.36 1045.60,391.10 1046.38,390.95 1047.12,390.84 1047.83,390.80 1048.51,390.82 1049.17,390.92 1049.80,391.10 1050.39,391.35 1050.94,391.66 1051.46,392.05 1051.97,392.53 1052.48,393.10 1053.00,393.80 1053.53,394.62 1054.07,395.54 1054.61,396.58 1055.14,397.70 1055.67,398.91 1056.20,400.20 1056.72,401.59 1057.24,403.10 1057.75,404.69 1058.26,406.34 1058.78,408.02 1059.30,409.70 1059.82,411.43 1060.32,413.24 1060.83,415.08 1061.36,416.89 1061.91,418.62 1062.50,420.20 1063.14,421.64 1063.83,422.97 1064.54,424.23 1065.26,425.40 1065.99,426.52 1066.70,427.60 1067.41,428.59 1068.14,429.49 1068.86,430.32 1069.57,431.14 1070.26,431.98 1070.90,432.90 1071.49,433.87 1072.04,434.84 1072.56,435.85 1073.07,436.90 1073.58,438.01 1074.10,439.20 1074.63,440.50 1075.17,441.91 1075.71,443.39 1076.24,444.87 1076.77,446.33 1077.30,447.70 1077.81,449.03 1078.30,450.37 1078.78,451.68 1079.28,452.91 1079.82,454.03 1080.40,455.00 1080.98,455.79 1081.52,456.45 1082.10,456.99 1082.78,457.44 1083.62,457.84 1084.70,458.20 1086.07,458.52 1087.70,458.76 1089.49,458.94 1091.37,459.09 1093.23,459.20 1095.00,459.30 1096.80,459.38 1098.73,459.41 1100.64,459.42 1102.42,459.41 1103.92,459.40 1105.00,459.40" fill="none" stroke="#383838" stroke-width="1.0" stroke-linejoin="round" stroke-linecap="round"/>
<polyline points="971.80,364.20 972.22,363.30 972.80,362.07 973.49,360.61 974.22,358.99 974.95,357.29 975.60,355.60 976.19,353.81 976.76,351.83 977.33,349.78 977.88,347.75 978.44,345.85 979.00,344.20 979.57,342.81 980.14,341.61 980.71,340.55 981.27,339.56 981.84,338.60 982.40,337.60 982.96,336.55 983.53,335.48 984.09,334.44 984.64,333.45 985.18,332.56 985.70,331.80 986.19,331.18 986.64,330.69 987.09,330.29 987.53,329.96 988.00,329.67 988.50,329.40 989.05,329.16 989.63,328.96 990.23,328.80 990.83,328.69 991.43,328.62 992.00,328.60 992.54,328.63 993.07,328.72 993.58,328.86 994.10,329.02 994.64,329.21 995.20,329.40 995.80,329.57 996.42,329.73 997.06,329.90 997.71,330.13 998.36,330.45 999.00,330.90 999.63,331.52 1000.27,332.28 1000.90,333.14 1001.53,334.03 1002.17,334.90 1002.80,335.70 1003.44,336.43 1004.09,337.14 1004.74,337.83 1005.38,338.50 1006.00,339.16 1006.60,339.80 1007.16,340.41 1007.70,341.00 1008.22,341.57 1008.73,342.13 1009.26,342.71 1009.80,343.30 1010.37,343.91 1010.95,344.51 1011.54,345.12 1012.13,345.76 1012.72,346.41 1013.30,347.10 1013.87,347.85 1014.45,348.66 1015.02,349.49 1015.59,350.31 1016.15,351.09 1016.70,351.80 1017.23,352.40 1017.73,352.91 1018.23,353.38 1018.74,353.85 1019.29,354.37 1019.90,355.00 1020.59,355.79 1021.34,356.73 1022.14,357.72 1022.94,358.68 1023.74,359.50 1024.50,360.10 1025.22,360.42 1025.93,360.53 1026.62,360.51 1027.31,360.44 1028.00,360.41 1028.70,360.50 1029.40,360.75 1030.10,361.09 1030.79,361.47 1031.49,361.82 1032.19,362.09 1032.90,362.20 1033.61,362.12 1034.33,361.88 1035.05,361.56 1035.77,361.21 1036.49,360.90 1037.20,360.70 1037.89,360.61 1038.57,360.59 1039.24,360.61 1039.92,360.64 1040.64,360.68 1041.40,360.70 1042.24,360.71 1043.14,360.72 1044.08,360.74 1045.00,360.74 1045.89,360.73 1046.70,360.70 1047.42,360.57 1048.09,360.33 1048.71,360.07 1049.31,359.89 1049.90,359.87 1050.50,360.10 1051.10,360.59 1051.70,361.28 1052.29,362.13 1052.87,363.11 1053.44,364.18 1054.00,365.30 1054.55,366.56 1055.09,368.01 1055.62,369.55 1056.14,371.09 1056.67,372.54 1057.20,373.80 1057.73,374.80 1058.27,375.58 1058.81,376.27 1059.34,376.99 1059.87,377.86 1060.40,379.00 1060.91,380.49 1061.41,382.25 1061.91,384.16 1062.42,386.10 1062.94,387.96 1063.50,389.60 1064.10,390.99 1064.72,392.23 1065.37,393.37 1066.02,394.50 1066.67,395.68 1067.30,397.00 1067.92,398.47 1068.53,400.05 1069.14,401.69 1069.74,403.34 1070.33,404.96 1070.90,406.50 1071.46,407.95 1072.02,409.34 1072.57,410.70 1073.10,412.06 1073.61,413.45 1074.10,414.90 1074.57,416.46 1075.01,418.10 1075.44,419.77 1075.85,421.42 1076.24,422.98 1076.60,424.40 1076.92,425.55 1077.21,426.46 1077.47,427.27 1077.73,428.17 1078.00,429.29 1078.30,430.80 1078.61,432.84 1078.93,435.31 1079.26,438.02 1079.60,440.75 1079.98,443.31 1080.40,445.50 1080.86,447.36 1081.35,449.07 1081.87,450.61 1082.42,451.95 1083.00,453.09 1083.60,454.00 1084.25,454.60 1084.96,454.90 1085.70,454.99 1086.44,454.97 1087.15,454.94 1087.80,455.00 1088.43,455.14 1089.06,455.28 1089.66,455.41 1090.21,455.53 1090.66,455.63 1091.00,455.70" fill="none" stroke="#444" stroke-width="0.75" stroke-linejoin="round" stroke-linecap="round"/>
<circle cx="971.80" cy="364.20" r="1.15" fill="#000"/>
<circle cx="975.35" cy="356.25" r="1.15" fill="#000"/>
<circle cx="978.90" cy="344.49" r="1.15" fill="#000"/>
<circle cx="982.45" cy="337.51" r="1.15" fill="#000"/>
<circle cx="986.00" cy="331.42" r="1.15" fill="#000"/>
<circle cx="989.55" cy="328.98" r="1.15" fill="#000"/>
<circle cx="993.10" cy="328.73" r="1.15" fill="#000"/>
<circle cx="996.65" cy="329.79" r="1.15" fill="#000"/>
<circle cx="1000.20" cy="332.20" r="1.15" fill="#000"/>
<circle cx="1003.75" cy="336.77" r="1.15" fill="#000"/>
<circle cx="1007.30" cy="340.56" r="1.15" fill="#000"/>
<circle cx="1010.85" cy="344.41" r="1.15" fill="#000"/>
<circle cx="1014.40" cy="348.59" r="1.15" fill="#000"/>
<circle cx="1017.95" cy="353.12" r="1.15" fill="#000"/>
<circle cx="1021.50" cy="356.93" r="1.15" fill="#000"/>
<circle cx="1025.05" cy="360.35" r="1.15" fill="#000"/>
<circle cx="1028.60" cy="360.49" r="1.15" fill="#000"/>
<circle cx="1032.15" cy="362.07" r="1.15" fill="#000"/>
<circle cx="1035.70" cy="361.24" r="1.15" fill="#000"/>
<circle cx="1039.25" cy="360.61" r="1.15" fill="#000"/>
<circle cx="1042.80" cy="360.72" r="1.15" fill="#000"/>
<circle cx="1046.35" cy="360.72" r="1.15" fill="#000"/>
<circle cx="1049.90" cy="359.87" r="1.15" fill="#000"/>
<circle cx="1053.45" cy="364.20" r="1.15" fill="#000"/>
<circle cx="1057.00" cy="373.32" r="1.15" fill="#000"/>
<circle cx="1060.55" cy="379.43" r="1.15" fill="#000"/>
<circle cx="1064.10" cy="391.00" r="1.15" fill="#000"/>
<circle cx="1067.65" cy="397.84" r="1.15" fill="#000"/>
<circle cx="1071.20" cy="407.27" r="1.15" fill="#000"/>
<circle cx="1074.75" cy="417.13" r="1.15" fill="#000"/>
<circle cx="1078.30" cy="430.80" r="1.15" fill="#000"/>
<circle cx="1081.85" cy="450.55" r="1.15" fill="#000"/>
<circle cx="1085.40" cy="454.95" r="1.15" fill="#000"/>
<circle cx="1088.95" cy="455.26" r="1.15" fill="#000"/>
<path d="M1021.80 380.50H1027.20M1024.50 377.80V383.20" stroke="#222" stroke-width="0.8" fill="none"/>
<path d="M1022.88 378.88L1026.12 382.12M1022.88 382.12L1026.12 378.88" stroke="#444" stroke-width="0.6" fill="none"/>
<circle cx="1024.50" cy="380.50" r="1.27" fill="#000"/>
<path d="M1023.90 383.30H1029.30M1026.60 380.60V386.00" stroke="#222" stroke-width="0.8" fill="none"/>
<path d="M1024.98 381.68L1028.22 384.92M1024.98 384.92L1028.22 381.68" stroke="#444" stroke-width="0.6" fill="none"/>
<circle cx="1026.60" cy="383.30" r="1.27" fill="#000"/>
<path d="M1027.10 385.40H1032.50M1029.80 382.70V388.10" stroke="#222" stroke-width="0.8" fill="none"/>
<path d="M1028.18 383.78L1031.42 387.02M1028.18 387.02L1031.42 383.78" stroke="#444" stroke-width="0.6" fill="none"/>
<circle cx="1029.80" cy="385.40" r="1.27" fill="#000"/>
<path d="M1030.20 386.40H1035.60M1032.90 383.70V389.10" stroke="#222" stroke-width="0.8" fill="none"/>
<path d="M1031.28 384.78L1034.52 388.02M1031.28 388.02L1034.52 384.78" stroke="#444" stroke-width="0.6" fill="none"/>
<circle cx="1032.90" cy="386.40" r="1.27" fill="#000"/>
<path d="M1033.40 385.40H1038.80M1036.10 382.70V388.10" stroke="#222" stroke-width="0.8" fill="none"/>
<path d="M1034.48 383.78L1037.72 387.02M1034.48 387.02L1037.72 383.78" stroke="#444" stroke-width="0.6" fill="none"/>
<circle cx="1036.10" cy="385.40" r="1.27" fill="#000"/>
<path d="M1036.60 382.20H1042.00M1039.30 379.50V384.90" stroke="#222" stroke-width="0.8" fill="none"/>
<path d="M1037.68 380.58L1040.92 383.82M1037.68 383.82L1040.92 380.58" stroke="#444" stroke-width="0.6" fill="none"/>
<circle cx="1039.30" cy="382.20" r="1.27" fill="#000"/>
<path d="M1038.70 380.50H1044.10M1041.40 377.80V383.20" stroke="#222" stroke-width="0.8" fill="none"/>
<path d="M1039.78 378.88L1043.02 382.12M1039.78 382.12L1043.02 378.88" stroke="#444" stroke-width="0.6" fill="none"/>
<circle cx="1041.40" cy="380.50" r="1.27" fill="#000"/>
<path d="M1041.90 382.20H1047.30M1044.60 379.50V384.90" stroke="#222" stroke-width="0.8" fill="none"/>
<path d="M1042.98 380.58L1046.22 383.82M1042.98 383.82L1046.22 380.58" stroke="#444" stroke-width="0.6" fill="none"/>
<circle cx="1044.60" cy="382.20" r="1.27" fill="#000"/>
<path d="M1045.00 383.30H1050.40M1047.70 380.60V386.00" stroke="#222" stroke-width="0.8" fill="none"/>
<path d="M1046.08 381.68L1049.32 384.92M1046.08 384.92L1049.32 381.68" stroke="#444" stroke-width="0.6" fill="none"/>
<circle cx="1047.70" cy="383.30" r="1.27" fill="#000"/>
<path d="M1048.20 384.30H1053.60M1050.90 381.60V387.00" stroke="#222" stroke-width="0.8" fill="none"/>
<path d="M1049.28 382.68L1052.52 385.92M1049.28 385.92L1052.52 382.68" stroke="#444" stroke-width="0.6" fill="none"/>
<circle cx="1050.90" cy="384.30" r="1.27" fill="#000"/>
<path d="M1050.30 388.50H1055.70M1053.00 385.80V391.20" stroke="#222" stroke-width="0.8" fill="none"/>
<path d="M1051.38 386.88L1054.62 390.12M1051.38 390.12L1054.62 386.88" stroke="#444" stroke-width="0.6" fill="none"/>
<circle cx="1053.00" cy="388.50" r="1.27" fill="#000"/>
<path d="M1052.80 391.70H1058.20M1055.50 389.00V394.40" stroke="#222" stroke-width="0.8" fill="none"/>
<path d="M1053.88 390.08L1057.12 393.32M1053.88 393.32L1057.12 390.08" stroke="#444" stroke-width="0.6" fill="none"/>
<circle cx="1055.50" cy="391.70" r="1.27" fill="#000"/>
<path d="M1055.60 397.00H1061.00M1058.30 394.30V399.70" stroke="#222" stroke-width="0.8" fill="none"/>
<path d="M1056.68 395.38L1059.92 398.62M1056.68 398.62L1059.92 395.38" stroke="#444" stroke-width="0.6" fill="none"/>
<circle cx="1058.30" cy="397.00" r="1.27" fill="#000"/>
<path d="M1057.70 410.70H1063.10M1060.40 408.00V413.40" stroke="#222" stroke-width="0.8" fill="none"/>
<path d="M1058.78 409.08L1062.02 412.32M1058.78 412.32L1062.02 409.08" stroke="#444" stroke-width="0.6" fill="none"/>
<circle cx="1060.40" cy="410.70" r="1.27" fill="#000"/>
<path d="M1060.40 418.10H1065.80M1063.10 415.40V420.80" stroke="#222" stroke-width="0.8" fill="none"/>
<path d="M1061.48 416.48L1064.72 419.72M1061.48 419.72L1064.72 416.48" stroke="#444" stroke-width="0.6" fill="none"/>
<circle cx="1063.10" cy="418.10" r="1.27" fill="#000"/>
<path d="M1063.00 426.50H1068.40M1065.70 423.80V429.20" stroke="#222" stroke-width="0.8" fill="none"/>
<path d="M1064.08 424.88L1067.32 428.12M1064.08 428.12L1067.32 424.88" stroke="#444" stroke-width="0.6" fill="none"/>
<circle cx="1065.70" cy="426.50" r="1.27" fill="#000"/>
<path d="M1065.50 432.90H1070.90M1068.20 430.20V435.60" stroke="#222" stroke-width="0.8" fill="none"/>
<path d="M1066.58 431.28L1069.82 434.52M1066.58 434.52L1069.82 431.28" stroke="#444" stroke-width="0.6" fill="none"/>
<circle cx="1068.20" cy="432.90" r="1.27" fill="#000"/>
<path d="M1068.20 437.10H1073.60M1070.90 434.40V439.80" stroke="#222" stroke-width="0.8" fill="none"/>
<path d="M1069.28 435.48L1072.52 438.72M1069.28 438.72L1072.52 435.48" stroke="#444" stroke-width="0.6" fill="none"/>
<circle cx="1070.90" cy="437.10" r="1.27" fill="#000"/>
<path d="M1070.30 442.40H1075.70M1073.00 439.70V445.10" stroke="#222" stroke-width="0.8" fill="none"/>
<path d="M1071.38 440.78L1074.62 444.02M1071.38 444.02L1074.62 440.78" stroke="#444" stroke-width="0.6" fill="none"/>
<circle cx="1073.00" cy="442.40" r="1.27" fill="#000"/>
<path d="M1072.50 448.70H1077.90M1075.20 446.00V451.40" stroke="#222" stroke-width="0.8" fill="none"/>
<path d="M1073.58 447.08L1076.82 450.32M1073.58 450.32L1076.82 447.08" stroke="#444" stroke-width="0.6" fill="none"/>
<circle cx="1075.20" cy="448.70" r="1.27" fill="#000"/>
<path d="M1074.60 455.00H1080.00M1077.30 452.30V457.70" stroke="#222" stroke-width="0.8" fill="none"/>
<path d="M1075.68 453.38L1078.92 456.62M1075.68 456.62L1078.92 453.38" stroke="#444" stroke-width="0.6" fill="none"/>
<circle cx="1077.30" cy="455.00" r="1.27" fill="#000"/>
<path d="M1077.70 458.20H1083.10M1080.40 455.50V460.90" stroke="#222" stroke-width="0.8" fill="none"/>
<path d="M1078.78 456.58L1082.02 459.82M1078.78 459.82L1082.02 456.58" stroke="#444" stroke-width="0.6" fill="none"/>
<circle cx="1080.40" cy="458.20" r="1.27" fill="#000"/>
<path d="M1080.90 459.20H1086.30M1083.60 456.50V461.90" stroke="#222" stroke-width="0.8" fill="none"/>
<path d="M1081.98 457.58L1085.22 460.82M1081.98 460.82L1085.22 457.58" stroke="#444" stroke-width="0.6" fill="none"/>
<circle cx="1083.60" cy="459.20" r="1.27" fill="#000"/>
<path d="M1083.70 459.20H1089.10M1086.40 456.50V461.90" stroke="#222" stroke-width="0.8" fill="none"/>
<path d="M1084.78 457.58L1088.02 460.82M1084.78 460.82L1088.02 457.58" stroke="#444" stroke-width="0.6" fill="none"/>
<circle cx="1086.40" cy="459.20" r="1.27" fill="#000"/>
<path d="M1086.50 459.20H1091.90M1089.20 456.50V461.90" stroke="#222" stroke-width="0.8" fill="none"/>
<path d="M1087.58 457.58L1090.82 460.82M1087.58 460.82L1090.82 457.58" stroke="#444" stroke-width="0.6" fill="none"/>
<circle cx="1089.20" cy="459.20" r="1.27" fill="#000"/>
<path d="M1089.30 459.20H1094.70M1092.00 456.50V461.90" stroke="#222" stroke-width="0.8" fill="none"/>
<path d="M1090.38 457.58L1093.62 460.82M1090.38 460.82L1093.62 457.58" stroke="#444" stroke-width="0.6" fill="none"/>
<circle cx="1092.00" cy="459.20" r="1.27" fill="#000"/>
<path d="M1085.10 456.20H1090.50M1087.80 453.50V458.90" stroke="#222" stroke-width="0.8" fill="none"/>
<path d="M1086.18 454.58L1089.42 457.82M1086.18 457.82L1089.42 454.58" stroke="#444" stroke-width="0.6" fill="none"/>
<circle cx="1087.80" cy="456.20" r="1.27" fill="#000"/>
<path d="M1088.30 456.00H1093.70M1091.00 453.30V458.70" stroke="#222" stroke-width="0.8" fill="none"/>
<path d="M1089.38 454.38L1092.62 457.62M1089.38 457.62L1092.62 454.38" stroke="#444" stroke-width="0.6" fill="none"/>
<circle cx="1091.00" cy="456.00" r="1.27" fill="#000"/>
<polyline points="1060.00,412.00 1060.33,412.83 1060.78,413.98 1061.31,415.34 1061.89,416.80 1062.47,418.22 1063.00,419.50 1063.50,420.66 1064.00,421.80 1064.50,422.91 1065.00,423.98 1065.50,425.02 1066.00,426.00 1066.50,426.91 1067.00,427.76 1067.50,428.56 1068.00,429.35 1068.50,430.16 1069.00,431.00 1069.50,431.87 1070.00,432.74 1070.50,433.62 1071.00,434.54 1071.50,435.49 1072.00,436.50 1072.50,437.57 1073.00,438.69 1073.50,439.84 1074.00,441.04 1074.50,442.26 1075.00,443.50 1075.50,444.80 1076.00,446.19 1076.50,447.59 1077.00,448.98 1077.50,450.30 1078.00,451.50 1078.50,452.60 1079.00,453.64 1079.50,454.61 1080.00,455.50 1080.50,456.30 1081.00,457.00 1081.53,457.58 1082.11,458.06 1082.69,458.44 1083.22,458.75 1083.67,459.00 1084.00,459.20" fill="none" stroke="#383838" stroke-width="1.0" stroke-linejoin="round" stroke-linecap="round"/>
<polygon points="259.20,61.80 260.35,63.94 262.50,65.10 260.35,66.25 259.20,68.40 258.05,66.25 255.90,65.10 258.05,63.94" fill="#000"/>
<circle cx="259.2" cy="65.1" r="1.3" fill="#000"/>
</svg></body></html>
